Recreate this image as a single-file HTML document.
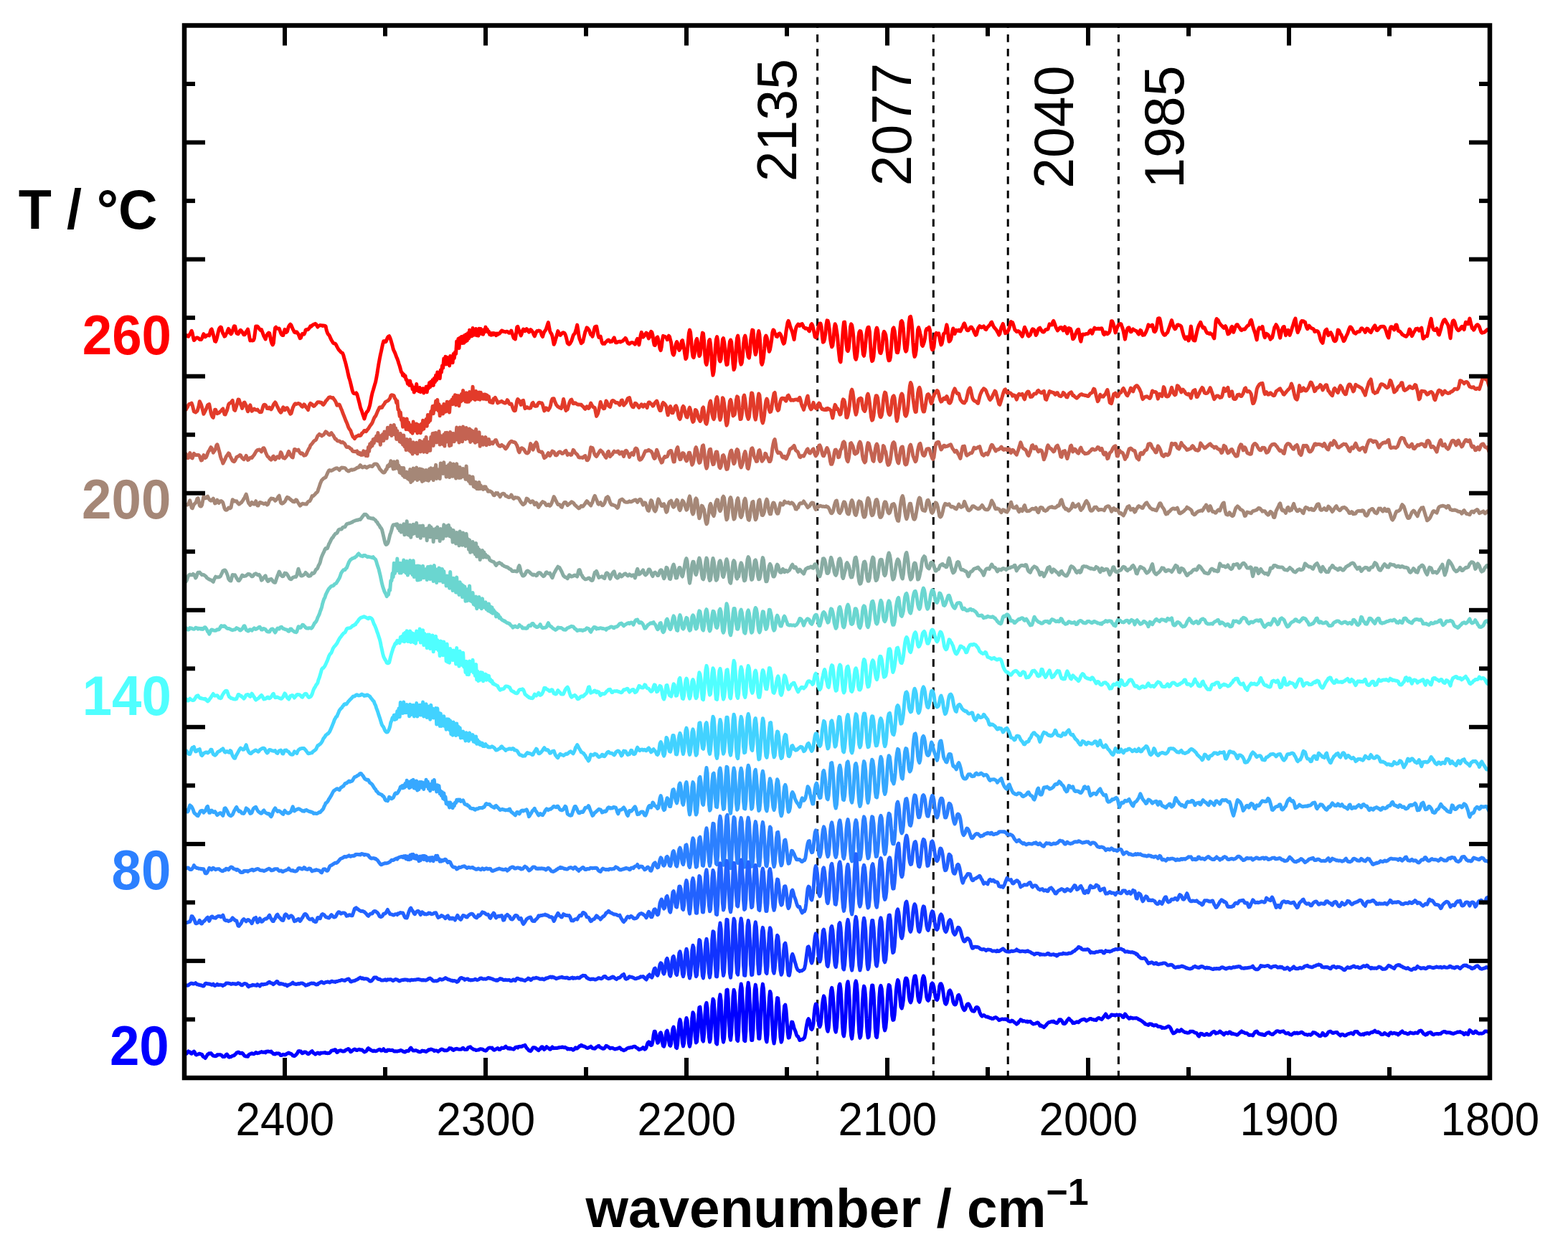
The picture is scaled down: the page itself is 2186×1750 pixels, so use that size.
<!DOCTYPE html>
<html><head><meta charset="utf-8"><title>IR spectra</title>
<style>
html,body{margin:0;padding:0;background:#fff;}
body{width:2186px;height:1750px;overflow:hidden;}
svg{display:block;}
.t{font-family:"Liberation Sans",Arial,sans-serif;}
</style></head><body>
<svg width="2186" height="1750" viewBox="0 0 2186 1750">
<rect x="0" y="0" width="2186" height="1750" fill="#fff"/>
<g stroke="#000" stroke-width="3" stroke-dasharray="10.7 9.094" stroke-dashoffset="7.2">
<line x1="1139.6" y1="35.5" x2="1139.6" y2="1503"/>
<line x1="1301.3" y1="35.5" x2="1301.3" y2="1503"/>
<line x1="1405.2" y1="35.5" x2="1405.2" y2="1503"/>
<line x1="1559.4" y1="35.5" x2="1559.4" y2="1503"/>
</g>
<g fill="none" stroke-width="5" stroke-linejoin="round" stroke-linecap="butt">
<path stroke="#FF0000" d="M257 470.3l1.1-1.6 1.1-1.3 1.2 .3 1.1 1.2 1.1 .3 1.1-2 1.1-1.1 1.2-2.4 1.1-2.4 1.1 3.1 1.1 5.7 1.1 4.4 1.2-1 1.1-1.5 1.1-.8 1.1-.4 1.1 .3 1.2 1.1 1.1 1.2 1.1 .1 1.1 0 1.1-1.8 1.2-3.5 1.1-2.5 1.1 1.7 1.1 2.4 1.1-.8 1.2-1.1 1.1-.7 1.1 .3 1.1 .5 1.1-4.2 1.2-3.7 1.1-1.1 1.1 3.5 1.1 4 1.1 4.3 1.2 5 1.1 .5 1.1-2.9 1.1-4.1 1.1-5 1.2-5 1.1-2 1.1-1.2 1.1 .5 1.1 4.7 1.2 3.7 1.1 1.7 1.1 2.4 1.1-.7 1.1-2.8 1.2-1.6 1.1-3.4 1.1-2.2 1.1 1.8 1.1 4 1.2 1.6 1.1-1.3 1.1-2.9 1.1-3.7 1.1-3.2 1.2 .2 1.1 4.7 1.1 4.9 1.1 .9 1.1 .3 1.2-1.6 1.1-2.6 1.1-1.2 1.1 1.2 1.1 1.4 1.2 2 1.1 1.9 1.1-.1 1.1-1.4 1.1-2.8 1.2-1.3 1.1-2.2 1.1 4.3 1.1 6.5 1.1 5.1 1.2-.2 1.1 .1 1.1 .1 1.1-.3 1.1-2.6 1.2-8.6 1.1-8.5 1.1 .3 1.1-.1 1.1 1.1 1.2 1.9 1.1 1.5 1.1 .9 1.1-.9 1.1 3 1.2 3.2 1.1 3 1.1 1.8 1.1 2.3 1.1-3.6 1.2-2.5 1.1-1.7 1.1-1 1.1 .4 1.1 5.6 1.2 5.8 1.1 3.2 1.1 1.8 1.1-2.4 1.1-11.2 1.2-10 1.1-1.1 1.1 1.3 1.1 .8 1.1-.1 1.2-.1 1.1 2.9 1.1 3.3 1.1 2.2 1.1 1.1 1.2 0 1.1-4.3 1.1-3.9 1.1 1.7 1.1 2.3 1.2-1 1.1-4.1 1.1-3.3 1.1-1.7 1.1-1.1 1.2 1.3 1.1 2.6 1.1 2.7 1.1 2.1 1.1 2.3 1.2 .5 1.1-.9 1.1 .1 1.1 1.8 1.1 1.2 1.2 3.1 1.1 2.7 1.1-.6 1.1-3.1 1.1-2.7 1.2 .6 1.1 .3 1.1-2.3 1.1-3.8 1.1-.5 1.2 .1 1.1-.2 1.1-1.4 1.1-1.4 1.1-2 1.2 .5 1.1-1.3 1.1-.7 1.1-.9 1.1-.3 1.2-.6 1.1 .9 1.1 1.9 1.1 1.8 1.1-1.3 1.2-.6 1.1-.6 1.1 .3 1.1 0 1.1 .6 1.2-.5 1.1 .4 1.1-.1 1.1 .8 1.1 5.4 1.2 3.6 1.1 2.1 1.1 1 1.1 1.9 1.1 2.7 1.2 2.5 1.1 1.7 1.1 2 1.1 .9 1.1 .1 1.2 .4 1.1 1.8 1.1 2.3 1.1 2 1.1 2 1.2 1.3 1.1 1.1 1.1 1.4 1.1 .7 1.1 .6 1.2 2.9 1.1 4.4 1.1 3.6 1.1 4 1.1 4.6 1.2 4.9 1.1 5.3 1.1 4.6 1.1 3.2 1.1 4.3 1.2 5 1.1 4.8 1.1 3.2 1.1 1.3 1.1 .2 1.2 .1 1.1-1 1.1 1.9 1.1 4.1 1.1 4.1 1.2 4.6 1.1 4.8 1.1 3.5 1.1 2.6 1.1 3.7 1.2 3.4 1.1 3.4 1.1-3.5 1.1-3.5 1.1-2.3 1.2-1.1 1.1-1.8 1.1-3.2 1.1-3.7 1.1-5.9 1.2-6.4 1.1-4.8 1.1-3.5 1.1-3.8 1.1-3.9 1.2-3.8 1.1-5.7 1.1-6.1 1.1-7.2 1.1-6.6 1.2-6.6 1.1-5.6 1.1-4.8 1.1-5.2 1.1-5.1 1.2-4.1 1.1-.2 1.1 1.1 1.1-.2 1.1-3.1 1.2-2.9 1.1-1.3 1.1-.6 1.1 2.4 1.1 2.8 1.2 4.3 1.1 3.9 1.1 4.7 1.1 2.7 1.1 2.1 1.2 3.1 1.1 3.1 1.1 2.4 1.1 3.2 1.1 3.7 1.2 3.5 1.1 4 1.1 4.1 1.1 1 1.1 3.9 1.2-1.7 1.1 3.5 1.1-1.2 1.1 5.4 1.1 .1 1.2 5.7 1.1-2.2 1.1 4.1 1.1-6.1 1.1 6.6 1.2-1.1 1.1 6.1 1.1-2.9 1.1 7.3 1.1-4.4 1.2 1.3 1.1-8.4 1.1 8.8 1.1-3.5 1.1 4.7 1.2-5.1 1.1 6.1 1.1-2.9 1.1 2 1.1-4 1.2 6.3 1.1-5.6 1.1 3.1 1.1-6.2 1.1 7.6 1.2-8.2 1.1 2.7 1.1-7.6 1.1 5.7 1.1-7.2 1.2 4.8 1.1-7.4 1.1 7.7 1.1-9.8 1.1 5.2 1.2-9.5 1.1 6.8 1.1-11 1.1 4.5 1.1-3.4 1.2 7.6 1.1-11.8 1.1 3.1 1.1-9 1.1 3.1 1.2-13.2 1.1 8 1.1-10.7 1.1 10.6 1.1-9.6 1.2 9.1 1.1-4.8 1.1 7.4 1.1-13.5 1.1 8 1.2-6.6 1.1 7.9 1.1-12.4 1.1 6.1 1.1-8.5 1.2 2.3 1.1-17.3 1.1 6.9 1.1-10.4 1.1 13 1.2-14.4 1.1 6.8 1.1-8.4 1.1 8.9 1.1-9.5 1.2 9.4 1.1-10.7 1.1 8.7 1.1-10.1 1.1 8.7 1.2-10.4 1.1 7.6 1.1-11.8 1.1 9 1.1-4.6 1.2 4 1.1-11.1 1.1 9.7 1.1-7.4 1.1 7.1 1.2-8.6 1.1 9.4 1.1-5.3 1.1 5.6 1.1-9.9 1.2 6.4 1.1-6.1 1.1 7.1 1.1-4.5 1.1 5.1 1.2-6.4 1.1 3 1.1-6.7 1.1 4.6 1.1-1.7 1.2 4.1 1.1-1 1.1 4.4 1.1-1.9 1.1 2.6 1.2-2.5 1.1 2 1.1-2.2 1.1 1.6 1.1-.9 1.2 2.5 1.1-2.6 1.1 1.5 1.1-1.6 1.1 .3 1.2-1.1 1.1-1.9 1.1-1.3 1.1 .3 1.1 .9 1.2 0 1.1 .5 1.1 .4 1.1-.8 1.1-.1 1.2 .9 1.1 1.2 1.1-.1 1.1-1.2 1.1-1.9 1.2 3.2 1.1 4.1 1.1 3 1.1 .7 1.1 .8 1.2-8.2 1.1-8.5 1.1-.9 1.1 3.5 1.1 3.8 1.2 2.9 1.1 2.4 1.1-2.8 1.1-4.1 1.1-2 1.2 1 1.1 1.6 1.1-2 1.1-1 1.1 .8 1.2 2.4 1.1 1.3 1.1-2.4 1.1-1.1 1.1 .8 1.2 1.7 1.1 1.8 1.1 3 1.1 2 1.1-2.9 1.2-3 1.1-1.4 1.1 .2 1.1-.8 1.1 .3 1.2 .3 1.1 2.6 1.1 3.6 1.1 1.7 1.1-3.7 1.2-3.1 1.1-1.5 1.1-1.5 1.1-3 1.1-3.8 1.2-3.3 1.1 6.1 1.1 5.6 1.1 2.8 1.1 1.3 1.2 3.4 1.1 5.6 1.1 5.9 1.1-2.3 1.1-4.2 1.2-3.8 1.1-4 1.1-4.4 1.1 2.3 1.1 3.1 1.2 .4 1.1-1.2 1.1-1.3 1.1-1 1.1-.2 1.2 .5 1.1 1.8 1.1 3.1 1.1 4.2 1.1 5.1 1.2 1.2 1.1 .5 1.1-1 1.1-1.8 1.1-2 1.2-3.8 1.1-3.6 1.1-1.7 1.1-1 1.1-3.3 1.2-4.3 1.1-4.5 1.1 6.3 1.1 8.2 1.1 5 1.2 2.8 1.1 3.4 1.1-1.1 1.1-.9 1.1-4.3 1.2-5.2 1.1-4.7 1.1-2.4 1.1-3.4 1.1 .7 1.2 1.5 1.1 1.8 1.1 3.2 1.1 2.8 1.1 .3 1.2 2.2 1.1-3.5 1.1-5.8 1.1-3.9 1.1-.8 1.2-.2 1.1 5.3 1.1 6.6 1.1 3.4 1.1-.9 1.2-.4 1.1 4.6 1.1 4.3 1.1 1.3 1.1-.4 1.2 .4 1.1-1.7 1.1-1 1.1-.9 1.1-1.1 1.2-.6 1.1 .9 1.1 1.7 1.1-.5 1.1 .2 1.2-1.4 1.1-2.5 1.1-1.6 1.1 3.5 1.1 3.4 1.2 .1 1.1-1 1.1 0 1.1-.4 1.1-.4 1.2 .9 1.1-.7 1.1-.4 1.1-.6 1.1-1.4 1.2-.9 1.1-1.5 1.1 1.4 1.1 3.1 1.1 2.4 1.2 .9 1.1 .3 1.1-1.2 1.1-.3 1.1-.4 1.2 .2 1.1 .5 1.1 .4 1.1 1.4 1.1-2.4 1.2-3.5 1.1-1.9 1.1 4.2 1.1 4.4 1.1-6.1 1.2-7.6 1.1-3.8 1.1 3.2 1.1 3.5 1.1-1 1.2-1.6 1.1-2 1.1-1.4 1.1 1 1.1 4 1.2 2.8 1.1-1.7 1.1-5.7 1.1-2.2 1.1 1 1.2 4.2 1.1 8.4 1.1 5.4 1.1 .2 1.1-4.5 1.2-6.3 1.1-.7 1.1 3.6 1.1 6.4 1.1 6.1 1.2 2.5 1.1-5.2 1.1-9.2 1.1-5.8 1.1 .6 1.2 .2 1.1 .9 1.1 .3 1.1 3.3 1.1-2.5 1.2-3 1.1 1.4 1.1 4.4 1.1 4 1.1 9.9 1.2 5.6 1.1 1.5 1.1-2.9 1.1-8.1 1.1-4.6 1.2-2.8 1.1 2.2 1.1 7 1.1 2.6 1.1-1.8 1.2-1.8 1.1-9.1 1.1-1.1 1.1 4.9 1.1 6.1 1.2 8.5 1.1 6.4 1.1-1.5 1.1-7.7 1.1-13.6 1.2-13.2 1.1-4.4 1.1 3.4 1.1 10.9 1.1 15 1.2 7.8 1.1 1.4 1.1-4.8 1.1-10.2 1.1-8.4 1.2-2.8 1.1 5.2 1.1 13 1.1 5.9 1.1-1.6 1.2-8.9 1.1-14.8 1.1-7.1 1.1 .9 1.1 10.7 1.2 19.9 1.1 10.4 1.1 2.6 1.1-5.3 1.1-15 1.2-12.8 1.1-2 1.1 6.4 1.1 14.4 1.1 20.3 1.2 8.7 1.1-4.8 1.1-12.1 1.1-21.7 1.1-11.4 1.2-3.7 1.1 5.5 1.1 15.6 1.1 11.2 1.1 2.1 1.2-3.1 1.1-13.5 1.1-14 1.1-1.8 1.1 5.3 1.2 9.4 1.1 16.7 1.1 5.8 1.1-.5 1.1-9.3 1.2-14.7 1.1-8.1 1.1-2.2 1.1 2.8 1.1 12 1.2 18.3 1.1 8.5 1.1-3 1.1-9.6 1.1-19.9 1.2-11.8 1.1-3.2 1.1 6.3 1.1 16.5 1.1 13.1 1.2 4.2 1.1-2.4 1.1-9 1.1-16.5 1.1-8.9 1.2-3.2 1.1 4.3 1.1 11.7 1.1 6.8 1.1 6.7 1.2 1.4 1.1-7.8 1.1-16.9 1.1-7.8 1.1-6.5 1.2 .4 1.1 14.9 1.1 13.1 1.1 6 1.1-3.6 1.2-10.7 1.1-13.4 1.1-5.3 1.1 5 1.1 14.8 1.2 24.1 1.1 2.9 1.1-3.4 1.1-6.4 1.1-11.5 1.2-16.4 1.1-2.6 1.1 2.3 1.1 4.5 1.1 9.1 1.2 6.4 1.1-2.7 1.1-6.2 1.1-7 1.1-10.4 1.2-4 1.1 .6 1.1 4.2 1.1 1.2 1.1 3.1 1.2 .4 1.1-2.4 1.1-1.6 1.1-.6 1.1 1.3 1.2 2.4 1.1 4.3 1.1 3.8 1.1 2.6 1.1-1.2 1.2-6.7 1.1-8.9 1.1-6.6 1.1-6.3 1.1-2.2 1.2 3 1.1 4.1 1.1 3.6 1.1 2.5 1.1 3 1.2 5.1 1.1 4.8 1.1-8.1 1.1-6.1 1.1-3.8 1.2-1.7 1.1-1.7 1.1 .5 1.1 1.8 1.1-1.1 1.2-1.4 1.1-.3 1.1 2 1.1 2.9 1.1 .5 1.2 1.1 1.1-.5 1.1 .6 1.1 .3 1.1 2 1.2 1.4 1.1-3.8 1.1-5.1 1.1-1.3 1.1 2.2 1.2 5 1.1 5.4 1.1 5.5 1.1 .8 1.1-.7 1.2-5.5 1.1-6.9 1.1-3.6 1.1-2.8 1.1 0 1.2 4.9 1.1 12.8 1.1 8.5 1.1-.8 1.1-3.5 1.2-7.8 1.1-11.7 1.1-6.6 1.1 .2 1.1 4.2 1.2 8.8 1.1 12.6 1.1 6.8 1.1 4.3 1.1-2 1.2-8.5 1.1-15.8 1.1-5.7 1.1 2.4 1.1 7.1 1.2 7.9 1.1 14.6 1.1 10.7 1.1 8.7 1.1 1.6 1.2-12.7 1.1-18.4 1.1-14.7 1.1-9.7 1.1-.2 1.2 12.1 1.1 18 1.1 9 1.1 1.4 1.1-3.3 1.2-11.8 1.1-18.4 1.1-4.2 1.1 1.6 1.1 6.2 1.2 11 1.1 18.6 1.1 9.6 1.1 2.3 1.1-3.8 1.2-9.8 1.1-16.4 1.1-7.7 1.1-2 1.1 .4 1.2 5.9 1.1 16.4 1.1 9.7 1.1 2.4 1.1-5.9 1.2-11.8 1.1-12.7 1.1-6.5 1.1-3 1.1-.2 1.2 6.4 1.1 19.1 1.1 15.7 1.1 6.2 1.1-.8 1.2-5.9 1.1-12.8 1.1-14.8 1.1-9 1.1-3.3 1.2 3.2 1.1 10.1 1.1 16.5 1.1 5.2 1.1 .6 1.2-4.2 1.1-8.7 1.1-14 1.1-3.3 1.1 1.6 1.2 2.9 1.1 7.8 1.1 14.8 1.1 9.5 1.1 3.8 1.2-.4 1.1-4.5 1.1-14.8 1.1-16.2 1.1-8.3 1.2-1.6 1.1 4.4 1.1 8.9 1.1 14.7 1.1 6.6 1.2 .1 1.1-4.5 1.1-11.1 1.1-17.9 1.1-9.4 1.2-1.3 1.1 2.5 1.1 8.4 1.1 16 1.1 11.8 1.2 3.9 1.1-1.4 1.1-8.3 1.1-13.2 1.1-16.9 1.2-8.3 1.1-.7 1.1 5.1 1.1 10.6 1.1 20.4 1.2 14.6 1.1 5.4 1.1-2.2 1.1-6.8 1.1-14.4 1.2-14.4 1.1-2.9 1.1 3.5 1.1 5.1 1.1 4.1 1.2 11.4 1.1 1.7 1.1-2.6 1.1-3.5 1.1-4.9 1.2-10.7 1.1-2.2 1.1 1 1.1-2.2 1.1-1.1 1.2 3.7 1.1 14.7 1.1 9.7 1.1 3.4 1.1-.6 1.2-3.6 1.1-10.9 1.1-6.6 1.1-1.7 1.1 2.1 1.2-1.3 1.1-.3 1.1 5.5 1.1 6.1 1.1 4.4 1.2-1.8 1.1-5.8 1.1-7.4 1.1-1.3 1.1-.5 1.2-6.5 1.1-4.7 1.1 5.2 1.1 11.7 1.1 6.5 1.2-.9 1.1-2 1.1-4.8 1.1-6.9 1.1-3.7 1.2 3 1.1 4.5 1.1-3.7 1.1-1.5 1.1 .9 1.2 .1 1.1-1.2 1.1 1.6 1.1 .2 1.1-1.9 1.2-2.7 1.1-1.6 1.1-3.4 1.1-1.4 1.1 2.8 1.2 3.9 1.1 2.5 1.1 .7 1.1-.1 1.1-1.7 1.2-1.9 1.1-1.1 1.1 .2 1.1 1.8 1.1 1.7 1.2 3.2 1.1 2.3 1.1 2.1 1.1-.7 1.1-4.1 1.2-4.6 1.1-1.7 1.1-1.6 1.1 .6 1.1 1.5 1.2-.1 1.1-.8 1.1-1 1.1 1.6 1.1 2.6 1.2 .6 1.1-2 1.1-1.5 1.1-1.1 1.1-1.2 1.2-1.4 1.1-2.5 1.1-.8 1.1 2.7 1.1 2.7 1.2 2 1.1 1.2 1.1 1.3 1.1 1.4 1.1 2.1 1.2 2.1 1.1 2.5 1.1-1.5 1.1-5 1.1-4.3 1.2-2.6 1.1-2.3 1.1 4.2 1.1 5.4 1.1 3.7 1.2-.6 1.1-.2 1.1-1.8 1.1-2.1 1.1-3.3 1.2-4.6 1.1-3.5 1.1 .9 1.1 .2 1.1 3.2 1.2 4.1 1.1 3.4 1.1 .6 1.1 1.5 1.1-.2 1.2-.7 1.1 .6 1.1 1.3 1.1 2.3 1.1 1.5 1.2 1.9 1.1-3 1.1-6.3 1.1-3.7 1.1 2.6 1.2 2.7 1.1 2.7 1.1 3.5 1.1 1.2 1.1-1 1.2-1.1 1.1-3.3 1.1-3.1 1.1-1.7 1.1 .5 1.2 1.1 1.1 3.8 1.1 3.4 1.1-1.6 1.1-3.5 1.2-3.5 1.1-1.2 1.1-.5 1.1 1.8 1.1 1.9 1.2 1.5 1.1 .5 1.1 0 1.1-1.6 1.1-1.5 1.2-.4 1.1 0 1.1-.3 1.1-3.6 1.1-3.7 1.2 1.1 1.1 .2 1.1 0 1.1-4.1 1.1-1.5 1.2 3 1.1 2.9 1.1 3.4 1.1 1.9 1.1 2.3 1.2-1.5 1.1-1.2 1.1-1.5 1.1-.4 1.1 .3 1.2 2.5 1.1 1.6 1.1-2.7 1.1-2.4 1.1 1.7 1.2 5.1 1.1 2.5 1.1-3.5 1.1-4 1.1 .4 1.2 .6 1.1 2.9 1.1 5.4 1.1 6 1.1-.7 1.2-2.1 1.1-3.2 1.1-2.6 1.1-2.6 1.1-1.8 1.2-.5 1.1 5.7 1.1 8 1.1 3.1 1.1-5.1 1.2-4.8 1.1-.1 1.1 .4 1.1-.2 1.1-.6 1.2-.2 1.1 .1 1.1-.4 1.1-1.5 1.1-2.3 1.2-.9 1.1 2.4 1.1 2.3 1.1-2.6 1.1-3.3 1.2-2.2 1.1 1.6 1.1 0 1.1-.4 1.1 .2 1.2-.4 1.1 .7 1.1-.6 1.1-.3 1.1-.1 1.2 3.3 1.1 4.3 1.1 1.3 1.1-1.2 1.1-2.1 1.2 1.5 1.1 .8 1.1-.8 1.1-1 1.1-2.2 1.2-7.2 1.1-6.8 1.1 .1 1.1 2.4 1.1 3.3 1.2 5.5 1.1 4.9 1.1-3.2 1.1-3.5 1.1-2.5 1.2-2.2 1.1-.7 1.1-.2 1.1 .1 1.1 3.1 1.2 3.4 1.1 4.1 1.1 5.7 1.1 5.1 1.1-5.8 1.2-6.1 1.1-3.1 1.1-1.2 1.1-.1 1.1 3.6 1.2 2.4 1.1-.4 1.1-2.1 1.1-1.4 1.1 1.1 1.2 .5 1.1 .7 1.1 .2 1.1 1.3 1.1 2 1.2 1.4 1.1-2.8 1.1-2.9 1.1 .8 1.1 3.6 1.2 2.6 1.1-.3 1.1 0 1.1-2.1 1.1-2 1.2-2.7 1.1-3.3 1.1-4.1 1.1 1.2 1.1 .7 1.2-.1 1.1-1.1 1.1-.5 1.1 4.4 1.1 4.6 1.2 .5 1.1-1.4 1.1-3.2 1.1-7 1.1-6.7 1.2-.6 1.1 .3 1.1 4.1 1.1 6.6 1.1 6.8 1.2 2.8 1.1 2.1 1.1 .9 1.1-.2 1.1-1.5 1.2-1.2 1.1-1.1 1.1-3.6 1.1-3 1.1-3.4 1.2-3.5 1.1-3.1 1.1 3.8 1.1 3.9 1.1 2.3 1.2 2.1 1.1-.7 1.1-2.5 1.1-2.5 1.1-.3 1.2 .5 1.1 .4 1.1 .6 1.1 1.2 1.1 4.4 1.2 4.4 1.1 3.8 1.1 2.9 1.1 1.7 1.1-1.5 1.2-1.3 1.1 2.2 1.1 2.9 1.1-2.1 1.1-9.3 1.2-8.7 1.1 7.3 1.1 8.1 1.1 3.8 1.1 .7 1.2 .2 1.1-5.1 1.1-4.9 1.1-4.8 1.1-3.9 1.2-3.3 1.1-1.8 1.1-1.9 1.1 3 1.1 2.9 1.2 1.9 1.1-.9 1.1 .8 1.1 2.9 1.1 2.3 1.2 2.2 1.1-.3 1.1 .9 1.1 .5 1.1-.9 1.2 1.3 1.1 .1 1.1 1.5 1.1 2.6 1.1 1.8 1.2-12.2 1.1-12 1.1-3.1 1.1 1.5 1.1 .5 1.2 2.9 1.1 1.7 1.1 1.4 1.1 1.3 1.1 .9 1.2 1.6 1.1 .9 1.1-1.1 1.1-1.5 1.1 2.5 1.2 4.5 1.1 4.2 1.1-.5 1.1-1 1.1-3.1 1.2-4.4 1.1-1.6 1.1 3.8 1.1 4.2 1.1-2.9 1.2-3.8 1.1-2.3 1.1-1.5 1.1-.1 1.1 2 1.2 1.5 1.1 1.7 1.1 2 1.1 .7 1.1-1.3 1.2-.2 1.1 .1 1.1 .1 1.1-1.5 1.1-1.6 1.2-1.5 1.1-.7 1.1-.6 1.1-2.3 1.1-3.6 1.2-1.4 1.1 3.7 1.1 4.9 1.1 3.9 1.1 3.1 1.2 3.6 1.1 4.7 1.1 3.9 1.1-8 1.1-6.9 1.2-2 1.1 .8 1.1 .5 1.1-1.2 1.1-1.8 1.2 6 1.1 6.3 1.1 3.1 1.1-2.8 1.1-2.7 1.2 1 1.1 .7 1.1 1.6 1.1 2.1 1.1 2.6 1.2-1.8 1.1-.2 1.1-4.2 1.1-5.3 1.1-5 1.2-1.8 1.1-2.2 1.1 1.8 1.1 2.3 1.1 3.7 1.2 5.9 1.1 4.7 1.1-5.1 1.1-4.9 1.1-3.1 1.2-2.3 1.1-.1 1.1 5.6 1.1 6.5 1.1-2.9 1.2-4.1 1.1-.4 1.1 3.9 1.1 3.2 1.1-3 1.2-3.5 1.1-3.8 1.1-3.4 1.1-3.6 1.1-3.6 1.2-2.4 1.1 7.2 1.1 8.5 1.1 3.8 1.1-2.8 1.2-2.1 1.1-4.6 1.1-4.9 1.1-1.7 1.1 .2 1.2 .1 1.1 1.3 1.1-.2 1.1 4 1.1 3.6 1.2 2.2 1.1-2.8 1.1-1.7 1.1 1.1 1.1 1.8 1.2 .3 1.1 .8 1.1 .3 1.1 .9 1.1 3.1 1.2-.3 1.1-.8 1.1 .1 1.1 .7 1.1 1.8 1.2 3.7 1.1 4.7 1.1 3.1 1.1 1.5 1.1 1.4 1.2-6.1 1.1-6.2 1.1-4.4 1.1-1.7 1.1-.8 1.2 4.3 1.1 4.1 1.1-1.6 1.1-1.7 1.1-.6 1.2 2 1.1 2.7 1.1 3.3 1.1 3.2 1.1 .9 1.2-.4 1.1-2.1 1.1-6.7 1.1-6.6 1.1 .5 1.2 2.2 1.1 3 1.1 1 1.1 2.8 1.1 2.9 1.2 3.3 1.1-.9 1.1-2.4 1.1-2.9 1.1-2.2 1.2-2.4 1.1-3.5 1.1-3.1 1.1-2.2 1.1 0 1.2 1.3 1.1 2.3 1.1 1.9 1.1 2.5 1.1 .3 1.2 .8 1.1-1.4 1.1-1 1.1-.1 1.1-.2 1.2-.2 1.1-2.5 1.1-1.9 1.1-.1 1.1 1 1.2 1 1.1 1.7 1.1 1.9 1.1-2.7 1.1-2.7 1.2 .4 1.1 1.3 1.1 2 1.1 1.1 1.1 .8 1.2-2.3 1.1-2.3 1.1-2 1.1-1.8 1.1-1.4 1.2 2.7 1.1 3.8 1.1 .4 1.1-1 1.1-1.7 1.2-1.3 1.1-1.2 1.1 .1 1.1-.4 1.1 .2 1.2-.1 1.1 1 1.1 2.8 1.1 2.6 1.1 3.9 1.2 3.5 1.1 1.9 1.1-6.3 1.1-6.6 1.1-2.3 1.2 0 1.1 .6 1.1 2 1.1 1.5 1.1-3.1 1.2-3.9 1.1 .1 1.1 3.9 1.1 4.2 1.1 .5 1.2 .5 1.1 1.3 1.1 1.2 1.1 1.8 1.1 .4 1.2 1 1.1 .4 1.1 .9 1.1 .2 1.1-1.6 1.2-1.5 1.1-3.4 1.1-3.8 1.1 1.2 1.1 5.4 1.2 3 1.1-1.7 1.1-2.6 1.1-1.8 1.1-1.8 1.2-2.2 1.1 0 1.1-.4 1.1 1.5 1.1 1.6 1.2-1 1.1-2.2 1.1-.8 1.1 7.4 1.1 7.6 1.2-.4 1.1-2.4 1.1-.4 1.1-.7 1.1 .6 1.2-5.3 1.1-5.7 1.1-4.6 1.1-5.2 1.1-3.7 1.2 7.1 1.1 5.3 1.1 2.8 1.1 .8 1.1 .2 1.2-.9 1.1-1.7 1.1 3.8 1.1 4.3 1.1 .7 1.2-4 1.1-3.6 1.1-4.9 1.1-3.2 1.1-3.1 1.2-2 1.1-.4 1.1 1.6 1.1 2.3 1.1 1.8 1.2 2 1.1 4.6 1.1 7.2 1.1 6.6 1.1-9.6 1.2-10.6 1.1-3.9 1.1-.7 1.1 1.4 1.1 3.3 1.2 4.8 1.1 2.1 1.1 1.3 1.1 1 1.1-.7 1.2-1 1.1-2.3 1.1-1.3 1.1-.2 1.1 2.5 1.2 1.7 1.1-5.6 1.1-4.6 1.1 .3 1.1 1.9 1.2 .2 1.1-4.1 1.1-3.5 1.1 4.7 1.1 4.7 1.2 4.3 1.1 .5 1.1 1.9 1.1-1.8 1.1-2.4 1.2-2 1.1-1 1.1-.3 1.1 1.2 1.1 1.7 1.2 3.6 1.1 3.4 1.1 1.6 1.1-.1 1.1-.6 1.2-.1 1.1-.6 1.1-1.3 1.1-.9 1.1-1.1 1.2 .5 1.1 .7 1.1 3.1"/>
<path stroke="#E23B2A" d="M257 570.3l1.1 0 1.1 .9 1.2-2.2 1.1-1.5 1.1-2.6 1.1-1.3 1.1-.4 1.2 0 1.1-1.1 1.1 2.8 1.1 4.5 1.1 4.6 1.2 .4 1.1 .6 1.1-.9 1.1-.8 1.1-3.2 1.2-4.5 1.1-5.9 1.1 2.3 1.1 2.1 1.1 4.1 1.2 4.8 1.1 4.3 1.1-2 1.1-2.3 1.1-2.1 1.2-3.1 1.1-3 1.1-.7 1.1-.4 1.1 5.4 1.2 6.4 1.1 3.7 1.1 2.2 1.1 .9 1.1-5.2 1.2-5.8 1.1-.1 1.1 3.2 1.1 2.3 1.1-.6 1.2-.2 1.1-1.4 1.1-1 1.1-.7 1.1-1.7 1.2-1.1 1.1 4 1.1 3.8 1.1 .2 1.1-2.6 1.2-2.8 1.1-4.1 1.1-4.5 1.1-1.4 1.1-.4 1.2-1 1.1-1.3 1.1-1.6 1.1 6.4 1.1 6.7 1.2 1 1.1-3.1 1.1-3.4 1.1-4.6 1.1-4.3 1.2 .2 1.1 3.4 1.1 3 1.1 2.2 1.1 3.6 1.2-3.1 1.1-4.8 1.1-.5 1.1 2.6 1.1 1.7 1.2 5.1 1.1 3.4 1.1-2.3 1.1-3.8 1.1-2.8 1.2 4.3 1.1 4.1 1.1-.8 1.1-1.7 1.1-.8 1.2 .9 1.1 .7 1.1 .1 1.1-.6 1.1 1.5 1.2 1 1.1 1.2 1.1-.3 1.1 .1 1.1-3.6 1.2-4.4 1.1-2.2 1.1-.2 1.1 .5 1.1 1.9 1.2 3 1.1 0 1.1 .1 1.1-1.5 1.1 1.3 1.2 1.4 1.1-1.8 1.1-2.4 1.1-2.6 1.1-1.6 1.2-1.5 1.1 1.5 1.1 2.6 1.1 2.4 1.1 2 1.2 2.7 1.1 1.5 1.1 1.5 1.1-1.2 1.1-3.5 1.2-2.7 1.1 2 1.1 2 1.1-1.3 1.1-1.5 1.2-.2 1.1 1.8 1.1 2.5 1.1 2.1 1.1 2 1.2-.8 1.1-3.6 1.1-4.2 1.1-2.1 1.1-2.5 1.2-1.1 1.1 .7 1.1-.4 1.1-.4 1.1-.3 1.2 .7 1.1 .3 1.1 1.4 1.1 1.5 1.1 .8 1.2-1.7 1.1-1.7 1.1 1 1.1 2.2 1.1 1.4 1.2 1.2 1.1 2.1 1.1-4.5 1.1-3.3 1.1-1.6 1.2 1.1 1.1 .2 1.1 1.9 1.1 .9 1.1-.4 1.2-1.5 1.1-1 1.1-1.5 1.1-1.3 1.1 0 1.2 .1 1.1 .6 1.1-.2 1.1 .3 1.1 2.2 1.2 .8 1.1-1.4 1.1-1.5 1.1-2.3 1.1-.9 1.2-1.6 1.1-1.2 1.1-1.5 1.1-.3 1.1 0 1.2 .7 1.1 .5 1.1-.5 1.1 1.7 1.1 1.5 1.2 1.8 1.1 2.4 1.1 3.4 1.1-.2 1.1-1.1 1.2 .2 1.1 2.5 1.1 3 1.1 2.2 1.1 3.1 1.2 3.1 1.1 2.7 1.1 2.9 1.1 2.9 1.1 2.3 1.2 3 1.1 3.2 1.1 2.4 1.1 1.4 1.1 1.5 1.2 3.6 1.1 2.8 1.1 2.6 1.1 .6 1.1 1.7 1.2-1.8 1.1-1.5 1.1-.2 1.1-.6 1.1-.7 1.2 .7 1.1-.3 1.1-.7 1.1-2.5 1.1-.6 1.2-1.5 1.1-1.6 1.1 0 1.1 1.3 1.1-.9 1.2-2 1.1-1 1.1-1.9 1.1-1.7 1.1-1.6 1.2-1.5 1.1-1.8 1.1-2.9 1.1-2.8 1.1-2.1 1.2-1.3 1.1-2.3 1.1-2.8 1.1-2.7 1.1-1.9 1.2-2.6 1.1-.1 1.1 .8 1.1-.2 1.1-2.2 1.2-1.7 1.1-1.3 1.1-2.3 1.1-.7 1.1-.8 1.2-.4 1.1-.8 1.1-1.4 1.1-1.6 1.1-3.5 1.2-1 1.1 .2 1.1 .2 1.1 .8 1.1 3.5 1.2 1.3 1.1 5.1 1.1-2.7 1.1 11.9 1.1 .3 1.2 9 1.1-5.4 1.1 10.5 1.1-1.4 1.1 11.2 1.2-11.4 1.1 10.3 1.1-5.9 1.1 10.5 1.1-14.8 1.2 14.9 1.1-9.7 1.1 10.3 1.1-7 1.1 9.9 1.2-8.3 1.1 10.2 1.1-16.1 1.1 12.8 1.1-6.8 1.2 6.6 1.1-9.6 1.1 12.8 1.1-11.6 1.1 10.4 1.2-9.8 1.1 10.9 1.1-12.5 1.1 8.3 1.1-13.3 1.2 11.8 1.1-9 1.1 2.1 1.1-6.7 1.1 9.7 1.2-15.7 1.1 10.5 1.1-10.6 1.1 8.2 1.1-12.8 1.2 3.1 1.1-10.3 1.1 10.1 1.1-11 1.1 5.7 1.2-12.2 1.1 9.3 1.1-10.9 1.1 15 1.1-8.8 1.2 15.9 1.1-13.3 1.1 8.9 1.1-7.9 1.1 9.7 1.2-13.6 1.1 10.9 1.1-7.1 1.1 6.6 1.1-13.6 1.2 7.6 1.1-1.5 1.1 8.7 1.1-15.4 1.1 4.1 1.2-6.4 1.1 6.3 1.1-9.9 1.1 6.1 1.1-9.2 1.2 14 1.1-13.1 1.1 10.8 1.1-10.7 1.1 14.2 1.2-13.8 1.1 7.9 1.1-10.5 1.1 8.9 1.1-14 1.2 12.5 1.1-6.4 1.1 9.5 1.1-12.3 1.1 12.7 1.2-9.2 1.1 9 1.1-13.7 1.1 11.4 1.1-10.1 1.2 5.7 1.1-14.2 1.1 16.9 1.1-5.2 1.1 6.5 1.2-12.1 1.1 10.8 1.1-8.2 1.1 8.5 1.1-9.6 1.2 10.3 1.1-10 1.1 7.6 1.1-3.9 1.1 5.3 1.2-6.2 1.1 6.2 1.1-6.1 1.1 6.8 1.1-5.8 1.2 5.5 1.1-3.6 1.1 7.4 1.1-1.8 1.1 2.5 1.2-2.3 1.1 2.8 1.1-5.6 1.1 1.4 1.1-3.1 1.2 2.4 1.1 1.8 1.1 3.5 1.1-.8 1.1-.1 1.2-.9 1.1-.1 1.1-.7 1.1 .8 1.1 1 1.2 .3 1.1 .7 1.1-.4 1.1-1.5 1.1-2.6 1.2 1.4 1.1 3 1.1 1.4 1.1 .1 1.1-.5 1.2 3.1 1.1 3.4 1.1 2.5 1.1 .7 1.1-.2 1.2-6.9 1.1-6.6 1.1-2.6 1.1 1.2 1.1 1.2 1.2 2.8 1.1 2.8 1.1-2.4 1.1-3.5 1.1-.2 1.2 6 1.1 5.2 1.1-.6 1.1-1.1 1.1-.2 1.2 1.2 1.1 .3 1.1 0 1.1-.3 1.1-3 1.2-3.6 1.1-.8 1.1 2.5 1.1 2 1.1 .4 1.2-.2 1.1-.2 1.1-2.8 1.1-1.4 1.1-.6 1.2 .6 1.1 .2 1.1 .1 1.1 2.3 1.1 4.3 1.2 4.2 1.1-1.2 1.1-2.8 1.1 .3 1.1 1.8 1.2 .8 1.1-1.8 1.1-1.6 1.1-3.7 1.1-5.8 1.2-2.7 1.1-.4 1.1-.1 1.1 3.5 1.1 2.5 1.2 2.9 1.1 1.2 1.1 1.4 1.1 .3 1.1 1.1 1.2 .2 1.1 .8 1.1-2.7 1.1-4.8 1.1-5.6 1.2 4.9 1.1 7.7 1.1 3.5 1.1-1.1 1.1-.5 1.2-4.7 1.1-3.6 1.1-3 1.1-1.9 1.1-.6 1.2 2.8 1.1 2.7 1.1 .1 1.1-1 1.1 .1 1.2 1.1 1.1 .8 1.1 .4 1.1-.2 1.1 .3 1.2-.2 1.1 .2 1.1 1.5 1.1 .8 1.1 .9 1.2 1.8 1.1 1 1.1-1.1 1.1-2.4 1.1 1.6 1.2 1.1 1.1-.9 1.1-3.4 1.1-3.2 1.1 2.4 1.2 1.9 1.1 1.5 1.1 .1 1.1 .9 1.1 5.9 1.2 5.7 1.1-2 1.1-2.5 1.1-4.4 1.1-5.1 1.2-5.9 1.1 3.4 1.1 3.1 1.1 1.5 1.1 1.3 1.2-.4 1.1-4.8 1.1-5.6 1.1 1.4 1.1 3.1 1.2 2.4 1.1 .9 1.1 .7 1.1-4 1.1-3.9 1.2-1.2 1.1 .2 1.1 .8 1.1 .8 1.1 1.4 1.2 .1 1.1-.3 1.1 .6 1.1 1.5 1.1 1.3 1.2-2.8 1.1-3.7 1.1-.3 1.1 3.8 1.1 3.4 1.2-1.5 1.1-1.1 1.1-1.4 1.1-3.4 1.1-2.2 1.2-.5 1.1-.6 1.1 3.9 1.1 4.9 1.1 2.5 1.2 1.6 1.1 .4 1.1-2.2 1.1-3.3 1.1 .1 1.2 1.1 1.1 1.5 1.1 2 1.1 1.3 1.1-1.6 1.2-1.5 1.1-1.4 1.1 2 1.1 1.4 1.1-1.4 1.2-1.6 1.1 .6 1.1 1.7 1.1 2.1 1.1-4.4 1.2-3.3 1.1 .1 1.1 1.2 1.1 1.2 1.1 .5 1.2 2.3 1.1-.6 1.1-2.5 1.1-1.7 1.1-1.1 1.2-1.2 1.1 2.5 1.1 4.9 1.1 3.4 1.1 2.5 1.2 .1 1.1-3.4 1.1-5.8 1.1-1.8 1.1 .8 1.2 1.1 1.1 1.6 1.1 2.1 1.1 7.5 1.1 4.2 1.2-4.7 1.1-5.3 1.1-2.3 1.1 3 1.1 6.2 1.2 .1 1.1-2.7 1.1-2.7 1.1-3.6 1.1-1 1.2 2.5 1.1 4.8 1.1 6.7 1.1 3.5 1.1 1.2 1.2-3.6 1.1-7 1.1-5.6 1.1-1.8 1.1 1.4 1.2 5.3 1.1 5.1 1.1 3.2 1.1 .5 1.1-5.3 1.2-6 1.1-2.5 1.1 3.2 1.1 5.9 1.1 7.6 1.2 3.6 1.1-1 1.1-6.6 1.1-9.4 1.1 .3 1.2 2.4 1.1 4.6 1.1 4.6 1.1 1.8 1.1 2.2 1.2-1.6 1.1-9.3 1.1-7.1 1.1-1.4 1.1 5.9 1.2 11.2 1.1 5 1.1 1.1 1.1-4 1.1-10.3 1.2-8.6 1.1-6.8 1.1-2.4 1.1 6 1.1 11.9 1.2 5.5 1.1 2.2 1.1-3.1 1.1-16 1.1-9.1 1.2-3 1.1 4.9 1.1 12 1.1 10.9 1.1 4.2 1.2-4 1.1-13.2 1.1-13.6 1.1 1.5 1.1 6.5 1.2 10 1.1 14.7 1.1 5.8 1.1-2.8 1.1-8.5 1.2-13.8 1.1-8.8 1.1-1.8 1.1 4.2 1.1 9.8 1.2 8.4 1.1-.8 1.1-1.3 1.1-6.2 1.1-13.7 1.2-5 1.1 .8 1.1 7.4 1.1 15.4 1.1 8.1 1.2-.5 1.1-6.6 1.1-9.2 1.1-14.7 1.1-2.6 1.2 6.2 1.1 9 1.1 10.2 1.1 5.1 1.1 3 1.2-3 1.1-10.1 1.1-15.5 1.1-8 1.1 .4 1.2 7.3 1.1 15 1.1 10.6 1.1 4 1.1-5.5 1.2-10.5 1.1-13.8 1.1-6.5 1.1 2.1 1.1 10.4 1.2 18.2 1.1 7.3 1.1 2.9 1.1-3.6 1.1-7.1 1.2-12.8 1.1-7.4 1.1-2.8 1.1 2.3 1.1 7.4 1.2 6 1.1 2.6 1.1-.5 1.1-3.5 1.1-9.6 1.2-6.5 1.1-5.8 1.1-1.1 1.1 7.6 1.1 10.7 1.2 4.8 1.1 1.9 1.1-1.4 1.1-6.6 1.1-5.3 1.2-2.9 1.1-1 1.1 .1 1.1 .9 1.1-.6 1.2 2.7 1.1 .9 1.1-3 1.1-4.2 1.1-.8 1.2 2.2 1.1 3.1 1.1 1.8 1.1-.3 1.1-.4 1.2 .7 1.1-.4 1.1-.7 1.1 0 1.1-.2 1.2 .6 1.1 .5 1.1-2.3 1.1-1.5 1.1 3.1 1.2 5.5 1.1 3.4 1.1 2.1 1.1 3 1.1-4.1 1.2-2.7 1.1-4.9 1.1-5 1.1-2.7 1.1 6.9 1.2 7 1.1 2.9 1.1 2 1.1-.8 1.1-4.4 1.2-4.2 1.1 3.1 1.1 3.4 1.1 1.4 1.1 .5 1.2-1.3 1.1-3.9 1.1-2.5 1.1 .9 1.1 3.9 1.2 2.4 1.1 1.4 1.1-.4 1.1 1 1.1 .1 1.2 .2 1.1-1.8 1.1 1.5 1.1-1.9 1.1 .6 1.2 .6 1.1 1.3 1.1 .6 1.1 6.1 1.1 4.3 1.2-5.7 1.1-8.7 1.1-4.1 1.1 1.9 1.1 4.2 1.2-.9 1.1 2.2 1.1 2.8 1.1 3.5 1.1-.5 1.2-6.4 1.1-10.8 1.1-3.5 1.1 .5 1.1 3 1.2 8.9 1.1 12.7 1.1 .3 1.1-3.5 1.1-5.5 1.2-8.2 1.1-12.2 1.1-7.1 1.1-2.6 1.1 3.4 1.2 8.2 1.1 12.1 1.1 6.9 1.1 4.4 1.1-3.4 1.2-7.8 1.1-9.3 1.1-1.5 1.1 1.3 1.1-2.3 1.2 .8 1.1 8.8 1.1 5.5 1.1 2 1.1 1.1 1.2-2.9 1.1-10.7 1.1-8.3 1.1-2.3 1.1 4.2 1.2 8.4 1.1 10.3 1.1 9.5 1.1 4.5 1.1-1 1.2-5.6 1.1-10.3 1.1-12.4 1.1-5 1.1 0 1.2 2.8 1.1 8.4 1.1 12.5 1.1 5.3 1.1 .9 1.2-2.5 1.1-7.1 1.1-13 1.1-7.8 1.1-4.2 1.2 1.1 1.1 5.7 1.1 10.4 1.1 8.7 1.1 4.1 1.2 1.5 1.1-2.4 1.1-8.6 1.1-10 1.1-4.4 1.2-1.3 1.1 3 1.1 9.9 1.1 15.8 1.1 6.6 1.2-4.8 1.1-9 1.1-5.4 1.1-10.5 1.1-6.1 1.2-2.4 1.1 1.6 1.1 6.7 1.1 12.9 1.1 8.1 1.2 1.9 1.1-2 1.1-4.3 1.1-9 1.1-15.2 1.2-11.3 1.1-4.9 1.1 2.2 1.1 5.5 1.1 13.8 1.2 8.4 1.1 7.4 1.1 3.7 1.1-.2 1.1-12.3 1.2-13.8 1.1-5.6 1.1-2.3 1.1 2.9 1.1 7.7 1.2 13 1.1 7.2 1.1 2.9 1.1 0 1.1-5.1 1.2-7.6 1.1-7 1.1-4.1 1.1-.6 1.1 1.1 1.2 2.9 1.1 6.7 1.1 2.3 1.1-3.1 1.1-4.9 1.2-2.7 1.1-3 1.1-1.1 1.1-2.3 1.1-.9 1.2 1.1 1.1 3.7 1.1 4.7 1.1 3.7 1.1 2.3 1.2-.6 1.1-2.2 1.1-1.9 1.1-.4 1.1 1.6 1.2-2.2 1.1-1.7 1.1 2.2 1.1 5.2 1.1 1.8 1.2 .3 1.1-1.7 1.1-3.5 1.1-5.3 1.1-4.8 1.2-2.8 1.1-2.2 1.1 2.5 1.1 2.5 1.1 1.9 1.2-.3 1.1 .3 1.1 4.3 1.1 3.9 1.1 1.6 1.2 1.4 1.1 1.3 1.1 .6 1.1 .2 1.1-2.1 1.2-1.2 1.1-4.4 1.1-5.2 1.1-4.8 1.1-2 1.2-1.5 1.1 3.4 1.1 5.6 1.1 4.8 1.1 2.4 1.2 1.5 1.1 .6 1.1 .5 1.1 .4 1.1 1.7 1.2 .6 1.1-4.4 1.1-4.9 1.1-3.6 1.1-2.4 1.2-2.5 1.1-1 1.1-1.8 1.1 .6 1.1 .8 1.2 1.7 1.1 3.2 1.1 2.6 1.1 2.6 1.1 2.8 1.2 1.4 1.1-1.4 1.1-1.3 1.1-2.6 1.1-2.5 1.2-2.3 1.1-2.2 1.1 1.1 1.1 4.1 1.1 4.2 1.2 4.6 1.1 4.3 1.1 .8 1.1-3.1 1.1-3.7 1.2-4.1 1.1-3.9 1.1-3.5 1.1-2.4 1.1-.7 1.2 2.3 1.1 2.6 1.1 .2 1.1-1 1.1 .6 1.2 .3 1.1 .9 1.1 1 1.1 2.3 1.1-1 1.2 0 1.1 .6 1.1 2.7 1.1 2.7 1.1-2.8 1.2-3.7 1.1-1.3 1.1 .9 1.1 .4 1.1-.7 1.2-.6 1.1 2.2 1.1 3.7 1.1 1.6 1.1-4.1 1.2-3.8 1.1-1.7 1.1-1.2 1.1 .2 1.1 3.2 1.2 4 1.1-.4 1.1 .2 1.1-1.1 1.1-1.9 1.2-1.3 1.1 .2 1.1 0 1.1-1.4 1.1-2.4 1.2-.9 1.1 1.4 1.1 .9 1.1 .7 1.1 .6 1.2-.4 1.1-1.7 1.1-.5 1.1 6 1.1 5.3 1.2 .7 1.1-3.3 1.1-2.5 1.1-2.5 1.1-3.6 1.2 .8 1.1 .1 1.1 .7 1.1 .2 1.1 .1 1.2 1.5 1.1 1.4 1.1-.7 1.1-1.8 1.1-.1 1.2 2.6 1.1 1.5 1.1 .6 1.1 .3 1.1-1.2 1.2-.8 1.1-3.3 1.1 .8 1.1 1.7 1.1 1.6 1.2 2.2 1.1 .2 1.1-2.6 1.1-2.2 1.1-.7 1.2-1.1 1.1-.4 1.1 2.1 1.1 2.5 1.1-.3 1.2 1.7 1.1 .9 1.1 .8 1.1 .5 1.1-1 1.2-1.2 1.1-1.3 1.1-1 1.1-.7 1.1-.3 1.2 1.1 1.1 0 1.1 .3 1.1 .4 1.1-.1 1.2 .4 1.1 .7 1.1 .2 1.1-1 1.1-1.9 1.2-1.2 1.1-.5 1.1-.6 1.1-2.8 1.1-2.4 1.2 .6 1.1 4.2 1.1 4.8 1.1 4 1.1 4 1.2-1.5 1.1-4.8 1.1-3.3 1.1 1.9 1.1 .9 1.2 .1 1.1 .1 1.1-2.3 1.1-.5 1.1-2 1.2-2.9 1.1-2 1.1 4.3 1.1 7.2 1.1 6.4 1.2 .8 1.1 .4 1.1-4.1 1.1-5 1.1-4.1 1.2-.3 1.1-1 1.1 2.2 1.1 2.6 1.1-.2 1.2-1.7 1.1-2.7 1.1-.6 1.1-.5 1.1-2.4 1.2-2.1 1.1-1.2 1.1 2.2 1.1 2.7 1.1 2.3 1.2 2.2 1.1 .8 1.1-2.4 1.1-1.5 1.1-3.4 1.2-3.3 1.1 .8 1.1 3 1.1 .9 1.1-3.1 1.2-2.7 1.1-1.2 1.1-1 1.1-.1 1.1 1.4 1.2 1.8 1.1 1.7 1.1 2.7 1.1 2.5 1.1 5.8 1.2 3 1.1-1.1 1.1-1.5 1.1-.8 1.1 .1 1.2-.6 1.1 .7 1.1 .5 1.1 1.4 1.1 .2 1.2-2.4 1.1-4.5 1.1-3.6 1.1 .7 1.1 .8 1.2 0 1.1 .1 1.1 .7 1.1 4.4 1.1 4.4 1.2-3.7 1.1-3.1 1.1 .3 1.1 2.1 1.1 .8 1.2-6.4 1.1-6.5 1.1 1.7 1.1 6 1.1 5.1 1.2 .5 1.1 .1 1.1-.7 1.1-1.6 1.1-2.7 1.2-4 1.1-3.7 1.1 3.6 1.1 3.5 1.1 2.1 1.2 1.3 1.1-.8 1.1-5.9 1.1-6.4 1.1 .5 1.2 1.7 1.1 1.7 1.1 3 1.1 2.4 1.1-1.9 1.2-2 1.1 1.4 1.1 1 1.1 2.3 1.1 1.3 1.2 .7 1.1 .5 1.1-1.2 1.1 .6 1.1 2.6 1.2 2.8 1.1-4.4 1.1-3.6 1.1-2.2 1.1-.6 1.2-.7 1.1 4.8 1.1 5 1.1 .1 1.1-2.4 1.2-2.1 1.1-2.7 1.1-2.3 1.1-1.8 1.1-1.7 1.2 .9 1.1 3.5 1.1 2.9 1.1 .6 1.1 .1 1.2-.2 1.1-.9 1.1-1.9 1.1-2.5 1.1-2.3 1.2 2.7 1.1 3.5 1.1 3.2 1.1 3.5 1.1 3.1 1.2-1.8 1.1-1.4 1.1-1.4 1.1 0 1.1 0 1.2 1 1.1 1.4 1.1-.9 1.1 .4 1.1-2.4 1.2-5.4 1.1-4.8 1.1 2.2 1.1 1.8 1.1-.7 1.2-2.8 1.1-1.6 1.1 5.8 1.1 6.4 1.1-2.2 1.2-3.4 1.1-1 1.1 5 1.1 4.8 1.1 .9 1.2 0 1.1-1 1.1-2.2 1.1-3 1.1 0 1.2-.4 1.1 1.4 1.1 1.1 1.1-.1 1.1-1.9 1.2-1.9 1.1-3.5 1.1-3.4 1.1-.8 1.1 3.1 1.2 2.1 1.1-.5 1.1-.3 1.1 .7 1.1 1.6 1.2 2.2 1.1 7.4 1.1 5.4 1.1-.3 1.1-2.3 1.2-3.9 1.1-6.5 1.1-6.7 1.1-3 1.1-1.7 1.2-1.9 1.1-.9 1.1-.6 1.1-.1 1.1-.3 1.2 5.4 1.1 6.2 1.1 3.6 1.1-1.6 1.1-1.4 1.2 2.1 1.1 1.5 1.1-.1 1.1-1.6 1.1-.8 1.2 1 1.1 1.4 1.1 1.1 1.1 .5 1.1-.4 1.2-2.4 1.1-3.2 1.1-.7 1.1-1 1.1-.5 1.2-1.2 1.1-.4 1.1 2.2 1.1 1.3 1.1 1.5 1.2 2.8 1.1 .5 1.1-1.4 1.1-1.4 1.1-1.5 1.2-1.3 1.1-1.3 1.1-.8 1.1-1.3 1.1-2.3 1.2-3.9 1.1 2.6 1.1 3.7 1.1 4.9 1.1 5.1 1.2 4 1.1 1.3 1.1 .6 1.1-3.2 1.1-8 1.2-8.4 1.1 4 1.1 3.8 1.1-.4 1.1-2.9 1.2-1.2 1.1 1.3 1.1 2.4 1.1 .4 1.1-.5 1.2-1.9 1.1-1.5 1.1-2.6 1.1-2.9 1.1-2.5 1.2 .5 1.1 2.5 1.1 2.5 1.1 3.4 1.1 3.7 1.2-1.1 1.1-2.6 1.1-1.4 1.1 .2 1.1-1 1.2-1.3 1.1-1.9 1.1 1.2 1.1 3 1.1 3 1.2-1.9 1.1-2.1 1.1-1.9 1.1-1.2 1.1 .3 1.2 4.1 1.1 3.9 1.1 .6 1.1 2.5 1.1 1.1 1.2 1.7 1.1 .7 1.1-4.3 1.1-4.6 1.1-1.3 1.2 1.9 1.1 .5 1.1 2.6 1.1 1.3 1.1-3.2 1.2-4.6 1.1-2.1 1.1 1.5 1.1 1.3 1.1 3.6 1.2 2.5 1.1 1.5 1.1 1.6 1.1-.1 1.1-4.7 1.2-4.6 1.1-2.9 1.1-1.6 1.1 0 1.1 1.8 1.2 2.6 1.1 2.6 1.1 3 1.1-1.3 1.1-4.2 1.2-4.1 1.1 .9 1.1 .8 1.1 .4 1.1 .7 1.2 .6 1.1 .8 1.1 .3 1.1 1.3 1.1 2.2 1.2 2.5 1.1 1.9 1.1 2.4 1.1-4.8 1.1-4.3 1.2-3.3 1.1-4 1.1-2.8 1.1-1.1 1.1-1.9 1.2 6 1.1 7.5 1.1 4.1 1.1 .2 1.1 1.6 1.2-.7 1.1-.4 1.1-.4 1.1-2.9 1.1-1.8 1.2-2.4 1.1-3.1 1.1-1 1.1 .2 1.1 .4 1.2 .8 1.1 .5 1.1 1.6 1.1 .8 1.1 .8 1.2-.6 1.1-1 1.1-4.7 1.1-4.1 1.1 1.1 1.2 3.8 1.1 3.2 1.1 4 1.1 4.5 1.1-.6 1.2-1.5 1.1-.8 1.1-2.9 1.1-1.6 1.1-1.1 1.2-.9 1.1-1.3 1.1-2.5 1.1 0 1.1 5.3 1.2 4.4 1.1 1 1.1-1.1 1.1 .2 1.1-1 1.2-1 1.1-1.6 1.1-1.1 1.1 .2 1.1 1.7 1.2 .2 1.1 .6 1.1-.7 1.1-2.4 1.1-1.8 1.2 .4 1.1 4.7 1.1 3.5 1.1 6.1 1.1 5.6 1.2-1.7 1.1-5.5 1.1-4.5 1.1 .1 1.1 .3 1.2 .1 1.1 0 1.1 1.1 1.1 2 1.1 1.4 1.2-.5 1.1-.9 1.1-1.5 1.1-.2 1.1-.8 1.2 .9 1.1 1.3 1.1 3.5 1.1 4.5 1.1 1.2 1.2-3.6 1.1-3.7 1.1-2.3 1.1-3.2 1.1-.8 1.2 .8 1.1 0 1.1 2.6 1.1 2.7 1.1-1.6 1.2-2 1.1-1.5 1.1 1.4 1.1 .8 1.1 .7 1.2 .5 1.1-.6 1.1 .2 1.1-1.3 1.1-.7 1.2-.1 1.1-1.2 1.1-.8 1.1-1.5 1.1-.3 1.2 0 1.1 .7 1.1-.4 1.1-1.7 1.1-4.5 1.2-5.6 1.1 .2 1.1 .6 1.1 1.1 1.1 .6 1.2 1.7 1.1-1.6 1.1-.7 1.1-.2 1.1 .6 1.2 1.5 1.1 2.7 1.1 2 1.1 .3 1.1 .7 1.2 .1 1.1-.5 1.1 0 1.1 1.6 1.1 .9 1.2 .2 1.1-.9 1.1-.1 1.1 .5 1.1 .7 1.2-3.8 1.1-3.3 1.1-4.1 1.1-3.9 1.1-2.8 1.2 1.5 1.1 1.6 1.1 1.2 1.1 .3 1.1 .5 1.2 4.6 1.1 3.8 1.1 3.5"/>
<path stroke="#C46352" d="M257 629.4l1.1 2.6 1.1 1.1 1.2 2.7 1.1 2.9 1.1-.1 1.1-3.9 1.1-3.2 1.2 3.2 1.1 3.7 1.1 .4 1.1-2.9 1.1-3.5 1.2 1.3 1.1 .8 1.1 .1 1.1-.2 1.1 .1 1.2 .3 1.1 1.1 1.1 3.5 1.1 2.6 1.1-.3 1.2-3.3 1.1-3.8 1.1 2.5 1.1 1.5 1.1-.8 1.2-2.5 1.1-3.1 1.1-2.8 1.1-1.1 1.1-2.6 1.2-2 1.1 1.1 1.1 3 1.1 3.3 1.1-1.8 1.2-1.4 1.1-2.7 1.1-4.2 1.1-1.2 1.1 3.4 1.2 4.4 1.1 4 1.1 5.1 1.1 3.3 1.1 2 1.2 4.1 1.1-1.8 1.1-2.4 1.1-2.1 1.1-2.9 1.2-1.7 1.1-1.6 1.1-1.6 1.1 .8 1.1 3.3 1.2 2.2 1.1 2.2 1.1 2 1.1 .8 1.1 .4 1.2-1.3 1.1-2.2 1.1-2.7 1.1-.6 1.1-.6 1.2-.7 1.1-1 1.1 .1 1.1 2.3 1.1 1.7 1.2 1 1.1 1 1.1-1.6 1.1-1.7 1.1-2 1.2 2.8 1.1 3.2 1.1-.4 1.1-1.6 1.1-1 1.2-.4 1.1 .5 1.1-1.6 1.1-1.4 1.1-1.3 1.2-2.1 1.1-2 1.1-1.6 1.1-1 1.1 .1 1.2-.7 1.1 .5 1.1 1 1.1 1.5 1.1-2.6 1.2-2.3 1.1-.3 1.1 2 1.1 3.4 1.1 2.6 1.2 2.6 1.1 1.7 1.1 .3 1.1 2.1 1.1 .9 1.2 .9 1.1-1.1 1.1-2.9 1.1-1 1.1 2.5 1.2 2.1 1.1-1.3 1.1-2.1 1.1-.6 1.1 .5 1.2 1.2 1.1-3.8 1.1-4.1 1.1 1.4 1.1 3.8 1.2 2.7 1.1 .1 1.1 .5 1.1-1.3 1.1-1.2 1.2-1.6 1.1-3.2 1.1-2.4 1.1 2.2 1.1 2.8 1.2 1.8 1.1 1.3 1.1 .5 1.1-5.8 1.1-5.6 1.2 0 1.1 .6 1.1 .9 1.1-.3 1.1-.6 1.2 2.5 1.1 1.8 1.1 1.1 1.1-.9 1.1 .5 1.2 1.8 1.1 1.2 1.1-.4 1.1-.1 1.1-1.7 1.2-3 1.1-2.2 1.1-2.2 1.1-1.3 1.1-3.3 1.2-1.2 1.1-1.3 1.1-1.3 1.1-1.8 1.1-.8 1.2-.6 1.1-1.1 1.1-2.7 1.1-2.4 1.1-1.1 1.2-1.3 1.1 .9 1.1 .4 1.1 1.2 1.1-.8 1.2-.7 1.1-1.1 1.1-1.9 1.1-1.6 1.1 .7 1.2 1.3 1.1 1.3 1.1 1.1 1.1 .3 1.1-1.7 1.2-1.1 1.1 1.7 1.1 1.1 1.1 1.8 1.1 2.2 1.2 1.8 1.1 .2 1.1 1.7 1.1 .8 1.1 .1 1.2-.1 1.1 .9 1.1 1.1 1.1 0 1.1-.6 1.2 1 1.1 .6 1.1 1.3 1.1 2.3 1.1 1.7 1.2 .3 1.1-.6 1.1 .8 1.1 .8 1.1 1.3 1.2 .3 1.1 2.3 1.1 .9 1.1 0 1.1 .3 1.2-.2 1.1 .4 1.1-.9 1.1 3.5 1.1-1.7 1.2 2.6 1.1-1.7 1.1 2.7 1.1-2.2 1.1 2 1.2-5.3 1.1 4 1.1-1.6 1.1 4.2 1.1-6.3 1.2 6.5 1.1-12.1 1.1 5.8 1.1-10.3 1.1 4.5 1.2-6.8 1.1 4.7 1.1-8.7 1.1 5.3 1.1-6.5 1.2 2.4 1.1-6 1.1 6.4 1.1-11 1.1 11.9 1.2-4.9 1.1 9.8 1.1-12.6 1.1 6.6 1.1-8.8 1.2 9.2 1.1-12.7 1.1 9.1 1.1-9.1 1.1 9.4 1.2-15.1 1.1 7.1 1.1-6.5 1.1 8.7 1.1-12.2 1.2 14.3 1.1-12.4 1.1 9.7 1.1-12.4 1.1 13.6 1.2-9 1.1 15.3 1.1-11.7 1.1 11.8 1.1-5.5 1.2 8.7 1.1-11.3 1.1 12.6 1.1-7.2 1.1 10.2 1.2-13.1 1.1 15.8 1.1-9.6 1.1 14.5 1.1-15.2 1.2 14.3 1.1-10.2 1.1 11.7 1.1-15.4 1.1 17.4 1.2-7.5 1.1 10.3 1.1-16.3 1.1 13.4 1.1-9.6 1.2 10.4 1.1-13.6 1.1 15.4 1.1-13.8 1.1 10 1.2-14.5 1.1 15.5 1.1-14.1 1.1 12.6 1.1-12 1.2 13.8 1.1-16.9 1.1 11.8 1.1-15.6 1.1 21.2 1.2-12 1.1 9.7 1.1-12.1 1.1 12 1.1-18.8 1.2 7.3 1.1-12.4 1.1 17 1.1-17.3 1.1 12.8 1.2-13.4 1.1 13.5 1.1-11.8 1.1 5 1.1-8.7 1.2 18.5 1.1-12.5 1.1 10.8 1.1-9.1 1.1 10.2 1.2-13.4 1.1 16.1 1.1-18.7 1.1 12.8 1.1-13 1.2 12.9 1.1-11.1 1.1 16.7 1.1-19.2 1.1 18.4 1.2-16.4 1.1 10.7 1.1-10.7 1.1 11.2 1.1-8.5 1.2 3.5 1.1-14.6 1.1 17.2 1.1-8.7 1.1 12.4 1.2-21 1.1 16 1.1-10.6 1.1 14.4 1.1-20.7 1.2 13.3 1.1-11 1.1 15 1.1-15.9 1.1 11.7 1.2-8.6 1.1 12.5 1.1-14 1.1 18.3 1.1-16.7 1.2 12.4 1.1-10.8 1.1 13.6 1.1-11.9 1.1 14.3 1.2-18.7 1.1 17.5 1.1-10.9 1.1 10.2 1.1-12.7 1.2 19.6 1.1-12.4 1.1 8.7 1.1-9.2 1.1 10.8 1.2-9.2 1.1 6.2 1.1-7.6 1.1 11.2 1.1-7.9 1.2 6 1.1-6.4 1.1 7 1.1-2.9 1.1 1.4 1.2-1 1.1 1.7 1.1-2.3 1.1-.5 1.1-2.1 1.2-.2 1.1 2.8 1.1 3.2 1.1 1.2 1.1 1.2 1.2 .4 1.1-1.1 1.1-.9 1.1 1.3 1.1 .2 1.2 1.1 1.1 1.8 1.1 1 1.1-1.2 1.1-1.6 1.2-2.2 1.1-2 1.1-1.6 1.1-1 1.1-.9 1.2 .2 1.1 .8 1.1 .3 1.1 0 1.1 .6 1.2 2.1 1.1 1.8 1.1 3.3 1.1 4.4 1.1 2.1 1.2-3 1.1-2.5 1.1-.7 1.1 .7 1.1 .6 1.2 1.3 1.1 1.9 1.1 1.8 1.1 .9 1.1 .2 1.2-.9 1.1-1.8 1.1-5.6 1.1-5.2 1.1 2.4 1.2 4 1.1 2.2 1.1-2.8 1.1-4.3 1.1-1.4 1.2-1.8 1.1 2.1 1.1 5.8 1.1 4.1 1.1 .7 1.2 .1 1.1 .8 1.1-.5 1.1 1.7 1.1 3.7 1.2 3.2 1.1-1 1.1-.4 1.1-1.4 1.1-2.3 1.2-1.9 1.1 2 1.1 1.9 1.1-1.6 1.1-2.7 1.2-2.2 1.1 1 1.1 .1 1.1 2.2 1.1 2.3 1.2 .4 1.1-.8 1.1-2.3 1.1-1.2 1.1-.8 1.2 .3 1.1 1.2 1.1 1 1.1 0 1.1-.8 1.2-1 1.1-1.5 1.1-.7 1.1 2.5 1.1 3.5 1.2-1.4 1.1-.2 1.1 .7 1.1 1 1.1-.4 1.2-3.1 1.1-3.6 1.1 1 1.1 2.3 1.1 1.1 1.2 1.1 1.1 1 1.1 1.8 1.1 2 1.1 .3 1.2-.1 1.1 .1 1.1 .1 1.1 .4 1.1-1.3 1.2-1.1 1.1-.6 1.1 3 1.1 3.2 1.1 0 1.2-1.6 1.1-3 1.1-6.8 1.1-6.4 1.1 .5 1.2 .1 1.1 2.6 1.1 4.4 1.1 2.5 1.1 1.5 1.2 1 1.1-1.7 1.1-2 1.1-1.7 1.1-1.9 1.2-1.4 1.1 1.3 1.1 .7 1.1 1.4 1.1 2.4 1.2 1.3 1.1 2.2 1.1 1.2 1.1-2.9 1.1-4.7 1.2-1.4 1.1 4.2 1.1 3.1 1.1-1.6 1.1-.6 1.2-1.4 1.1-2.4 1.1-1.4 1.1 .9 1.1 .1 1.2 .1 1.1-.9 1.1-.4 1.1 2.8 1.1 1.1 1.2-1.3 1.1-1.1 1.1 .1 1.1 3.3 1.1 2.5 1.2-3.8 1.1-3.8 1.1-.5 1.1 1.2 1.1 2.6 1.2 1.6 1.1 3.7 1.1-2.6 1.1-2.2 1.1-.9 1.2 1.5 1.1 1.2 1.1-4.4 1.1-3.6 1.1-1.4 1.2 .5 1.1 2 1.1 6.6 1.1 6 1.1 1.2 1.2-.4 1.1-1 1.1-1.8 1.1-1.9 1.1-2.4 1.2-3.1 1.1-1.9 1.1 .3 1.1-.5 1.1 0 1.2-1.3 1.1 1 1.1 .4 1.1 .5 1.1 1.7 1.2 2.5 1.1 3.9 1.1 2.2 1.1-.8 1.1-6.3 1.2-5.1 1.1 2.4 1.1 4 1.1 3.1 1.1 3.4 1.2 2.5 1.1 2.4 1.1-.7 1.1-4.3 1.1-1.7 1.2-1.8 1.1 1 1.1-1.2 1.1 .3 1.1-1.9 1.2-4.6 1.1-.8 1.1-.8 1.1-.1 1.1 4 1.2 6.9 1.1 4.6 1.1-.2 1.1-7.9 1.1-5.1 1.2-4.9 1.1-2.3 1.1 5.5 1.1 8.2 1.1 3.4 1.2-.4 1.1-5 1.1-3.5 1.1-.1 1.1 1.2 1.2 4.9 1.1 3 1.1 2 1.1-.9 1.1-6.1 1.2-4.6 1.1 .1 1.1 3.7 1.1 8.1 1.1 5.1 1.2-1.8 1.1-4.4 1.1-7 1.1-9 1.1-2.3 1.2 3.6 1.1 5.4 1.1 9.4 1.1 3.3 1.1-.6 1.2-5.1 1.1-11.7 1.1-6.2 1.1-.9 1.1 7.1 1.2 13 1.1 8.3 1.1 3.8 1.1-2.6 1.1-11.5 1.2-8.8 1.1-3.6 1.1-.3 1.1 7.1 1.1 10.1 1.2 4.1 1.1-.3 1.1-4.7 1.1-8.8 1.1-3.9 1.2 0 1.1 5.1 1.1 10 1.1 6.2 1.1 1.5 1.2-2.4 1.1-6.8 1.1-8 1.1-.9 1.1 2.3 1.2 5.5 1.1 8.4 1.1 3.6 1.1-.3 1.1-4 1.2-10.8 1.1-6 1.1-4.1 1.1-1.1 1.1 4.7 1.2 10.4 1.1 3.6 1.1-1.6 1.1-5.7 1.1-10.2 1.2-2.7 1.1 1 1.1 4.6 1.1 10.9 1.1 6.3 1.2 2.4 1.1-2.7 1.1-3.4 1.1-8.2 1.1-4.7 1.2-3.1 1.1 3.7 1.1 10.8 1.1 8.4 1.1 1 1.2-4.9 1.1-8.1 1.1-10.4 1.1-4.5 1.1-.9 1.2 3.1 1.1 7.6 1.1 3 1.1 1.7 1.1 3.2 1.2-.2 1.1-9.3 1.1-5.2 1.1-1 1.1 3.7 1.2 8.8 1.1 3 1.1-1.5 1.1-1.3 1.1-2.5 1.2-5.6 1.1 .8 1.1 3.9 1.1 .9 1.1 2.7 1.2 2.9 1.1 0 1.1-2.1 1.1-6.1 1.1-9.6 1.2-6.7 1.1-4.7 1.1-1.7 1.1 6 1.1 7.9 1.2 3.3 1.1 1.9 1.1-.2 1.1-.7 1.1 .7 1.2 1.9 1.1 3.2 1.1 1.4 1.1-.1 1.1-1.6 1.2 2.6 1.1 1 1.1-1.8 1.1-2.9 1.1-1.9 1.2-4.3 1.1-2.9 1.1-.6 1.1-.2 1.1-1.7 1.2-1 1.1-1.3 1.1 3.1 1.1 3.3 1.1 1.1 1.2 .6 1.1 1.6 1.1 3.3 1.1 2.9 1.1 .4 1.2-1.8 1.1-.2 1.1 .2 1.1 .3 1.1-2.2 1.2-2.3 1.1-2.1 1.1-2.4 1.1-1.1 1.1 3.1 1.2 2.6 1.1 .3 1.1-2 1.1-1.1 1.1-1.9 1.2-1 1.1 3.9 1.1 3.8 1.1 2.1 1.1-1.6 1.2-2.1 1.1-6.4 1.1-4.5 1.1-.3 1.1 2.2 1.2 4.2 1.1 5.1 1.1 3.1 1.1 .3 1.1-2.5 1.2-2.7 1.1-4 1.1-2.1 1.1 2.2 1.1 3.5 1.2 5.3 1.1 7.6 1.1 4.2 1.1 0 1.1-3 1.2-4.9 1.1-7.6 1.1-4.4 1.1-.4 1.1 1.8 1.2 2.4 1.1 6.6 1.1-.5 1.1-4.1 1.1-6.3 1.2-.9 1.1-5.3 1.1-3.6 1.1-1.1 1.1 1.3 1.2 8 1.1 12.3 1.1 4.4 1.1 1.6 1.1-4.4 1.2-8.4 1.1-12.3 1.1-.9 1.1 2.1 1.1 2 1.2 4.1 1.1 6.2 1.1 1.1 1.1-3.1 1.1 2 1.2-1.5 1.1-8.1 1.1-4.2 1.1-2.1 1.1 2.3 1.2 6.3 1.1 10.1 1.1 5.8 1.1 2.5 1.1 1.7 1.2-1.6 1.1-11.3 1.1-9.5 1.1-4.8 1.1 .7 1.2 4.1 1.1 5.4 1.1 3.8 1.1 4.8 1.1 5.6 1.2 1.2 1.1-7.8 1.1-8.8 1.1-5.2 1.1-2.3 1.2 2.4 1.1 7.8 1.1 11.5 1.1 2.6 1.1-.6 1.2-4.1 1.1-7.2 1.1-9.9 1.1 1.2 1.1 4.3 1.2 2.9 1.1 6.6 1.1 8.6 1.1 3.2 1.1-.5 1.2-2.7 1.1-5 1.1-9 1.1-9.3 1.1-3.9 1.2-1.3 1.1 1.4 1.1 6.5 1.1 8.9 1.1 6.1 1.2 4.8 1.1 1.5 1.1-5.2 1.1-9.5 1.1-5.8 1.2-2.2 1.1-.2 1.1 5.9 1.1 11 1.1 6.8 1.2 1.3 1.1-.7 1.1-4 1.1-6.9 1.1-9.6 1.2-5 1.1-1.7 1.1 3.4 1.1 5.3 1.1 6.5 1.2 3.1 1.1 3 1.1 2.3 1.1-1.4 1.1-6.2 1.2-8.5 1.1-5.1 1.1-3.3 1.1-.8 1.1 4.4 1.2 6.2 1.1 4.5 1.1 1.8 1.1 .1 1.1-1.5 1.2-4.7 1.1-2.8 1.1-.5 1.1-.3 1.1 .2 1.2 2.4 1.1 4.7 1.1 3.1 1.1 3.1 1.1 1.3 1.2-2.6 1.1-8.8 1.1-7.9 1.1-3.3 1.1-.8 1.2-.7 1.1 .1 1.1 3.6 1.1 3.7 1.1 3.3 1.2-1.4 1.1-1.9 1.1-2.1 1.1-.4 1.1 1.7 1.2-.6 1.1 .2 1.1-.4 1.1-.7 1.1-.5 1.2-.6 1.1-.5 1.1 2.5 1.1 2.5 1.1 1.7 1.2 1.5 1.1 2.2 1.1-.8 1.1-1.1 1.1 1.6 1.2 3 1.1 1.4 1.1 2.8 1.1 2.2 1.1-5.4 1.2-7.2 1.1-4.2 1.1-.1 1.1-.3 1.1 5.1 1.2 5.9 1.1 2.1 1.1-.9 1.1-.5 1.1-.7 1.2-1.2 1.1-.2 1.1 .1 1.1-1.7 1.1-2.9 1.2-3.2 1.1 .7 1.1 .8 1.1-.5 1.1-.7 1.2-.8 1.1-.2 1.1-.7 1.1 3.9 1.1 3.8 1.2 3.4 1.1 .8 1.1 .8 1.1-1.1 1.1-1.4 1.2-.8 1.1 1.1 1.1 .7 1.1-2.8 1.1-1.9 1.2-3.7 1.1-3.3 1.1-1.8 1.1 .5 1.1 2.1 1.2 2.1 1.1 2.1 1.1 1.9 1.1-1.6 1.1-.5 1.2 0 1.1-.5 1.1-.7 1.1-1.4 1.1-1.2 1.2 1.6 1.1 2.1 1.1 .6 1.1-1.4 1.1 .1 1.2 .6 1.1 1 1.1-1.6 1.1-.1 1.1 .2 1.2 2.9 1.1 2.4 1.1-2.3 1.1-1.8 1.1 .4 1.2 2.2 1.1 1.8 1.1 .9 1.1 1.5 1.1-3.3 1.2-3 1.1-3.9 1.1-3.6 1.1-3.6 1.1 2.8 1.2 3.9 1.1 1.4 1.1 .9 1.1 .7 1.1 .6 1.2 1.6 1.1 3.4 1.1 2.5 1.1 .8 1.1-3.3 1.2-2.5 1.1-4.3 1.1-4.1 1.1-.5 1.1 3 1.2 1.8 1.1-1.5 1.1-1 1.1 2.7 1.1 2.1 1.2 2 1.1-1 1.1-1.2 1.1 .2 1.1 .5 1.2 2.6 1.1 5.5 1.1 4.4 1.1-2.8 1.1-2.7 1.2-4.7 1.1-7 1.1-2.8 1.1 1.6 1.1 2.2 1.2 .9 1.1 .2 1.1 1.7 1.1 1.2 1.1 1.3 1.2-1.1 1.1-3 1.1-2.6 1.1-1.3 1.1-.7 1.2 3 1.1 2.7 1.1 5.4 1.1 4.5 1.1 .6 1.2-4.5 1.1-3.6 1.1-.1 1.1-.6 1.1 3.3 1.2 4.8 1.1 2.8 1.1-3.7 1.1-4.3 1.1-4.2 1.2-5.2 1.1-1 1.1 3.9 1.1 5 1.1-1.3 1.2-2.6 1.1 .5 1.1 1.5 1.1 2.2 1.1 1.1 1.2 .8 1.1-3.1 1.1-3.4 1.1-1.6 1.1 2.8 1.2 2.6 1.1 1.3 1.1 .4 1.1 1.6 1.1-.3 1.2 .1 1.1-.6 1.1-.1 1.1-1 1.1-1.5 1.2-.6 1.1-1.7 1.1-1.1 1.1 .1 1.1 1 1.2 .3 1.1-.3 1.1-.4 1.1-1.6 1.1-1.6 1.2 .4 1.1 1.6 1.1 2.1 1.1-.9 1.1-1.3 1.2 3.7 1.1 3.5 1.1 1.3 1.1-1.1 1.1-1.6 1.2 4 1.1 4.4 1.1-.9 1.1-3.6 1.1-3.5 1.2-1.1 1.1-1 1.1-2.5 1.1-2.3 1.1-1.5 1.2-.8 1.1-.5 1.1 7.1 1.1 6.9 1.1 .2 1.2-4.3 1.1-3.8 1.1 1.4 1.1 .9 1.1 .6 1.2 .8 1.1 2.2 1.1 3.3 1.1 3.3 1.1-2.3 1.2-1 1.1-3.5 1.1-3.9 1.1-3.7 1.1-.5 1.2-.5 1.1 .7 1.1 1.1 1.1 1.1 1.1 .2 1.2 .4 1.1 3.6 1.1 4.3 1.1 2.5 1.1 .5 1.2 1.6 1.1-4.7 1.1-4.4 1.1-.7 1.1 1.9 1.2 .1 1.1-1.9 1.1-2 1.1-1.4 1.1-.3 1.2-.8 1.1-3.7 1.1-4 1.1-.2 1.1-.4 1.2 .8 1.1 2.6 1.1 2.6 1.1 .9 1.1 1.6 1.2 1.7 1.1 2.2 1.1-.3 1.1-4.8 1.1-4.1 1.2 1.5 1.1 2 1.1 2.3 1.1 3.7 1.1 3.4 1.2 .8 1.1 .9 1.1-1.2 1.1-1.8 1.1-.2 1.2 .9 1.1 .7 1.1-.8 1.1-1.4 1.1-3.9 1.2-5 1.1-5.5 1.1 1.1 1.1 .5 1.1-.9 1.2-.4 1.1 .2 1.1 3.1 1.1 2.5 1.1 .9 1.2 .8 1.1-1.7 1.1-3.5 1.1-3.4 1.1 2 1.2 1.6 1.1 .9 1.1 1.3 1.1 .9 1.1 1.6 1.2 1.8 1.1-.4 1.1-.5 1.1-.5 1.1-.3 1.2-.6 1.1-2.4 1.1-1.1 1.1 .9 1.1 2.1 1.2 1.9 1.1 .9 1.1-.3 1.1 1.1 1.1-.1 1.2-1.1 1.1-4.2 1.1-5 1.1 1.7 1.1 1.5 1.2 1.3 1.1 1.1 1.1 1.4 1.1-.4 1.1-1.2 1.2-.9 1.1-1 1.1-.9 1.1-1 1.1-.6 1.2 1.3 1.1 1.6 1.1 .7 1.1 .3 1.1 1.6 1.2-.8 1.1-.6 1.1 .6 1.1 2 1.1 .4 1.2 .8 1.1 0 1.1 2.3 1.1 2.4 1.1-.8 1.2-4.4 1.1-5 1.1 1 1.1 .5 1.1 3 1.2 4 1.1 2 1.1-.5 1.1-1.1 1.1-1.9 1.2-1.6 1.1-.1 1.1 1.8 1.1 3.3 1.1 1.1 1.2 2.3 1.1 1.1 1.1-.1 1.1-.6 1.1-5.4 1.2-5.8 1.1-2.6 1.1-1.9 1.1 .5 1.1 3.4 1.2 4.2 1.1-1.7 1.1-2.5 1.1 1.3 1.1 3 1.2 3.4 1.1 .8 1.1 .3 1.1 .7 1.1 .1 1.2-.4 1.1-5.8 1.1-5.4 1.1-1.6 1.1-1.4 1.2-.1 1.1 1.1 1.1 1 1.1 2.5 1.1 1.8 1.2 1.7 1.1 1.1 1.1 0 1.1-1.3 1.1-2.3 1.2 .2 1.1-.1 1.1 .9 1.1 3.5 1.1 2.5 1.2-.3 1.1-.8 1.1-1.9 1.1-3.3 1.1-2.6 1.2-1.1 1.1-1.4 1.1 0 1.1-.6 1.1 .1 1.2 .6 1.1 1.8 1.1 .9 1.1 1.9 1.1 1.5 1.2 2 1.1 .9 1.1-1 1.1 .8 1.1 1 1.2 2.3 1.1 .4 1.1-5 1.1-5.4 1.1-1.7 1.2-1.4 1.1-.4 1.1 .5 1.1 .3 1.1 1.9 1.2 2 1.1 1 1.1 1.8 1.1 .3 1.1-2.5 1.2-1.9 1.1-.4 1.1-1.1 1.1 2.6 1.1 4.5 1.2 4.8 1.1 .9 1.1 1.4 1.1-2.8 1.1-5.7 1.2-4.7 1.1 .8 1.1-.9 1.1 1.1 1.1-1 1.2 1.6 1.1 3.7 1.1 2.7 1.1 .6 1.1-.3 1.2-1.3 1.1-1.5 1.1-2.9 1.1-2.3 1.1-2.5 1.2-.4 1.1 1.4 1.1-.4 1.1-.3 1.1-.1 1.2 0 1.1 .8 1.1-.1 1.1 .8 1.1 1.2 1.2-2.2 1.1-1.4 1.1 1.9 1.1 2.9 1.1 1.6 1.2 1.5 1.1 .5 1.1-3.5 1.1-3.7 1.1-1.7 1.2 1 1.1 1.5 1.1-2.8 1.1-3.1 1.1 1 1.2 1.7 1.1 2.7 1.1 2.3 1.1 1.6 1.1 .3 1.2-1.1 1.1-.7 1.1-.4 1.1-1.5 1.1-.4 1.2-1 1.1 .4 1.1 .1 1.1 0 1.1 2 1.2 1.8 1.1 2.6 1.1 2.4 1.1 .9 1.1-3.2 1.2-2.2 1.1 .5 1.1 .7 1.1-1.9 1.1-3 1.2-2 1.1 2.3 1.1 3.3 1.1 1.2 1.1 1.9 1.2 .6 1.1-1.2 1.1-1.1 1.1-.7 1.1-.4 1.2 .6 1.1 2.8 1.1 2.4 1.1-4 1.1-4.4 1.2-3.2 1.1-2.8 1.1-1.6 1.1-.2 1.1 0 1.2 .7 1.1 1.2 1.1 .8 1.1-1.4 1.1 .4 1.2-.1 1.1 1 1.1 2.5 1.1 3.1 1.1 2.2 1.2-1.5 1.1-2.3 1.1-1 1.1-.6 1.1-1.2 1.2-.2 1.1-.6 1.1 .5 1.1-.2 1.1-1.3 1.2-1.6 1.1-.8 1.1 4.9 1.1 5.2 1.1 1.3 1.2-.5 1.1-.2 1.1 0 1.1-.2 1.1 .4 1.2 .4 1.1-1 1.1-.7 1.1-2.5 1.1-3.1 1.2-3.2 1.1-2.2 1.1-1.4 1.1 0 1.1 .6 1.2 .3 1.1 2.9 1.1 3.1 1.1 1.7 1.1 1.5 1.2 1.9 1.1-.2 1.1 .9 1.1-1.4 1.1-1.4 1.2-1.3 1.1 3.3 1.1 3 1.1 .3 1.1-.9 1.2-2.1 1.1-.5 1.1-1.7 1.1-.1 1.1 .5 1.2-1.1 1.1-.4 1.1-.5 1.1 .2 1.1 .6 1.2 1.6 1.1 1.4 1.1 0 1.1-4.2 1.1-3.5 1.2-.7 1.1 .5 1.1 1.7 1.1 3.9 1.1 3.4 1.2-.7 1.1-.8 1.1 .7 1.1 1.4 1.1 1.6 1.2 2.3 1.1 1.9 1.1-4.6 1.1-3.9 1.1-3.3 1.2-3.4 1.1-1.4 1.1 4.1 1.1 3.6 1.1 .2 1.2-1.3 1.1-.7 1.1 2.9 1.1 2 1.1 .1 1.2 1.7 1.1-1.3 1.1-2.4 1.1-2.9 1.1-2.4 1.2-2.4 1.1-.5 1.1 .1 1.1 1.1 1.1 3.1 1.2 2.2 1.1-1.5 1.1-4.4 1.1-.8 1.1 2.5 1.2 2.8 1.1 1.1 1.1 2.4 1.1-.9 1.1-2.7 1.2-2.4 1.1-1.7 1.1-1.8 1.1 .1 1.1 1.7 1.2 .3 1.1-1.1 1.1-.6 1.1 3.5 1.1 4.2 1.2 1.7 1.1-1.1 1.1 .3 1.1 2.6 1.1 2.7 1.2-.2 1.1-3 1.1-.8 1.1 1.6 1.1 1.6 1.2-2.8 1.1-3.2 1.1-1.4 1.1-.4 1.1 0 1.2 2.2 1.1 2.1 1.1 .2 1.1 .6 1.1-.5 1.2 2.8 1.1 3.1 1.1 1.2"/>
<path stroke="#A58777" d="M257 702.1l1.1 .4 1.1 .7 1.2 .7 1.1 0 1.1-.7 1.1-2.7 1.1-2.7 1.2 4.7 1.1 5.4 1.1 .8 1.1-2.7 1.1-2.7 1.2-1.1 1.1-1 1.1-2.5 1.1-3.3 1.1-.8 1.2 5 1.1 5.3 1.1 1.2 1.1-.1 1.1-1.9 1.2-6.3 1.1-5.6 1.1 1.8 1.1 .7 1.1-.1 1.2-1.8 1.1-.6 1.1 2.2 1.1 2 1.1 1 1.2 .8 1.1-.5 1.1-1.4 1.1-1.2 1.1 3.3 1.2 3.6 1.1-.5 1.1-2.1 1.1-2.2 1.1 2.3 1.2 1.8 1.1-1.4 1.1-1.1 1.1-.2 1.1 .9 1.2 1.4 1.1 4 1.1 3.9 1.1 1.9 1.1 .5 1.2-.3 1.1-1.1 1.1-1.7 1.1 0 1.1 .6 1.2-.9 1.1-5.8 1.1-5.3 1.1 1 1.1 1.3 1.2-.4 1.1 .5 1.1-.3 1.1 2 1.1 1 1.2 1.4 1.1-.7 1.1-1.2 1.1-.6 1.1-1.5 1.2-1.6 1.1-2.1 1.1-1.2 1.1-3.1 1.1-2 1.2 4.1 1.1 5 1.1 3.2 1.1 1.2 1.1 1.7 1.2-1.7 1.1-2.3 1.1 1.1 1.1 1.4 1.1 .2 1.2-2 1.1-2.4 1.1 3.8 1.1 2.5 1.1 .1 1.2-3 1.1-1.5 1.1 0 1.1 .8 1.1 0 1.2 .7 1.1 .6 1.1-.4 1.1-.7 1.1 1.1 1.2 1.3 1.1-.8 1.1-2.7 1.1-2.8 1.1-1 1.2-1.6 1.1 .1 1.1 .3 1.1 .1 1.1 1.2 1.2 1.5 1.1-.8 1.1-1.3 1.1-1.6 1.1-2.2 1.2-1.2 1.1 4.7 1.1 5 1.1 1.2 1.1 .1 1.2-.7 1.1-1.2 1.1-.7 1.1-2 1.1-2.4 1.2-1.9 1.1 .5 1.1 .4 1.1 1.4 1.1 .5 1.2 1.5 1.1 .3 1.1 1.5 1.1 .3 1.1 .1 1.2-1.9 1.1-1 1.1 .6 1.1 2.3 1.1 1.7 1.2 2 1.1 1.7 1.1-.8 1.1-1.4 1.1-.8 1.2 .3 1.1 .2 1.1 .1 1.1 .3 1.1 0 1.2-2 1.1-1.4 1.1-.7 1.1-.2 1.1-1.7 1.2-2.4 1.1-3.1 1.1 .2 1.1-.7 1.1-1.1 1.2-1.2 1.1-1.5 1.1-.7 1.1-1.4 1.1-3.6 1.2-3.2 1.1-3.7 1.1-2.6 1.1-2.5 1.1-.9 1.2-1.4 1.1-.5 1.1-.9 1.1-.2 1.1-2.8 1.2-2.7 1.1-2.3 1.1-2 1.1-.3 1.1 .6 1.2 .2 1.1-.7 1.1-.3 1.1-.9 1.1-.6 1.2-.5 1.1-.5 1.1-.1 1.1 .6 1.1 .9 1.2 1.2 1.1-1.5 1.1-1.4 1.1-.6 1.1 .6 1.2-.4 1.1 .2 1.1 .2 1.1 1.2 1.1 1.7 1.2 .6 1.1 .9 1.1-.1 1.1-.9 1.1-.8 1.2-.5 1.1 .7 1.1-.4 1.1-.2 1.1-.3 1.2-.8 1.1-.6 1.1-.9 1.1-.3 1.1-.1 1.2-1.8 1.1-1.4 1.1 1.1 1.1 1.8 1.1 .4 1.2-.7 1.1-.6 1.1-.1 1.1 1.2 1.1 .5 1.2-.6 1.1-.9 1.1-.4 1.1-.6 1.1 .2 1.2 .4 1.1 .2 1.1-1.3 1.1-1.6 1.1-.5 1.2-.1 1.1 .1 1.1 .5 1.1 1.8 1.1 1.6 1.2 2.6 1.1 1.4 1.1 1.1 1.1 1.2 1.1 1 1.2 .8 1.1-.3 1.1-1.3 1.1-2.8 1.1-.3 1.2-4.9 1.1 1.3 1.1-3.1 1.1 1.9 1.1-6.9 1.2 4.5 1.1 .6 1.1 6.2 1.1-10.3 1.1 9.8 1.2-7.3 1.1 6.3 1.1-9.6 1.1 10.5 1.1-4.2 1.2 9.7 1.1-7 1.1 8.4 1.1-7.8 1.1 10.5 1.2-10.4 1.1 12.6 1.1-5.1 1.1 5.6 1.1-7.6 1.2 9.3 1.1-8.4 1.1 10.1 1.1-14.7 1.1 18.1 1.2-11.5 1.1 9.5 1.1-17.5 1.1 15 1.1-6.9 1.2 2.1 1.1-11.1 1.1 17.4 1.1-10.7 1.1 6.2 1.2-11.3 1.1 14.6 1.1-14.1 1.1 17.2 1.1-16.4 1.2 15.3 1.1-11.4 1.1 9.9 1.1-13.3 1.1 14.1 1.2-11 1.1 11.6 1.1-16.2 1.1 13.5 1.1-14.7 1.2 13 1.1-11.5 1.1 15.2 1.1-16.6 1.1 10.2 1.2-14.9 1.1 19.2 1.1-12.8 1.1 8.7 1.1-8.4 1.2 12.7 1.1-21.7 1.1 9.6 1.1-7.5 1.1 12.4 1.2-15.6 1.1 14.3 1.1-6.4 1.1 12.3 1.1-14.7 1.2 11.7 1.1-13.7 1.1 17.3 1.1-19.8 1.1 18.2 1.2-13.7 1.1 14 1.1-17.3 1.1 11.9 1.1-3.3 1.2 11.4 1.1-20.3 1.1 13.4 1.1-8.9 1.1 15.2 1.2-14.9 1.1 14.8 1.1-12.2 1.1 10.6 1.1-11.1 1.2 11 1.1-3.2 1.1 6.9 1.1-18.3 1.1 18.6 1.2-4.6 1.1 7.1 1.1-7.2 1.1 10.4 1.1-8.5 1.2 8.7 1.1-9.6 1.1 13.5 1.1-6.7 1.1 7.7 1.2-6.9 1.1 9 1.1-6.4 1.1 6.6 1.1-9.2 1.2 9.1 1.1-4.6 1.1 4.3 1.1-2.1 1.1 3.3 1.2-3.8 1.1 2.7 1.1-2.6 1.1 3.5 1.1 0 1.2 3 1.1 0 1.1-.6 1.1 .4 1.1 .7 1.2 .9 1.1 1.9 1.1 2 1.1 .2 1.1-1.6 1.2-1.7 1.1 .8 1.1-.6 1.1 2 1.1 .9 1.2 2.2 1.1-2.1 1.1-1.4 1.1-.8 1.1-.2 1.2 .3 1.1 1.4 1.1 1.7 1.1-.2 1.1 .9 1.2 .8 1.1 .4 1.1-.2 1.1-1.2 1.1-2.2 1.2 1.9 1.1 2.5 1.1 1 1.1-1 1.1-.9 1.2 .5 1.1 0 1.1 .1 1.1 .6 1.1 1.4 1.2 2.4 1.1 1.8 1.1 1.2 1.1 1.6 1.1 .5 1.2-1 1.1-.9 1.1-2.7 1.1-3.9 1.1 .5 1.2 .9 1.1 1.8 1.1 1 1.1 1.3 1.1-.6 1.2-1.3 1.1 .4 1.1 1.6 1.1 3 1.1-1.3 1.2-1.3 1.1 1.2 1.1 3.2 1.1 1.9 1.1-2.2 1.2-1.2 1.1-1.9 1.1-1.1 1.1-1.3 1.1 .7 1.2 .3 1.1 1 1.1 2.1 1.1 .9 1.1-.4 1.2-.9 1.1 1.4 1.1 .7 1.1-1 1.1-2.3 1.2-3 1.1-3.4 1.1-3.3 1.1 1.9 1.1 2.4 1.2 2.3 1.1 2.5 1.1 1.9 1.1 .2 1.1-.1 1.2 1.6 1.1 1.6 1.1 .5 1.1-3.4 1.1-1.6 1.2-1.6 1.1-.4 1.1 .4 1.1 1.9 1.1 2 1.2-1.1 1.1-.9 1.1-.7 1.1-1 1.1-1.2 1.2 .7 1.1 .7 1.1 1 1.1 2 1.1 .6 1.2 1.3 1.1 1 1.1 .9 1.1 1 1.1-.6 1.2-1.7 1.1-1.2 1.1 .9 1.1 0 1.1-1.2 1.2-1.6 1.1-1.5 1.1-1.9 1.1-1.4 1.1 1 1.2 1.9 1.1 .7 1.1 1.4 1.1 1.3 1.1-2.6 1.2-2 1.1-4 1.1-3.2 1.1-1.9 1.1 2.7 1.2 2.7 1.1 2.8 1.1 3.2 1.1 .5 1.1-1.6 1.2-1 1.1 2.2 1.1 1.9 1.1 0 1.1-1.3 1.2-1.8 1.1-3.2 1.1-4.1 1.1-.8 1.1-.8 1.2 1.3 1.1 3.2 1.1 3.6 1.1 2 1.1 1.2 1.2-.3 1.1 .7 1.1 .3 1.1 .2 1.1 1.1 1.2 1.2 1.1 1.2 1.1-1.3 1.1-4.5 1.1-4.8 1.2-.6 1.1-.8 1.1-.3 1.1 1 1.1 1.1 1.2 1.4 1.1 .4 1.1 .3 1.1-.1 1.1 .1 1.2-.8 1.1-.6 1.1 .9 1.1 0 1.1-.4 1.2-.8 1.1-.5 1.1-.6 1.1-.5 1.1 .1 1.2 1.9 1.1 1.3 1.1-1.6 1.1-1.5 1.1-.9 1.2 .1 1.1 1.9 1.1 3.3 1.1 2.5 1.1-1.9 1.2-1.3 1.1 .6 1.1 3 1.1 4.4 1.1 2.8 1.2 .6 1.1-3.4 1.1-7.8 1.1-3.5 1.1 1.1 1.2 5.1 1.1 5 1.1 2.9 1.1 1.3 1.1-1.7 1.2-4.4 1.1-7 1.1-4.1 1.1 2 1.1 2.9 1.2 1.5 1.1 3.4 1.1 0 1.1-2.4 1.1-.5 1.2 2.8 1.1 5.4 1.1 3.4 1.1-1.4 1.1-5.6 1.2-5.5 1.1-2.3 1.1-.1 1.1-1.3 1.1 3.7 1.2 4.2 1.1 1.2 1.1-1.1 1.1-4 1.1-2.6 1.2-2.4 1.1 1.2 1.1 7.2 1.1 4.7 1.1 1.4 1.2-2.8 1.1-7.3 1.1-3.6 1.1 1.1 1.1 1.9 1.2 4.1 1.1 2.9 1.1 3.3 1.1-1 1.1-7.4 1.2-7.3 1.1-3.6 1.1 4.3 1.1 9 1.1 9.1 1.2 2.6 1.1-1.9 1.1-7.5 1.1-10.7 1.1-1.9 1.2 2.1 1.1 8.7 1.1 11.3 1.1 5.8 1.1-3 1.2-7.2 1.1-7.5 1.1 .7 1.1 2.6 1.1 2.2 1.2 9.7 1.1 6.9 1.1 3.6 1.1-1.6 1.1-8.1 1.2-7.9 1.1-8.2 1.1-2.6 1.1 3.2 1.1 9 1.2 3.1 1.1 1.8 1.1-3.7 1.1-11.8 1.1-4.7 1.2-2.4 1.1 .3 1.1 7.8 1.1 5.9 1.1 1.8 1.2-2.5 1.1-8 1.1-8.2 1.1-1.8 1.1 2 1.2 9.5 1.1 15.3 1.1 5.8 1.1-1.8 1.1-8.2 1.2-11.9 1.1-7.5 1.1-1.8 1.1 3.5 1.1 9.4 1.2 11.8 1.1 5.8 1.1-1.3 1.1-6 1.1-11.6 1.2-7.8 1.1-2.8 1.1 5.3 1.1 11.7 1.1 7.9 1.2 1.8 1.1-2 1.1-5.2 1.1-10.1 1.1-6.2 1.2-2.6 1.1 3.9 1.1 11.8 1.1 8.3 1.1 5.2 1.2 .9 1.1-4.7 1.1-10.8 1.1-4.6 1.1-5.1 1.2-.7 1.1 11 1.1 9.3 1.1 5.1 1.1-2 1.2-6.4 1.1-12 1.1-6.3 1.1-1.2 1.1 5.3 1.2 10.6 1.1 5.6 1.1 .2 1.1-1.9 1.1-3.3 1.2-9.2 1.1-5.3 1.1-2.7 1.1 3 1.1 8.6 1.2 6.1 1.1 2.9 1.1-.1 1.1-5.7 1.1-7.2 1.2-2.8 1.1 .3 1.1 3.1 1.1 4.4 1.1 5.1 1.2 2.3 1.1-.1 1.1-3.1 1.1-6.4 1.1-5 1.2 1.2 1.1 1 1.1 .1 1.1-1.5 1.1-3.4 1.2 1.2 1.1 .7 1.1 .2 1.1-.1 1.1-.6 1.2 1.2 1.1 .7 1.1-.2 1.1-1.2 1.1 .7 1.2 1.2 1.1 1.8 1.1 1.8 1.1 3.5 1.1 .2 1.2-2 1.1-.3 1.1-3.6 1.1-1.9 1.1-.8 1.2 .5 1.1-.1 1.1-1.2 1.1-1.7 1.1 1.9 1.2 1.8 1.1 1.1 1.1 2.2 1.1 1.6 1.1-1.3 1.2-.3 1.1-1.8 1.1-1.9 1.1-1.2 1.1 0 1.2 .3 1.1 4 1.1 3.1 1.1 2 1.1-1.8 1.2-1.4 1.1-1.3 1.1 .4 1.1-1.2 1.1 .2 1.2 .4 1.1 .5 1.1-.2 1.1 .2 1.1 .1 1.2 0 1.1-.6 1.1 1.1 1.1-.2 1.1 1.4 1.2 2.2 1.1 2.9 1.1 2.3 1.1 .2 1.1-1.4 1.2-3.4 1.1-5.8 1.1-3.7 1.1-2.8 1.1-.6 1.2 5.4 1.1 8.7 1.1 2.6 1.1 .8 1.1-1.8 1.2-2.2 1.1-4.6 1.1-4.2 1.1-2.8 1.1 .3 1.2 2.7 1.1 6.6 1.1 5.4 1.1 1.7 1.1 .4 1.2-4.2 1.1-8.4 1.1-4.4 1.1-2.4 1.1 2.2 1.2 6 1.1 8.4 1.1 3.4 1.1 .8 1.1-3.4 1.2-5.6 1.1-8.4 1.1-2.1 1.1 .8 1.1 .2 1.2 3.3 1.1 9.1 1.1 6.1 1.1 2.6 1.1-.1 1.2-3.1 1.1-11.2 1.1-8.4 1.1-3.7 1.1 1.4 1.2 4.7 1.1 8.3 1.1 7.3 1.1 2.4 1.1-.4 1.2-3.2 1.1-6.9 1.1-7.3 1.1-3.8 1.1-.5 1.2 3.3 1.1 7.1 1.1 10.8 1.1 3.5 1.1 .2 1.2-1.7 1.1-3 1.1-8.6 1.1-5.6 1.1-2.7 1.2 .4 1.1 2.7 1.1 7.5 1.1 4 1.1 1.4 1.2-.8 1.1-3 1.1-4.9 1.1-3.5 1.1-.4 1.2-.6 1.1 1.9 1.1 4.4 1.1 9.6 1.1 4.2 1.2 3.4 1.1 .3 1.1-7.1 1.1-11.5 1.1-7.9 1.2-6.1 1.1-2.2 1.1 3.3 1.1 8.7 1.1 9.5 1.2 7.3 1.1 3.3 1.1-2.8 1.1-5.9 1.1-8.5 1.2-4.3 1.1 .1 1.1 4.9 1.1 7.2 1.1 6 1.2 3.6 1.1 .2 1.1-2.2 1.1-6.1 1.1-6.4 1.2-7.7 1.1-5.3 1.1-2.4 1.1 1 1.1 5.1 1.2 7.7 1.1 3.4 1.1 .6 1.1 .1 1.1 .4 1.2-3.3 1.1-7.8 1.1-3.5 1.1-.5 1.1 2.8 1.2 4.4 1.1 6.4 1.1 3.5 1.1 1 1.1-1.6 1.2-3.2 1.1-5.4 1.1-4.3 1.1 .4 1.1 2 1.2 4.4 1.1 6.3 1.1 5.7 1.1 1.3 1.1-.8 1.2-2.5 1.1-4.3 1.1-5.2 1.1-3.3 1.1-2.5 1.2 .3 1.1 1.2 1.1 .1 1.1-.6 1.1-.5 1.2 1.9 1.1 1.6 1.1 .6 1.1-.8 1.1 .5 1.2 .5 1.1 1.6 1.1 .4 1.1 .6 1.1-2.2 1.2-1.8 1.1-2.7 1.1 2.2 1.1 1.2 1.1 .9 1.2-.7 1.1-.3 1.1-3.5 1.1-3.6 1.1 2.6 1.2 3.2 1.1 2.4 1.1 2.9 1.1 1.3 1.1 .2 1.2-1 1.1-1 1.1-2.3 1.1-1.6 1.1-.3 1.2 .4 1.1 1.1 1.1 .5 1.1 1 1.1 .4 1.2 .6 1.1-.9 1.1 .4 1.1-1.6 1.1-1.6 1.2-1.5 1.1 1.5 1.1 2 1.1 1.3 1.1 1 1.2 .4 1.1 .1 1.1 0 1.1-1.2 1.1-1.6 1.2-3 1.1-3.6 1.1-3.4 1.1 2.2 1.1 1.7 1.2 2.6 1.1 3.6 1.1 1.7 1.1-.2 1.1-.7 1.2 .7 1.1 .3 1.1 1.3 1.1 2.1 1.1 1.3 1.2-2.2 1.1-1.6 1.1 .6 1.1 .1 1.1 1.7 1.2 .3 1.1 .6 1.1-1.7 1.1-1.7 1.1-3.4 1.2-3.8 1.1-3.3 1.1 3.4 1.1 3.4 1.1 1 1.2-.1 1.1 .3 1.1-1.3 1.1-.9 1.1 2.4 1.2 3.6 1.1 1.7 1.1-2.5 1.1-1.2 1.1 1.2 1.2 1.4 1.1-2.2 1.1-4 1.1-1.7 1.1 3.4 1.2 3.8 1.1 .9 1.1-.3 1.1 .1 1.1-.5 1.2-.8 1.1-.8 1.1-1.1 1.1-.2 1.1 .6 1.2 .1 1.1-.5 1.1-1.3 1.1 2.4 1.1 2.8 1.2 1.4 1.1-2.7 1.1-3.6 1.1-1 1.1 .3 1.2 .2 1.1 1.9 1.1 1.8 1.1 0 1.1 .9 1.2-.8 1.1-.6 1.1-1.7 1.1-1.2 1.1-.6 1.2-.4 1.1-.2 1.1-.4 1.1 1.2 1.1 0 1.2 .1 1.1 .2 1.1-.7 1.1-.7 1.1-1.6 1.2 .4 1.1-.8 1.1-3.3 1.1-3.5 1.1-1 1.2 4 1.1 3.4 1.1 2.9 1.1 .9 1.1 1.9 1.2-.7 1.1 1.1 1.1 1.3 1.1 .6 1.1-1.1 1.2-1.6 1.1-.9 1.1-3.8 1.1-2.8 1.1 2.6 1.2 1.9 1.1 .3 1.1-1.1 1.1-1.1 1.1-.6 1.2-1.1 1.1 2.7 1.1 3.6 1.1 2.2 1.1-1.6 1.2-.8 1.1-2.2 1.1-2.5 1.1-2.2 1.1-2.4 1.2-1.3 1.1 1.9 1.1 1.5 1.1 2.8 1.1 4.7 1.2 2.6 1.1 .3 1.1-.2 1.1-1.2 1.1-1.9 1.2-1.7 1.1 .1 1.1-.3 1.1 1.1 1.1 1.8 1.2 1.3 1.1-.7 1.1 .1 1.1-.1 1.1 0 1.2 .2 1.1 .1 1.1 .8 1.1-2.2 1.1-2.3 1.2-.6 1.1-.6 1.1-.2 1.1 .1 1.1 2 1.2 2.1 1.1 3.3 1.1-1.3 1.1-2.7 1.1-.7 1.2 1 1.1 1.9 1.1-.4 1.1-.7 1.1 1 1.2 2.3 1.1 2.1 1.1-.5 1.1 .1 1.1 1.8 1.2 .2 1.1 1.5 1.1-2.2 1.1-2 1.1-3.4 1.2-2 1.1-2.6 1.1-.5 1.1-.6 1.1 2.5 1.2 2.9 1.1-.3 1.1-.8 1.1-.6 1.1 2.9 1.2 1.8 1.1-1.1 1.1-3.2 1.1-.9 1.1-2.1 1.2-1.1 1.1 .8 1.1 .3 1.1 .7 1.1 .9 1.2 .1 1.1-2.4 1.1-1.7 1.1-1.4 1.1-1.4 1.2-.6 1.1 1.9 1.1 1.7 1.1 1.3 1.1 2.2 1.2 .7 1.1 .7 1.1 1.1 1.1-.3 1.1 .2 1.2 .9 1.1 .3 1.1 .3 1.1-2.5 1.1-1.9 1.2-3.1 1.1-2.4 1.1-.3 1.1 1.9 1.1 2.8 1.2 1.4 1.1 1.6 1.1 2.1 1.1 3.6 1.1 1.9 1.2-.8 1.1 .1 1.1-2.5 1.1-.2 1.1-1.1 1.2-1.6 1.1-.8 1.1-.7 1.1-.5 1.1 0 1.2 1.1 1.1-.4 1.1-.6 1.1-.9 1.1 2.7 1.2 4 1.1 1 1.1 .1 1.1-1 1.1-.5 1.2-.9 1.1-.6 1.1-1.3 1.1-1.2 1.1-.6 1.2-2.6 1.1 .9 1.1 .4 1.1 .8 1.1 .7 1.2 .9 1.1 1.6 1.1 3.5 1.1 .7 1.1 1 1.2-.3 1.1-1.3 1.1-1.4 1.1-.7 1.1-.9 1.2-.4 1.1-.1 1.1-.6 1.1-.2 1.1 .6 1.2-1.4 1.1-2.2 1.1-1.9 1.1-.8 1.1-2.1 1.2 2 1.1 3.9 1.1 2.3 1.1-3.4 1.1-3.2 1.2 2.7 1.1 3.1 1.1 2.1 1.1-.1 1.1 .4 1.2 1.2 1.1 .2 1.1-1.6 1.1-1.6 1.1-1 1.2-.2 1.1 1.3 1.1-3 1.1-3.2 1.1-2.5 1.2-1.8 1.1-.6 1.1 7.4 1.1 5.6 1.1 3.3 1.2 .5 1.1 .2 1.1-1.3 1.1-2 1.1 1.3 1.2 2.2 1.1 1.2 1.1 0 1.1-.8 1.1-3.7 1.2-4 1.1-2.8 1.1-.9 1.1-1.3 1.1 1 1.2 1 1.1 1.7 1.1 1 1.1 .4 1.1 .6 1.2 1.3 1.1 3.1 1.1 3.4 1.1-.2 1.1-2.8 1.2-2.4 1.1 .4 1.1 .3 1.1 .3 1.1 .4 1.2 .3 1.1-1.7 1.1-1.3 1.1-.5 1.1 0 1.2-.5 1.1-.3 1.1-.5 1.1-1.1 1.1-1.3 1.2 .1 1.1 .3 1.1 1.7 1.1 .7 1.1 1.9 1.2-.7 1.1 .4 1.1-.2 1.1 1.6 1.1 1.8 1.2 1 1.1 1 1.1-.7 1.1-2.8 1.1-1.3 1.2 .9 1.1 1.2 1.1 2.7 1.1 3.3 1.1 .2 1.2-4.1 1.1-5 1.1-2 1.1-2.3 1.1-2.1 1.2-3 1.1-1.3 1.1 4.2 1.1 4.7 1.1 1.3 1.2-.8 1.1 1.2 1.1 1.2 1.1 1.7 1.1-3.1 1.2-4 1.1-.9 1.1 2.3 1.1 2.6 1.1-.9 1.2 0 1.1-3.1 1.1-3.1 1.1-2.8 1.1 4 1.2 2.7 1.1 1.8 1.1 1.7 1.1 .3 1.1-1.4 1.2-1.1 1.1 1 1.1 .4 1.1 1 1.1 2.1 1.2 .8 1.1-3.5 1.1-3.4 1.1-1.3 1.1 .6 1.2 .2 1.1 1.2 1.1 1.3 1.1-.4 1.1-.8 1.2-.3 1.1 2.1 1.1-.3 1.1 .4 1.1-1.5 1.2-1.7 1.1-2.3 1.1-2.3 1.1-.7 1.1-.2 1.2 3.3 1.1 4.3 1.1 .9 1.1 0 1.1-1 1.2-.5 1.1-1 1.1 1.5 1.1 1 1.1 .2 1.2-2.2 1.1-3.1 1.1 1 1.1 1 1.1 1.8 1.2 2 1.1 1.6 1.1-1.3 1.1-2.3 1.1-1.3 1.2-1.9 1.1-1.1 1.1 2.2 1.1 2 1.1 .8 1.2 1.2 1.1-.6 1.1-1.4 1.1-1.6 1.1-.5 1.2 .3 1.1-.6 1.1 .9 1.1 .3 1.1 1.9 1.2 1.1 1.1 1.6 1.1 2.3 1.1 .1 1.1-.4 1.2-1.5 1.1 .6 1.1 2.4 1.1-.6 1.1 .4 1.2-.4 1.1-2 1.1-1.1 1.1-.5 1.1 0 1.2-.1 1.1 .1 1.1 .3 1.1-1 1.1-.1 1.2 .9 1.1 2.7 1.1 2.9 1.1 .8 1.1 .2 1.2-1.8 1.1-2.6 1.1-3.1 1.1-.1 1.1-.8 1.2-1.1 1.1-.3 1.1 1.3 1.1 2.2 1.1 1.8 1.2 .6 1.1 .6 1.1-1.1 1.1-3.5 1.1-2.3 1.2 .4 1.1-.4 1.1 1.9 1.1 1.2 1.1 .9 1.2-1.6 1.1-2.3 1.1 2.2 1.1 1.3 1.1 .1 1.2-2.4 1.1 .1 1.1 3.3 1.1 2.7 1.1 4.1 1.2 3.4 1.1 1.1 1.1-1.6 1.1-1.7 1.1-3.5 1.2-3.2 1.1-2.1 1.1 .1 1.1-.3 1.1-.8 1.2-.8 1.1-1.8 1.1-3.6 1.1-2 1.1 1.2 1.2 1.5 1.1 3.1 1.1 3.7 1.1 3.6 1.1 3.1 1.2 2.6 1.1-.1 1.1-.5 1.1-2.4 1.1-2.5 1.2-2.7 1.1-1.3 1.1-1 1.1 .6 1.1 1.9 1.2 2.1 1.1 1.3 1.1 2 1.1-3.7 1.1-2.6 1.2-2.4 1.1-1.4 1.1-1.7 1.1 .3 1.1-.7 1.2 3.7 1.1 3.7 1.1 3.7 1.1 3.1 1.1 3.9 1.2-.8 1.1-.9 1.1-1.1 1.1-1.8 1.1-2.4 1.2-2.6 1.1-2.6 1.1-1 1.1 .2 1.1 1.1 1.2 .3 1.1 1 1.1-2.9 1.1-3.8 1.1-1.7 1.2-.5 1.1-.5 1.1 0 1.1-.5 1.1-.1 1.2 .8 1.1 0 1.1 .5 1.1 1.5 1.1-1.4 1.2-1.3 1.1 .3 1.1 2.8 1.1 2.2 1.1 .1 1.2 .8 1.1-.3 1.1 .2 1.1-.5 1.1 .3 1.2 .6 1.1 .2 1.1 1.1 1.1 .2 1.1 .2 1.2 0 1.1 1 1.1 1.6 1.1-.9 1.1-2.5 1.2-1.1 1.1 1.9 1.1 1.5 1.1 1.4 1.1-.2 1.2 .9 1.1 .2 1.1 .4 1.1-2 1.1-2.2 1.2-.5 1.1 .5 1.1 1 1.1-1.6 1.1-.7 1.2-.7 1.1-1 1.1 .5 1.1 2.3 1.1 2.3 1.2-.4 1.1-.6 1.1-.4 1.1-.7 1.1-.6 1.2 1.7 1.1 1.4 1.1-.6 1.1-1.4 1.1-1.1 1.2 .8 1.1-.4 1.1 1.9"/>
<path stroke="#88ACA3" d="M257 799.4l1.1 6.3 1.1 5.3 1.2-1.9 1.1-3.5 1.1-2.8 1.1-1.1 1.1-.6 1.2 .6 1.1 0 1.1 .1 1.1-1.4 1.1 .8 1.2 2.2 1.1 2.6 1.1-1.7 1.1-3.5 1.1-2.6 1.2 .1 1.1-.2 1.1 1.4 1.1 .8 1.1 1.3 1.2-.1 1.1-.1 1.1 .9 1.1 .8 1.1 .9 1.2 1.7 1.1 .8 1.1 .8 1.1 .6 1.1 .5 1.2 .3 1.1 .8 1.1 .9 1.1 .9 1.1-3.1 1.2-2.2 1.1-1.9 1.1 .6 1.1 .2 1.1-.1 1.2 0 1.1-.5 1.1-1 1.1-2.3 1.1-2.2 1.2-2.7 1.1-.5 1.1-.7 1.1 .5 1.1 1.7 1.2 2.9 1.1 3 1.1 4.1 1.1 1.6 1.1 1.1 1.2 .1 1.1-4.4 1.1-4 1.1 .2 1.1 .4 1.2-.3 1.1 2.1 1.1 2.1 1.1 1.6 1.1 1.9 1.2 .2 1.1-1.4 1.1-1.8 1.1-2.1 1.1-2.4 1.2 .6 1.1 1 1.1-.2 1.1-.3 1.1-.5 1.2-1 1.1-1 1.1-.1 1.1 .2 1.1 .6 1.2 1.5 1.1 .9 1.1 0 1.1-1.1 1.1-2 1.2-.2 1.1-.7 1.1 .8 1.1 1.1 1.1 .3 1.2-.6 1.1 1.4 1.1 2.4 1.1 4 1.1-.7 1.2-2.1 1.1-1.1 1.1-1.2 1.1-1.2 1.1 3.6 1.2 2.7 1.1 1.5 1.1-.6 1.1-1.9 1.1 0 1.2-.8 1.1 1.1 1.1 1.8 1.1 1.3 1.1 .7 1.2 .1 1.1-3 1.1-3.3 1.1-3.3 1.1-2.6 1.2-3.1 1.1 2 1.1 2.7 1.1 .9 1.1 1.1 1.2-.1 1.1-1.7 1.1-2.8 1.1 .6 1.1-.1 1.2 1.4 1.1 1.9 1.1 1.8 1.1 2 1.1 .8 1.2 .2 1.1-1.1 1.1-1.3 1.1-.2 1.1-.6 1.2-.5 1.1 .4 1.1-2.2 1.1-4.9 1.1-4.1 1.2 3.7 1.1 2.9 1.1 2.9 1.1 .4 1.1-.4 1.2-.6 1.1-.8 1.1-.8 1.1-2.1 1.1 1.2 1.2 1 1.1 2.2 1.1 .6 1.1-.3 1.1-.3 1.2-1.8 1.1-1.8 1.1 .7 1.1-.4 1.1-1.1 1.2-2.4 1.1-2 1.1-.6 1.1-1.5 1.1-3.1 1.2-2 1.1-2.5 1.1-4.7 1.1-3.4 1.1-2.5 1.2-2.5 1.1-2.3 1.1-2.9 1.1-1.4 1.1 .6 1.2-.7 1.1-2.7 1.1-3.2 1.1-1.9 1.1-2.3 1.2-2.6 1.1-1.7 1.1-.7 1.1-2.3 1.1-1.3 1.2-1.7 1.1-.3 1.1-.6 1.1-2 1.1-2.4 1.2-.7 1.1 0 1.1 0 1.1-.4 1.1-2.2 1.2-.4 1.1-.1 1.1-.2 1.1-2.1 1.1-1.8 1.2-.5 1.1-.4 1.1-.2 1.1-.3 1.1-.4 1.2-.6 1.1-.3 1.1-1.1 1.1-.3 1.1-.5 1.2-.5 1.1-.3 1.1-.4 1.1 .1 1.1-.5 1.2-.4 1.1 .2 1.1-1.5 1.1-1.4 1.1-1.5 1.2-1.4 1.1-1.5 1.1 .2 1.1-.1 1.1 1 1.2 1.3 1.1 2.4 1.1-.2 1.1 .3 1.1 .6 1.2 0 1.1 .5 1.1-.5 1.1 1.1 1.1 .7 1.2 1.1 1.1 1.9 1.1 .7 1.1 2.2 1.1 1.4 1.2 1.5 1.1 2.3 1.1 .9 1.1 2.2 1.1 4.5 1.2 5.1 1.1 4.7 1.1 4.3 1.1 2.2 1.1-.4 1.2-1.3 1.1-2.8 1.1-4.5 1.1-4.8 1.1-2.9 1.2-3.8 1.1-4.6 1.1-2.4 1.1-.3 1.1 .1 1.2-.6 1.1 1.8 1.1-2.2 1.1 5.8 1.1-2.4 1.2 5.8 1.1-7.4 1.1 9.5 1.1-6.9 1.1 2.2 1.2-6.6 1.1 14.9 1.1-13.1 1.1 11 1.1-16.8 1.2 18.7 1.1-9.1 1.1 10.1 1.1-14.6 1.1 17.4 1.2-13.8 1.1 9.4 1.1-13.7 1.1 12.8 1.1-10 1.2 8 1.1-12.7 1.1 18.4 1.1-14.1 1.1 9.8 1.2-9.8 1.1 16.7 1.1-16.9 1.1 9.1 1.1-9.5 1.2 14.2 1.1-7.8 1.1 7.4 1.1-9.5 1.1 16.4 1.2-17.3 1.1 7.2 1.1-10.7 1.1 16 1.1-14 1.2 9.4 1.1-6.7 1.1 18 1.1-15 1.1 8.7 1.2-12.4 1.1 12.8 1.1-14.7 1.1 12.4 1.1-8 1.2 15.2 1.1-17.1 1.1 11.9 1.1-11.6 1.1 13.4 1.2-19.4 1.1 15.5 1.1-12.8 1.1 12.8 1.1-13.7 1.2 8.6 1.1-9.9 1.1 15.2 1.1-11 1.1 12 1.2-9.6 1.1 17.2 1.1-16.7 1.1 12.5 1.1-8.4 1.2 14.5 1.1-15.5 1.1 9.8 1.1-9.4 1.1 17.9 1.2-19.7 1.1 11.9 1.1-1.8 1.1 9 1.1-17.2 1.2 16.7 1.1-8.1 1.1 9.8 1.1-17.2 1.1 13.8 1.2-6.2 1.1 14.4 1.1-13.2 1.1 17.3 1.1-11.5 1.2 8.2 1.1-11.4 1.1 14.2 1.1-9.3 1.1 12.3 1.2-15.4 1.1 18.6 1.1-13 1.1 10.5 1.1-7.3 1.2 14.4 1.1-8.7 1.1 2.8 1.1-7.2 1.1 9.8 1.2-7.4 1.1 6.7 1.1-3.2 1.1 3.7 1.1-1.8 1.2 .9 1.1 1.1 1.1 3.4 1.1 1 1.1 .4 1.2 .7 1.1 .5 1.1 .1 1.1 1.2 1.1 2.1 1.2 1.7 1.1-1.3 1.1-1.5 1.1-.3 1.1-.7 1.2 .6 1.1 1 1.1 .3 1.1 1.6 1.1 .3 1.2 1 1.1 .4 1.1 .3 1.1 .8 1.1-.2 1.2 .9 1.1 1.1 1.1 .6 1.1 .4 1.1 1 1.2 1.6 1.1 .2 1.1 0 1.1-.3 1.1 .2 1.2 .4 1.1 .1 1.1-1.3 1.1-4.9 1.1-2.1 1.2 4.2 1.1 5.6 1.1 2 1.1 2.2 1.1 .5 1.2-.7 1.1-1.2 1.1-2.3 1.1-2.2 1.1-.8 1.2 .5 1.1 .9 1.1 .6 1.1 1.5 1.1 .8 1.2 1.1 1.1 .6 1.1-.8 1.1 .4 1.1 .3 1.2 .9 1.1-.5 1.1-2.7 1.1-.8 1.1-.1 1.2 .3 1.1 1.2 1.1 1.4 1.1 1.1 1.1 1 1.2-.6 1.1-1.7 1.1-2.7 1.1-.8 1.1 1.4 1.2 .2 1.1 .4 1.1-.7 1.1 2.6 1.1 2.1 1.2 1.9 1.1-2.6 1.1-3.3 1.1-1.8 1.1-2.2 1.2-2 1.1-1.8 1.1-1.8 1.1 .8 1.1 .4 1.2 2.2 1.1 2 1.1 2.2 1.1 2.8 1.1 2.2 1.2 1.1 1.1 1 1.1 .2 1.1 .5 1.1 1.1 1.2-2.5 1.1-2.5 1.1 .4 1.1 1.8 1.1 .2 1.2-.8 1.1 0 1.1-.9 1.1-.4 1.1 .6 1.2 .7 1.1 .7 1.1-4.8 1.1-4.3 1.1-.4 1.2 3.2 1.1 3.6 1.1 1.1 1.1 2.4 1.1 .9 1.2 1.2 1.1 .9 1.1-.1 1.1-.3 1.1-.6 1.2-.9 1.1 .1 1.1 1.2 1.1 1.6 1.1 .8 1.2-.2 1.1-2.9 1.1-4.8 1.1-3.5 1.1-.3 1.2-1.5 1.1 2.5 1.1 4.1 1.1 2.4 1.1-1 1.2 .1 1.1-.4 1.1-.4 1.1 .9 1.1 1.4 1.2 .6 1.1-3.8 1.1-3.2 1.1-.8 1.1 .7 1.2 1.5 1.1 3.3 1.1 2.8 1.1-2.8 1.1-2.9 1.2-2.2 1.1-1.5 1.1-.9 1.1 3.6 1.1 3.6 1.2 1.2 1.1 .9 1.1-.6 1.1-2.6 1.1-2.3 1.2 1.4 1.1 2 1.1-.7 1.1-1.2 1.1-1 1.2-1 1.1-.3 1.1 1.1 1.1 1.1 1.1 .9 1.2-.9 1.1-1.1 1.1 .7 1.1 1 1.1 .5 1.2-1.2 1.1-.1 1.1 1.4 1.1 2.7 1.1-3.3 1.2-6.3 1.1-3 1.1 3.3 1.1 4.3 1.1-.4 1.2-1.1 1.1-1.6 1.1-1.4 1.1-1.6 1.1 3.2 1.2 2.7 1.1 1.1 1.1-1 1.1-1 1.1-3 1.2-2.7 1.1 0 1.1 1.8 1.1 2.7 1.1 2.9 1.2 2.1 1.1-3.5 1.1-1.4 1.1-.6 1.1 1 1.2 1.4 1.1 1.9 1.1 0 1.1-2.9 1.1-3.6 1.2-1.2 1.1 .4 1.1 3.1 1.1 5.3 1.1 3.3 1.2-2.3 1.1-7.5 1.1-5.7 1.1 .8 1.1 3.4 1.2 7 1.1 4.6 1.1 .4 1.1-4.8 1.1-9.3 1.2-3.9 1.1-2.5 1.1 3.4 1.1 9.7 1.1 5.9 1.2-.2 1.1-4.6 1.1-7 1.1-2.6 1.1 0 1.2 3.6 1.1 7.1 1.1 1.7 1.1-4.4 1.1-5.6 1.2-7.2 1.1-5.8 1.1-2.3 1.1 3.8 1.1 10.8 1.2 12.6 1.1 7.3 1.1-5.7 1.1-9.4 1.1-10.9 1.2-4 1.1 .3 1.1 5.5 1.1 10.5 1.1 2 1.2-3.8 1.1-6 1.1-9.8 1.1-3.8 1.1 3.1 1.2 7.8 1.1 12.2 1.1 5.7 1.1 .9 1.1-3.4 1.2-11.8 1.1-9.7 1.1-4.8 1.1 2.9 1.1 12.7 1.2 12.1 1.1 3.7 1.1-1 1.1-9.2 1.1-15 1.2-5.8 1.1 3.7 1.1 8.7 1.1 13 1.1 5.4 1.2-1.3 1.1-4.9 1.1-14 1.1-5.8 1.1-1.5 1.2 3.3 1.1 7.8 1.1 10 1.1 1.8 1.1-4.2 1.2-6.1 1.1-11.2 1.1-3.5 1.1 3.4 1.1 7.8 1.2 13.6 1.1 7.3 1.1 1.4 1.1-6.2 1.1-11.6 1.2-11.1 1.1-2.6 1.1 2 1.1 7.8 1.1 13.2 1.2 2.4 1.1-3 1.1-.2 1.1-8 1.1-7.4 1.2-3.7 1.1 2.5 1.1 5.4 1.1 12.1 1.1 5 1.2-.7 1.1-6 1.1-13.8 1.1-9.3 1.1-3.4 1.2 2.3 1.1 8.1 1.1 15.2 1.1 6.2 1.1-.5 1.2-6.3 1.1-11.6 1.1-7.9 1.1-1.3 1.1 3.5 1.2 8.9 1.1 10.4 1.1 4.2 1.1-.4 1.1-4.1 1.2-10 1.1-10.6 1.1-5.1 1.1 3.2 1.1 10.1 1.2 14 1.1 5.8 1.1 .1 1.1-3.8 1.1-10.5 1.2-7.6 1.1-2.5 1.1 1.9 1.1 3.7 1.1 7.4 1.2 4.5 1.1 .1 1.1-2 1.1-4.8 1.1-7.5 1.2-2.5 1.1 1.3 1.1 4.2 1.1 4.4 1.1 1.1 1.2 0 1.1-3.6 1.1-1.2 1.1 1.1 1.1 3.3 1.2-1 1.1-1.4 1.1 1.3 1.1 .4 1.1-1.1 1.2-.8 1.1-2 1.1-2.3 1.1-2.3 1.1-1.4 1.2 3 1.1 1.8 1.1 0 1.1-1.4 1.1 2 1.2 3 1.1 1.8 1.1-1.8 1.1-1.5 1.1 .9 1.2 1.5 1.1 1.4 1.1 1 1.1 1.3 1.1-2.7 1.2-3.2 1.1-1.4 1.1-.2 1.1-1.1 1.1 .4 1.2-1 1.1 .3 1.1-1.2 1.1 .3 1.1 1.5 1.2 .4 1.1-3.9 1.1-1.7 1.1 0 1.1 2.4 1.2 5 1.1 5.8 1.1 4 1.1-.1 1.1-3.6 1.2-5.8 1.1-8.9 1.1-6.6 1.1-.1 1.1 1.4 1.2 4.9 1.1 9.2 1.1 5.1 1.1 .2 1.1-1.5 1.2-6.1 1.1-10.2 1.1-4.4 1.1 2.8 1.1 5.7 1.2 4.5 1.1 7.1 1.1 3.4 1.1 1.4 1.1-2.4 1.2-5.9 1.1-9.8 1.1-4.4 1.1-.9 1.1 2.7 1.2 9.8 1.1 12.7 1.1 2.4 1.1-3.8 1.1-4.6 1.2-3.8 1.1-7.9 1.1-1.7 1.1 1.8 1.1 2.3 1.2 4.5 1.1 8.8 1.1 3 1.1-.2 1.1-3.6 1.2-7.2 1.1-11.6 1.1-4.8 1.1-.5 1.1 4.9 1.2 8.5 1.1 13 1.1 7.3 1.1 3.2 1.1-.4 1.2-4.6 1.1-13.3 1.1-7.7 1.1-4.5 1.1-.4 1.2 3.2 1.1 11.6 1.1 8.2 1.1 4 1.1 0 1.2-4.1 1.1-10.8 1.1-8.1 1.1-6.2 1.1-3.9 1.2 1.6 1.1 12.7 1.1 14 1.1 4.1 1.1-.9 1.2-3.8 1.1-6.9 1.1-10.7 1.1-6 1.1-1 1.2 .2 1.1 4.7 1.1 8.8 1.1 7 1.1 1.6 1.2-2.3 1.1-7.7 1.1-11.4 1.1-6.5 1.1-3.6 1.2 3.1 1.1 6 1.1 11.1 1.1 11.3 1.1 5.6 1.2-1.1 1.1-4 1.1-6.7 1.1-8.7 1.1-4.8 1.2-3 1.1 1.5 1.1 2.7 1.1 8.4 1.1 6.9 1.2 5.7 1.1 2 1.1-6.2 1.1-11.4 1.1-10.3 1.2-6.6 1.1-2 1.1 5.3 1.1 7.6 1.1 12.9 1.2 7.8 1.1 4 1.1-1.3 1.1-2.3 1.1-10.5 1.2-7.1 1.1-1.8 1.1 .5 1.1 4.9 1.1 8.2 1.2 9.4 1.1-.6 1.1-3.6 1.1-5.4 1.1-4.3 1.2-9.8 1.1-5.1 1.1-2 1.1-1.6 1.1 1.1 1.2 5.4 1.1 6.4 1.1 2.5 1.1 1.1 1.1 .7 1.2-2.8 1.1-5.2 1.1-.6 1.1 0 1.1 1.7 1.2 2.9 1.1 4.2 1.1 2.9 1.1-.1 1.1-1.8 1.2-.3 1.1-.3 1.1-3 1.1-2.4 1.1-.3 1.2-1.1 1.1-.2 1.1 2.1 1.1 .4 1.1-.4 1.2 2.2 1.1-.3 1.1-3.1 1.1-6.5 1.1-2.7 1.2 4.4 1.1 5.3 1.1 4.4 1.1 3.9 1.1 2.6 1.2-.9 1.1-1.6 1.1-3.9 1.1-4.1 1.1-4 1.2-.9 1.1 .5 1.1 4.2 1.1 4.1 1.1 2.1 1.2 .4 1.1-.4 1.1 .8 1.1 .4 1.1 1.1 1.2 .2 1.1 1.2 1.1 3.6 1.1 2.2 1.1-2.2 1.2-3.2 1.1-1.5 1.1 0 1.1-.8 1.1-1.6 1.2-1.4 1.1-.3 1.1-.4 1.1 .1 1.1-1.1 1.2-.4 1.1 1.6 1.1 1.4 1.1 .9 1.1 1 1.2 1.9 1.1 2 1.1 2.4 1.1-2.8 1.1-3.9 1.2-1.9 1.1-.6 1.1-.3 1.1 .4 1.1 .4 1.2-2.2 1.1-2.4 1.1-1.9 1.1 1.6 1.1 2 1.2 .6 1.1 .3 1.1 1.1 1.1 2.2 1.1 2.2 1.2-1.4 1.1-1.8 1.1 .4 1.1 .3 1.1 .4 1.2-1.7 1.1-.7 1.1 .2 1.1 .6 1.1 .2 1.2 1 1.1-1.4 1.1 0 1.1-.8 1.1-.4 1.2-.1 1.1-1 1.1-.2 1.1-.1 1.1-.4 1.2-1.7 1.1-.1 1.1 4.1 1.1 3.5 1.1-2 1.2-1.5 1.1-1.5 1.1-1.1 1.1-1 1.1-.4 1.2-.1 1.1 .3 1.1 .2 1.1 .4 1.1-1.6 1.2 .2 1.1 3.1 1.1 3.9 1.1 1.8 1.1 .8 1.2 .9 1.1-2.9 1.1-1.9 1.1-1.4 1.1-1.1 1.2-1.1 1.1 .6 1.1 .5 1.1 .8 1.1 2 1.2 1.6 1.1 2.8 1.1 3.4 1.1-1.4 1.1-2 1.2 .5 1.1 2.4 1.1 2.7 1.1-2.4 1.1-2 1.2-2.1 1.1-3.5 1.1-2.4 1.1-.1 1.1-.8 1.2 3.2 1.1 3.1 1.1 1.2 1.1-2.2 1.1-1.9 1.2 .9 1.1 1.1 1.1 1 1.1 1.2 1.1 .4 1.2 2 1.1 1.2 1.1-1.7 1.1-3 1.1-.6 1.2 2.2 1.1 1.8 1.1 .9 1.1 .7 1.1 1.1 1.2-.1 1.1-.9 1.1-2.5 1.1-1.6 1.1-3.5 1.2-3.5 1.1-1.4 1.1 .4 1.1 .8 1.1 .9 1.2 1.6 1.1 1.6 1.1 2.6 1.1 1.1 1.1-1.7 1.2-.6 1.1-.4 1.1 2.4 1.1-.8 1.1-3.3 1.2-3.7 1.1-.8 1.1-.1 1.1 .4 1.1 0 1.2 .1 1.1 .4 1.1 .7 1.1 .8 1.1 .1 1.2 .9 1.1-.4 1.1 .5 1.1 .1 1.1 .5 1.2 0 1.1-1.5 1.1-1.8 1.1 .8 1.1 .5 1.2 1.7 1.1 2.7 1.1 1.6 1.1-1.9 1.1-3.4 1.2 .8 1.1 2.2 1.1-.3 1.1-.8 1.1-.7 1.2 0 1.1 .2 1.1 1.9 1.1 3.4 1.1 2.3 1.2-2.3 1.1-2.2 1.1-2.4 1.1-3.5 1.1-.3 1.2 3.1 1.1 3.1 1.1 .6 1.1 .4 1.1-.3 1.2-1.6 1.1-.8 1.1 .1 1.1-.7 1.1-1.7 1.2-1.8 1.1-.9 1.1 .5 1.1 .6 1.1 2.5 1.2 1.1 1.1 .8 1.1-1.6 1.1-.1 1.1-.4 1.2-.9 1.1-2.2 1.1-1.3 1.1-.8 1.1 1.6 1.2 2.2 1.1 3.3 1.1 4 1.1 .5 1.1-3.7 1.2-2.3 1.1-1.7 1.1-2 1.1 .6 1.1 .5 1.2 1 1.1 .1 1.1 1 1.1 2.5 1.1 1.6 1.2 1.5 1.1-.7 1.1-.8 1.1-1.4 1.1-1.3 1.2-2.8 1.1-3.4 1.1-2.2 1.1 4.9 1.1 5.9 1.2 1.7 1.1 1.4 1.1 .6 1.1-1.5 1.1-.5 1.2-.9 1.1-1.2 1.1-1.5 1.1-1.6 1.1-2 1.2 .3 1.1 .2 1.1 1.8 1.1 2.1 1.1 .5 1.2-.8 1.1-1 1.1-.2 1.1 .6 1.1 .5 1.2 .2 1.1 1.5 1.1-1.6 1.1-1.7 1.1-2 1.2-2.1 1.1-1.8 1.1 1.1 1.1 .2 1.1 3.7 1.2 4.2 1.1 .6 1.1-2.2 1.1-3.6 1.1 .4 1.2 .5 1.1 1.2 1.1 2.3 1.1 1.5 1.1 2.4 1.2 1.9 1.1-.6 1.1-1.6 1.1-1 1.1-.5 1.2-.3 1.1-1.4 1.1-1.1 1.1-1.3 1.1-.3 1.2-.5 1.1 .5 1.1 .5 1.1-1.3 1.1-3 1.2-1.4 1.1 .7 1.1 1 1.1 1.4 1.1 2 1.2 1.2 1.1 1.6 1.1 1.7 1.1-.2 1.1 .7 1.2 .2 1.1 .4 1.1-.2 1.1-1.7 1.1-2.5 1.2-1.7 1.1-.8 1.1 .5 1.1 .7 1.1 1.7 1.2-.7 1.1 1 1.1-.1 1.1 .8 1.1-.4 1.2-5.7 1.1-4.9 1.1 1.4 1.1 1.5 1.1 .8 1.2-.3 1.1-.1 1.1 .7 1.1 1.1 1.1-.5 1.2-1.1 1.1-1.5 1.1 2.5 1.1 1.2 1.1 1.1 1.2 1 1.1-.7 1.1-2 1.1-3.7 1.1 .2 1.2 0 1.1-.4 1.1-.7 1.1 .1 1.1 2.6 1.2 3 1.1-.7 1.1-2.3 1.1-1.6 1.1-1.3 1.2-1 1.1 .1 1.1 1.4 1.1 1 1.1 2.4 1.2 1.9 1.1-.2 1.1 .4 1.1-.4 1.1-1.1 1.2 .7 1.1 6.6 1.1 5.6 1.1-3.8 1.1-4.9 1.2-2.6 1.1 .1 1.1 .3 1.1 3.7 1.1 3.2 1.2-1.3 1.1-3.4 1.1-1.5 1.1 2.2 1.1 1.3 1.2 1.4 1.1 .8 1.1 .9 1.1-.4 1.1-.1 1.2 1.1 1.1 .7 1.1-2.3 1.1-2.4 1.1-4.6 1.2 .6 1.1-.2 1.1-1.2 1.1-2.6 1.1 0 1.2 0 1.1 .4 1.1 .8 1.1 .9 1.1-.3 1.2 .7 1.1 0 1.1-.1 1.1-.1 1.1 .2 1.2 1.3 1.1 1.6 1.1 .6 1.1 .2 1.1-.1 1.2 .6 1.1-1.4 1.1-1.1 1.1-1.3 1.1 .9 1.2 1.1 1.1 .7 1.1 1.6 1.1 1.3 1.1 .3 1.2 .6 1.1-1.1 1.1-1.2 1.1-1 1.1-.7 1.2-.4 1.1 .8 1.1 .4 1.1-.4 1.1-.3 1.2-1.4 1.1-3.7 1.1-3.2 1.1 .7 1.1 1.3 1.2 1.2 1.1 .5 1.1 .9 1.1-.2 1.1 .2 1.2 1 1.1 1.4 1.1 .6 1.1-2.6 1.1-2.3 1.2-1.2 1.1-1.1 1.1-.7 1.1 2.1 1.1 2 1.2 3.4 1.1 3.3 1.1 .9 1.1-3.9 1.1-3.1 1.2 2.1 1.1 1.3 1.1 1.9 1.1 1.6 1.1 .7 1.2-.6 1.1 .4 1.1-2.2 1.1-2.9 1.1-.6 1.2-1.5 1.1-1.9 1.1 .9 1.1 1.9 1.1 .6 1.2 .9 1.1 .2 1.1 .9 1.1 1 1.1-.6 1.2-2 1.1-.1 1.1 1.3 1.1 .9 1.1 .8 1.2-.3 1.1-1.6 1.1-1.1 1.1-1.7 1.1-.6 1.2-.8 1.1-.7 1.1-.3 1.1-1.2 1.1-.8 1.2-.7 1.1-.5 1.1 .4 1.1 .9 1.1 1.8 1.2 2.5 1.1 .8 1.1 2.1 1.1-1.4 1.1-.7 1.2-.2 1.1 3.1 1.1 2.3 1.1-1.2 1.1-1.3 1.2-1.4 1.1-.2 1.1-1.2 1.1 .5 1.1-.1 1.2 .8 1.1 2.3 1.1 .2 1.1-2.3 1.1-1.2 1.2-.5 1.1 .2 1.1-1.9 1.1-2.5 1.1-2 1.2 .8 1.1 .9 1.1 2.8 1.1 2.5 1.1 2.4 1.2 1 1.1 .1 1.1-2 1.1-1.2 1.1-2.4 1.2-1.5 1.1-1.5 1.1 1.3 1.1 .5 1.1 2.3 1.2-.3 1.1 .6 1.1-2.2 1.1-2.2 1.1 .3 1.2 .4 1.1 .3 1.1 .1 1.1 .1 1.1 1.4 1.2 .8 1.1 .3 1.1-.9 1.1-.3 1.1 .3 1.2 1.3 1.1 .1 1.1-1.1 1.1-.1 1.1 .4 1.2 1 1.1 .3 1.1 0 1.1-.1 1.1 .6 1.2 .3 1.1 2.8 1.1 2.3 1.1 1.1 1.1-.7 1.2-1.6 1.1-1.6 1.1-1.7 1.1 .9 1.1 1.8 1.2 2.1 1.1 .1 1.1 .6 1.1-2.8 1.1-4 1.2-1 1.1-.2 1.1-1.8 1.1-.3 1.1 .9 1.2 1.9 1.1 4 1.1 2.6 1.1 2 1.1 1.8 1.2-3.6 1.1-4.1 1.1-2.4 1.1 .5 1.1 .4 1.2 2.8 1.1 3.5 1.1-.2 1.1-.6 1.1-.3 1.2 .5 1.1 1.3 1.1-1.3 1.1-1.3 1.1-2.4 1.2-1.7 1.1-2.1 1.1-1 1.1-2.2 1.1 4.1 1.2 6.7 1.1 4 1.1-3 1.1-2.8 1.1-5.5 1.2-6.1 1.1-2.7 1.1 1.3 1.1 1.3 1.1 1.7 1.2 2.1 1.1 2.2 1.1 2.6 1.1 1.8 1.1 .6 1.2 1.5 1.1-.3 1.1-1 1.1-1.1 1.1-1.1 1.2-2 1.1 1.7 1.1 2.4 1.1 .1 1.1-.9 1.2-1.5 1.1-.6 1.1-1.2 1.1 .4 1.1-.9 1.2 0 1.1-2 1.1-2.6 1.1-.9 1.1-1.6 1.2 0 1.1 .4 1.1 .9 1.1 3.8 1.1 4.5 1.2-1.3 1.1-4.5 1.1-1.7 1.1 1.4 1.1 1.4 1.2 3.7 1.1 3.3 1.1 1.4 1.1-.8 1.1-.4 1.2-2.5 1.1-2 1.1-.9 1.1-1.8 1.1-.2 1.2 1.8 1.1 1.9 1.1 1.3"/>
<path stroke="#6AD6D0" d="M257 876.7l1.1-.2 1.1-.9 1.2 .7 1.1 1.7 1.1 .1 1.1-.6 1.1-1.9 1.2 .3 1.1 .1 1.1 .9 1.1 .2 1.1 .2 1.2-.7 1.1-1.3 1.1 .2 1.1 .4 1.1 1.3 1.2-1.1 1.1 .7 1.1-.5 1.1 .9 1.1-.9 1.2 1 1.1-1 1.1-1.3 1.1-.3 1.1 1.3 1.2 2 1.1 2.6 1.1 1 1.1 2.5 1.1-2.1 1.2-3.1 1.1-.9 1.1 .3 1.1 .5 1.1 .4 1.2 .1 1.1-.1 1.1-.5 1.1-1 1.1 .3 1.2-.2 1.1-1.3 1.1-2.4 1.1-1.4 1.1 .9 1.2-.7 1.1 .5 1.1-.7 1.1 1.1 1.1 1.1 1.2 1.2 1.1 .4 1.1-.1 1.1 .3 1.1 .5 1.2 .8 1.1 .4 1.1 .3 1.1-.5 1.1-.1 1.2-.2 1.1-1.1 1.1-1.2 1.1 .6 1.1 .6 1.2 .5 1.1 1.5 1.1 .2 1.1-1 1.1-1.1 1.2-1.6 1.1-2.3 1.1-.2 1.1 2.6 1.1 3.1 1.2 .3 1.1 1.1 1.1 0 1.1-1.6 1.1-.5 1.2 .4 1.1 1 1.1-1.5 1.1-.8 1.1-1.1 1.2 1.3 1.1 .4 1.1-.8 1.1-.4 1.1-.8 1.2-1.1 1.1-.1 1.1 1.6 1.1 2.2 1.1 0 1.2-1.4 1.1-.2 1.1 .7 1.1 .4 1.1 1.6 1.2 1.3 1.1 .4 1.1 0 1.1 .1 1.1-2 1.2-1.5 1.1-.5 1.1 .1 1.1 1.2 1.1 1.8 1.2 1.9 1.1-1.8 1.1-2.6 1.1-1.4 1.1 .7 1.2 .2 1.1-1.8 1.1-.9 1.1-.1 1.1 1.2 1.2 1.2 1.1 0 1.1 .7 1.1 .4 1.1 .1 1.2 .4 1.1 1.6 1.1 .4 1.1-1 1.1-2.4 1.2 .1 1.1 1.4 1.1 1.1 1.1 .5 1.1 1.1 1.2 .3 1.1 .3 1.1-.9 1.1-3.7 1.1-3.4 1.2 1.4 1.1 .4 1.1-.4 1.1-2.2 1.1-1.6 1.2 .1 1.1 1.6 1.1 .7 1.1 1.4 1.1 .8 1.2 0 1.1 .3 1.1-.5 1.1 .1 1.1-.1 1.2 .5 1.1-1 1.1-1.8 1.1-2 1.1-2.5 1.2-.8 1.1-1.6 1.1-2.1 1.1-3.2 1.1-2.2 1.2-2.6 1.1-3.5 1.1-2.9 1.1-3 1.1-5.1 1.2-3.8 1.1-3.3 1.1-1.7 1.1-3.8 1.1-2.3 1.2-2.4 1.1-2.1 1.1-1.7 1.1-.9 1.1-1.6 1.2-1 1.1-.3 1.1-.1 1.1-.7 1.1-1.7 1.2-.5 1.1-.7 1.1-1.6 1.1-1.8 1.1-1.9 1.2-2 1.1-2.7 1.1-3.7 1.1-1.8 1.1-1.5 1.2-1.5 1.1-.1 1.1-.1 1.1-2 1.1-.7 1.2-2.8 1.1-2.9 1.1-2.7 1.1-1.7 1.1-1.4 1.2-.7 1.1-1 1.1-.2 1.1-.7 1.1-.1 1.2-1.2 1.1-.7 1.1-1.3 1.1-1.4 1.1-1.1 1.2 1.5 1.1 1.1 1.1 .5 1.1 .3 1.1 .4 1.2-1.4 1.1 0 1.1 0 1.1 1 1.1 .4 1.2 .9 1.1-.5 1.1 .4 1.1 .2 1.1 .1 1.2 .2 1.1 .5 1.1-.9 1.1 1.5 1.1 1 1.2 1 1.1 2.9 1.1 4 1.1 3.3 1.1 3.1 1.2 5.1 1.1 4.6 1.1 5.3 1.1 5.2 1.1 4.2 1.2 3.4 1.1 3.3 1.1 2.3 1.1 2 1.1 2.8 1.2-2.7 1.1 .2 1.1-6.8 1.1 .6 1.1-13.3 1.2 0 1.1-10.2 1.1 5.2 1.1-19.5 1.1 14.4 1.2-9.6 1.1 6 1.1-16.9 1.1 13.1 1.1-3 1.2 9.7 1.1-13.7 1.1 13.9 1.1-11.7 1.1 4.3 1.2-10.6 1.1 16.1 1.1-8 1.1 9.8 1.1-16.4 1.2 19.5 1.1-18.1 1.1 11.8 1.1-14.2 1.1 17.4 1.2-11.2 1.1 13.8 1.1-19.8 1.1 22.8 1.1-15.2 1.2 13.6 1.1-13.8 1.1 19.9 1.1-20 1.1 19.6 1.2-19.3 1.1 18.6 1.1-13.5 1.1 8.3 1.1-13.6 1.2 16.6 1.1-11.6 1.1 6.9 1.1-7.7 1.1 15.1 1.2-18.1 1.1 12.1 1.1-12.3 1.1 17.4 1.1-17.8 1.2 14.1 1.1-10.9 1.1 17.5 1.1-22 1.1 14.9 1.2-9.6 1.1 18.7 1.1-18.5 1.1 10.1 1.1-12.2 1.2 18.1 1.1-16.7 1.1 13.6 1.1-13.4 1.1 18.4 1.2-15.4 1.1 13.3 1.1-6.7 1.1 13.9 1.1-14 1.2 4.5 1.1-3.6 1.1 16.3 1.1-22.6 1.1 22.1 1.2-13.7 1.1 17.6 1.1-17.4 1.1 14.7 1.1-13.8 1.2 18.9 1.1-20.9 1.1 19 1.1-9.1 1.1 14.4 1.2-17.7 1.1 12.4 1.1-9.3 1.1 17.8 1.1-16.1 1.2 13.8 1.1-12.3 1.1 20.3 1.1-15 1.1 14.4 1.2-16.2 1.1 14.8 1.1-19.4 1.1 20.9 1.1-8.9 1.2 10.1 1.1-12.4 1.1 15.9 1.1-8.6 1.1 10.2 1.2-12.2 1.1 16.8 1.1-14.7 1.1 10.1 1.1-11.5 1.2 14.1 1.1-7.8 1.1 9.9 1.1-14 1.1 11.7 1.2-4.7 1.1 5.3 1.1-7.3 1.1 9.7 1.1-7.1 1.2 9 1.1-9.4 1.1 10.6 1.1-6.9 1.1 8.3 1.2-7 1.1 8.3 1.1-4.7 1.1 4.1 1.1-1.2 1.2 6.4 1.1-4.4 1.1 2.3 1.1-.4 1.1 4.3 1.2-1.1 1.1 2.2 1.1 1.1 1.1 .9 1.1 .3 1.2 1.1 1.1-.1 1.1 1.1 1.1 .8 1.1 .8 1.2-.1 1.1 1 1.1 .1 1.1 1.6 1.1 1.1 1.2 .8 1.1 1.8 1.1-.9 1.1-1 1.1-.1 1.2 1 1.1 .4 1.1 .2 1.1-1.4 1.1-1.8 1.2 1.3 1.1 .7 1.1 .4 1.1 2.1 1.1 .1 1.2-.2 1.1-.1 1.1 .5 1.1-.1 1.1-.5 1.2-2.5 1.1-1.1 1.1 .3 1.1 .3 1.1-1.9 1.2-1.4 1.1 .1 1.1 1.4 1.1 2 1.1 .1 1.2 1.1 1.1 .5 1.1-.4 1.1-.8 1.1-1 1.2-1.8 1.1 2.7 1.1 1.4 1.1 1 1.1-.1 1.2-.4 1.1 .1 1.1-.5 1.1-.8 1.1-3.1 1.2-2.2 1.1 2.3 1.1 1.7 1.1 1 1.1 .3 1.2 1.5 1.1 .7 1.1 .8 1.1 .5 1.1 1 1.2-.8 1.1-.7 1.1-1.9 1.1 0 1.1 .3 1.2 0 1.1 .1 1.1 .6 1.1 .8 1.1 1 1.2 0 1.1 .4 1.1-.3 1.1-1.3 1.1-1 1.2-.3 1.1-.6 1.1-.5 1.1-.5 1.1-.6 1.2 .6 1.1-.1 1.1 1.2 1.1 1.7 1.1 .5 1.2 .9 1.1 1.5 1.1-.3 1.1-.5 1.1-.1 1.2 .1 1.1-.1 1.1 .5 1.1 .4 1.1-1 1.2 0 1.1-.3 1.1-1.3 1.1-1.1 1.1 .5 1.2 .1 1.1 1.1 1.1 2.4 1.1 1.4 1.1-2.1 1.2-1.9 1.1-1.5 1.1-1.4 1.1 .3 1.1 .3 1.2 2 1.1-1 1.1 .4 1.1 .1 1.1-.6 1.2-.2 1.1 .3 1.1 .4 1.1-.1 1.1 .4 1.2 .2 1.1 0 1.1 1.4 1.1-2 1.1 0 1.2-.7 1.1-.1 1.1-1 1.1-.5 1.1-.1 1.2 .6 1.1 1 1.1 .2 1.1-1.3 1.1-.4 1.2-.1 1.1-.5 1.1-1 1.1-1.4 1.1-1.2 1.2 .1 1.1-.9 1.1 1 1.1 1.6 1.1 1.2 1.2-1.2 1.1-.6 1.1-.8 1.1-.6 1.1-.7 1.2-.3 1.1 1.1 1.1-.8 1.1-1 1.1 .2 1.2 1.3 1.1 1.7 1.1-2.7 1.1-2.3 1.1-1.4 1.2-.4 1.1-.3 1.1 2.3 1.1 2.2 1.1 0 1.2-.9 1.1 .4 1.1 1.2 1.1 1.5 1.1 2.5 1.2 3 1.1-.1 1.1-1.7 1.1-1.2 1.1-1.9 1.2-.4 1.1-.9 1.1-1.1 1.1-.2 1.1 .6 1.2-1.1 1.1-.6 1.1 2.1 1.1 .9 1.1 1.9 1.2 3.1 1.1 2.1 1.1-.6 1.1-3.6 1.1-4.5 1.2-.4 1.1 4.1 1.1 6.9 1.1 2.1 1.1-1.1 1.2-3.6 1.1-6.8 1.1-5.7 1.1-1.3 1.1 2.6 1.2 6.8 1.1 3.8 1.1 1.3 1.1-2.3 1.1-6.6 1.2-6.3 1.1-3.6 1.1 2 1.1 7.7 1.1 6 1.2 4.2 1.1 .6 1.1-9.4 1.1-8.8 1.1-3.6 1.2 3.5 1.1 8.9 1.1 5.9 1.1 1.1 1.1-1.6 1.2-6.7 1.1-4.1 1.1-3.2 1.1 .8 1.1 7.8 1.2 6.8 1.1 2.4 1.1-.9 1.1-7.8 1.1-10.1 1.2-2.6 1.1 1.4 1.1 5.2 1.1 9.8 1.1 2.8 1.2-1.6 1.1-7.4 1.1-11.8 1.1-4.3 1.1 1 1.2 7 1.1 11.9 1.1 6 1.1 1.1 1.1-6 1.2-12 1.1-8.6 1.1-2.6 1.1 4.3 1.1 12.1 1.2 10.6 1.1 3.3 1.1-2.4 1.1-8.6 1.1-11.1 1.2-5.6 1.1 .3 1.1 3.8 1.1 12.7 1.1 5.4 1.2 1 1.1-3.5 1.1-11.2 1.1-9.8 1.1-1.8 1.2 3.7 1.1 12.7 1.1 13.9 1.1 2.7 1.1-3 1.2-11.4 1.1-18 1.1-8 1.1 3.3 1.1 9.3 1.2 17.1 1.1 11.1 1.1 3.2 1.1-4.8 1.1-11.4 1.2-14.5 1.1-6.6 1.1 0 1.1 6.4 1.1 15 1.2 7.1 1.1 .3 1.1-3.3 1.1-12.3 1.1-8.7 1.2-2.9 1.1 3.8 1.1 7.9 1.1 13.2 1.1 6.9 1.2 1.2 1.1-5.1 1.1-15.1 1.1-9.4 1.1-2.6 1.2 4.3 1.1 9.3 1.1 12.8 1.1 5 1.1-1.1 1.2-7.9 1.1-14 1.1-8.2 1.1-3.6 1.1 1.7 1.2 6.5 1.1 15.5 1.1 8 1.1 2.7 1.1-2.9 1.2-10.3 1.1-10.5 1.1-5.5 1.1 .6 1.1 8.2 1.2 11.5 1.1 4.4 1.1-1.8 1.1-4.6 1.1-11.8 1.2-9 1.1 .3 1.1 4.5 1.1 5.3 1.1 10.1 1.2 6.3 1.1 2.4 1.1-1.8 1.1-7.3 1.1-8.9 1.2-2.9 1.1 2.3 1.1 4.2 1.1 5.2 1.1 3.1 1.2 .1 1.1-3.3 1.1-3.4 1.1-5.6 1.1-1.6 1.2 2.3 1.1 3.4 1.1 2.5 1.1 3.7 1.1 .3 1.2 .5 1.1-.1 1.1-.3 1.1 .5 1.1-.1 1.2-.1 1.1-.1 1.1 .8 1.1-.8 1.1-.5 1.2-1.5 1.1-1.7 1.1-2.4 1.1-3.1 1.1 .2 1.2 1.1 1.1 1.9 1.1 3.1 1.1 3.3 1.1-2.7 1.2-3.1 1.1-1.4 1.1-1.5 1.1-.7 1.1 .8 1.2 1 1.1 3.6 1.1 1.4 1.1 .8 1.1-2.2 1.2-3.2 1.1-4.1 1.1-2.5 1.1-1 1.1 .2 1.2 3.8 1.1 6.9 1.1 4.2 1.1 .1 1.1-3.8 1.2-4.8 1.1-6.3 1.1-3 1.1-1.1 1.1 1 1.2 2.5 1.1 5.8 1.1 2.1 1.1 3.2 1.1-.9 1.2-5.3 1.1-9.1 1.1-3.9 1.1 .7 1.1 3.4 1.2 5.9 1.1 9.8 1.1 4.1 1.1 3.5 1.1-1.9 1.2-8.3 1.1-11.5 1.1-6.8 1.1-1.5 1.1 3.5 1.2 6.3 1.1 11.2 1.1 6.2 1.1 1.4 1.1-3.1 1.2-7.6 1.1-12.9 1.1-5.6 1.1-2.6 1.1 2.7 1.2 6.7 1.1 12.5 1.1 4.9 1.1 .6 1.1-1 1.2-5.2 1.1-9.9 1.1-5.7 1.1 0 1.1 2.8 1.2 6.9 1.1 11.4 1.1 4.4 1.1 1.3 1.1-2.7 1.2-6.4 1.1-12.7 1.1-7 1.1-1.8 1.1 1 1.2 6.2 1.1 12.2 1.1 8.3 1.1 2.1 1.1-3.3 1.2-6.8 1.1-11.8 1.1-9.3 1.1-4.6 1.1-.6 1.2 4.1 1.1 9.3 1.1 10.7 1.1 6.1 1.1 1.5 1.2-2.3 1.1-7.3 1.1-11.3 1.1-7.8 1.1-4.1 1.2 2.6 1.1 7.3 1.1 12.9 1.1 5 1.1 1.6 1.2-2.2 1.1-5 1.1-11.1 1.1-7.5 1.1-3 1.2 2.4 1.1 6.6 1.1 9.7 1.1 10.6 1.1 4.2 1.2-.1 1.1-3.6 1.1-8.5 1.1-12.6 1.1-6.9 1.2-4.8 1.1-1.4 1.1 6.3 1.1 12.1 1.1 6.3 1.2 1.3 1.1-2.8 1.1-4.4 1.1-10.8 1.1-8.8 1.2-4.2 1.1-.9 1.1 3.4 1.1 7.6 1.1 10.9 1.2 4.5 1.1 1.2 1.1-3.8 1.1-7.5 1.1-10.4 1.2-5.7 1.1-2.8 1.1-.5 1.1 3.4 1.1 6.8 1.2 8.6 1.1 4.1 1.1 2.1 1.1-2.2 1.1-7.3 1.2-10.8 1.1-5.7 1.1-3.3 1.1 2.4 1.1 5.8 1.2 10.7 1.1 6.9 1.1 3.4 1.1-1.5 1.1-4.2 1.2-7.1 1.1-7.4 1.1-3.8 1.1-2.5 1.1 .4 1.2 3 1.1 6.1 1.1 5.4 1.1 2.1 1.1 .5 1.2-2.8 1.1-4.7 1.1-5.8 1.1 .5 1.1 2.5 1.2 3.6 1.1 5.1 1.1 5.1 1.1 .7 1.1-1.2 1.2-2.9 1.1-3.7 1.1-3.3 1.1-3 1.1-.1 1.2 2.9 1.1 4.5 1.1 3 1.1 2.9 1.1 2.2 1.2 1.6 1.1 .8 1.1-1.8 1.1-3 1.1-2.1 1.2-.6 1.1 0 1.1-.2 1.1 .7 1.1 2.9 1.2 4 1.1 1.5 1.1-.4 1.1-1 1.1 1.6 1.2 .8 1.1 .9 1.1-.6 1.1 .3 1.1-1.1 1.2-.8 1.1 0 1.1 1.6 1.1-.4 1.1-.1 1.2 1.2 1.1 .6 1.1 1 1.1 1.1 1.1 1.9 1.2 2 1.1 .3 1.1 0 1.1 .1 1.1-.7 1.2 .3 1.1 2 1.1 1.6 1.1-.5 1.1-.6 1.2 .3 1.1-.8 1.1-.9 1.1 .5 1.1 .3 1.2 .2 1.1 .1 1.1 .1 1.1-.8 1.1 .5 1.2 1.5 1.1 0 1.1 1.7 1.1 1.2 1.1 1.9 1.2 .8 1.1 1.7 1.1 0 1.1 .9 1.1-1 1.2-4.4 1.1-4.1 1.1-1.3 1.1 .7 1.1-.7 1.2-1.6 1.1-.8 1.1 .6 1.1 1.2 1.1 1.7 1.2 2.9 1.1 2.8 1.1-.4 1.1 .2 1.1 .7 1.2 2 1.1 0 1.1-1.3 1.1-1 1.1-1 1.2-1.2 1.1-.7 1.1 .4 1.1-1.1 1.1-.5 1.2-.3 1.1 .5 1.1 2.1 1.1 .9 1.1-1.1 1.2-1 1.1 1.6 1.1 1.7 1.1 2 1.1 1.5 1.2 2 1.1-.7 1.1 .2 1.1-2.8 1.1-4.5 1.2-3.9 1.1 1.7 1.1 2 1.1 1 1.1 1.2 1.2 1 1.1 .5 1.1 .3 1.1 1 1.1 .4 1.2 0 1.1-.8 1.1-1.4 1.1-.4 1.1-.4 1.2 .4 1.1-.4 1.1 .4 1.1 1.8 1.1 .1 1.2-2 1.1-1.8 1.1-1.2 1.1 .3 1.1 .6 1.2 .6 1.1 .8 1.1 .8 1.1-.1 1.1-.8 1.2 .9 1.1 .1 1.1-1.6 1.1-2.6 1.1 .3 1.2 2.2 1.1 2.9 1.1 .5 1.1 1.1 1.1 .7 1.2-.6 1.1-.1 1.1-1.7 1.1-1.2 1.1 .6 1.2 .4 1.1 1 1.1-.3 1.1 .2 1.1-.4 1.2-.6 1.1 1.2 1.1 1.8 1.1 0 1.1-1.1 1.2-2.9 1.1-.2 1.1-.9 1.1 .1 1.1 .6 1.2 1.1 1.1 1.1 1.1-.1 1.1 .8 1.1-.2 1.2-.8 1.1-1.5 1.1 0 1.1-.3 1.1 .8 1.2 .4 1.1 .9 1.1 .1 1.1-.6 1.1-1.2 1.2-.3 1.1 1 1.1 .2 1.1 .5 1.1 1 1.2 0 1.1 .1 1.1 .8 1.1-.9 1.1 1.1 1.2-1.6 1.1-.8 1.1-.3 1.1-1.1 1.1-.8 1.2 .8 1.1 .6 1.1-1 1.1-.1 1.1-.1 1.2 .3 1.1 .3 1.1 2.5 1.1 .8 1.1 2.3 1.2-.4 1.1 1.3 1.1-4.1 1.1-2.3 1.1-1.9 1.2 .2 1.1-.1 1.1 .7 1.1 1.3 1.1 .6 1.2 .2 1.1 .4 1.1-.4 1.1-1.3 1.1-.8 1.2-.1 1.1-.1 1.1 1.4 1.1 1.7 1.1-1.1 1.2-1.8 1.1-1 1.1 .6 1.1 .5 1.1 1.9 1.2 3.4 1.1-2.6 1.1-2.6 1.1-.9 1.1 1.6 1.2 1.1 1.1 1.6 1.1 1.3 1.1-.4 1.1-.6 1.2-1.1 1.1-1.7 1.1 0 1.1 .9 1.1 .8 1.2 1.4 1.1 1.4 1.1 2.7 1.1-3.6 1.1-2.9 1.2 .5 1.1 2.4 1.1 .6 1.1-2 1.1-1.6 1.2-1.4 1.1-1.7 1.1-.7 1.1 1.1 1.1 .8 1.2 .4 1.1 1 1.1-1.5 1.1-1.2 1.1-.2 1.2 .5 1.1 .1 1.1 .4 1.1 .8 1.1 .6 1.2-2 1.1-1.8 1.1 .8 1.1 1 1.1-.1 1.2-1.1 1.1-1.1 1.1 4.8 1.1 4.3 1.1 1.2 1.2-.1 1.1-1 1.1-1.9 1.1-1.5 1.1-.2 1.2 1 1.1 .4 1.1 1.7 1.1 1.7 1.1 .8 1.2 .9 1.1-.7 1.1 .2 1.1-1.1 1.1-1.6 1.2-3.3 1.1-1.7 1.1-1.8 1.1-1.5 1.1 1.8 1.2 1.1 1.1 2.3 1.1 .9 1.1 .7 1.1-.8 1.2-.8 1.1-.8 1.1-.4 1.1 1.6 1.1 1.3 1.2-.4 1.1-1.6 1.1-2.5 1.1-.9 1.1-.8 1.2-.3 1.1 1 1.1 .3 1.1 2.2 1.1 2.5 1.2 .4 1.1 .9 1.1 0 1.1-.2 1.1 0 1.2-.3 1.1 .3 1.1 .3 1.1-1.7 1.1-.9 1.2-.9 1.1-.5 1.1-.5 1.1-1 1.1-.2 1.2 2.3 1.1 2.9 1.1-.4 1.1-1.5 1.1 .1 1.2 1.1 1.1 .8 1.1 1.1 1.1 1.4 1.1-.9 1.2-.9 1.1-.2 1.1 .8 1.1 2 1.1 .7 1.2-.2 1.1-.7 1.1-3.1 1.1-4 1.1 .7 1.2 .1 1.1-.7 1.1 .5 1.1 .3 1.1 1.3 1.2 .4 1.1-.8 1.1-2.1 1.1-2.2 1.1-.5 1.2-1.5 1.1 .1 1.1 .7 1.1 .4 1.1 1.5 1.2 3.2 1.1 .9 1.1 1.5 1.1-.4 1.1-1.6 1.2-.6 1.1 .4 1.1 .6 1.1-.8 1.1-.7 1.2-.8 1.1-.7 1.1 .1 1.1-.2 1.1 1.1 1.2-.7 1.1-.9 1.1 .3 1.1 2.4 1.1 2.6 1.2 2.1 1.1 1.8 1.1 .7 1.1-1.5 1.1-.9 1.2-1.4 1.1-.8 1.1-.2 1.1 1.3 1.1 .5 1.2-1.8 1.1-2.1 1.1-1.9 1.1-2.5 1.1 0 1.2 1.9 1.1 2.1 1.1 1.6 1.1 2.2 1.1-1.1 1.2-3 1.1-3.3 1.1-.9 1.1-.7 1.1 1 1.2 .8 1.1 1.2 1.1 2.7 1.1 2.3 1.1 2.4 1.2 1.8 1.1-.3 1.1-1 1.1-2 1.1-1.5 1.2-1.2 1.1-.7 1.1-.5 1.1-.4 1.1-1.6 1.2-1.1 1.1 .2 1.1 1.7 1.1 .6 1.1 .3 1.2 .6 1.1-1.2 1.1-.9 1.1-1.5 1.1-1.4 1.2-.4 1.1 .9 1.1-.1 1.1 .9 1.1 2.1 1.2 1.4 1.1 1.7 1.1 2.6 1.1-.1 1.1-.2 1.2-.4 1.1-1 1.1 .1 1.1-1.6 1.1-1.6 1.2-1.8 1.1-2.2 1.1-.4 1.1 2.9 1.1 2.7 1.2 .7 1.1-1.5 1.1 .3 1.1 1.4 1.1 .4 1.2 0 1.1-.2 1.1-.6 1.1-.6 1.1 .5 1.2 1.7 1.1 1.9 1.1 .9 1.1 .1 1.1 0 1.2-.5 1.1-.4 1.1-2.3 1.1-1.2 1.1-.8 1.2-.2 1.1-.9 1.1-.4 1.1 0 1.1 .2 1.2 1.4 1.1 .7 1.1 .8 1.1 .2 1.1-.8 1.2-.6 1.1-.2 1.1-.5 1.1 .6 1.1 1 1.2 1 1.1-.5 1.1-.7 1.1-.2 1.1 .4 1.2 1.4 1.1-2.1 1.1-3.5 1.1-.2 1.1 1.1 1.2 1.7 1.1 2.3 1.1 1.6 1.1 .6 1.1-1 1.2-1.2 1.1-5.2 1.1-3.9 1.1 .9 1.1 3.2 1.2 2.2 1.1 1 1.1 2 1.1 .5 1.1 .1 1.2-2.5 1.1-2.5 1.1-2.9 1.1-.1 1.1 .4 1.2 1.4 1.1 1.3 1.1 1.9 1.1 1.1 1.1 1.2 1.2-2.8 1.1-2.4 1.1-1.1 1.1-1 1.1 .2 1.2 3.5 1.1 2.5 1.1-.1 1.1 .9 1.1-.5 1.2-.1 1.1-.4 1.1-.3 1.1-.9 1.1-.6 1.2 0 1.1-.3 1.1-.7 1.1-.3 1.1-.1 1.2 .5 1.1 0 1.1-1 1.1-.4 1.1 .8 1.2 1.2 1.1 2 1.1-.6 1.1 1 1.1-1.3 1.2-1.2 1.1 1.1 1.1 1.1 1.1 .3 1.1-2.5 1.2-3.5 1.1-.2 1.1-.3 1.1 .8 1.1 1.6 1.2 1.8 1.1 .1 1.1 1.2 1.1 .4 1.1 .5 1.2 .5 1.1-1.8 1.1-1.6 1.1-.7 1.1-1 1.2 0 1.1-.4 1.1 .2 1.1 .4 1.1 .6 1.2-.5 1.1-.3 1.1 1.4 1.1 1.5 1.1 3.1 1.2-.3 1.1 .2 1.1 0 1.1-.1 1.1 .8 1.2 .4 1.1 .7 1.1-.8 1.1-1 1.1-1.3 1.2 .9 1.1 .2 1.1-.4 1.1-.5 1.1-1 1.2 .5 1.1-.2 1.1-.8 1.1-.3 1.1-1.6 1.2-.5 1.1 .1 1.1 3.4 1.1 2.3 1.1 1.2 1.2-1.3 1.1-.6 1.1-1.7 1.1-1.9 1.1-.1 1.2 .1 1.1 0 1.1-.4 1.1-.6 1.1 .9 1.2 .1 1.1 1.4 1.1 2.8 1.1 2.2 1.1 .8 1.2 .7 1.1 0 1.1 1.4 1.1-.6 1.1-1.3 1.2-1.4 1.1-.7 1.1-1.4 1.1-1.3 1.1-.1 1.2-.9 1.1 .8 1.1 .7 1.1-.7 1.1-.9 1.2-1.4 1.1-1.9 1.1-1.4 1.1 3.1 1.1 2 1.2 .9 1.1-.7 1.1-.4 1.1-1 1.1-2.2 1.2 2.5 1.1 .9 1.1 2.8 1.1 1.1 1.1 2.2 1.2 0 1.1 .3 1.1-.8 1.1-.6 1.1-.9 1.2-2.6 1.1-2.1 1.1-1.2 1.1-.6 1.1 .4 1.2 1.5 1.1 1.6 1.1 .8"/>
<path stroke="#50FFFF" d="M257 973l1.1 .5 1.1 1.4 1.2 .2 1.1 1.8 1.1 0 1.1-1.3 1.1-1.4 1.2 1.2 1.1 .6 1.1 .4 1.1 .1 1.1-.3 1.2-1.9 1.1-1.7 1.1-1.8 1.1-.7 1.1-.3 1.2 1.9 1.1 1.2 1.1 .8 1.1-.1 1.1 .5 1.2 .2 1.1 .1 1.1 .5 1.1-.5 1.1 .9 1.2 1.7 1.1 .9 1.1-.8 1.1-1.4 1.1-1.7 1.2-1.4 1.1-1.9 1.1-1.6 1.1-1.6 1.1 2.2 1.2 .5 1.1-.3 1.1 .1 1.1-.2 1.1 1.1 1.2 2.1 1.1 .1 1.1 .6 1.1-.5 1.1-2.9 1.2-2.2 1.1-1.6 1.1-1.6 1.1-1.1 1.1-.6 1.2 .2 1.1 2.9 1.1 3.3 1.1 2.2 1.1 .5 1.2 1.4 1.1 .1 1.1 .1 1.1 .8 1.1 .2 1.2 .2 1.1-.5 1.1-.1 1.1-3.1 1.1-2.8 1.2-.1 1.1 1 1.1 1 1.1 .1 1.1 1.6 1.2 .4 1.1 1.6 1.1-1.1 1.1-2.1 1.1-2.1 1.2-.2 1.1-.3 1.1 .7 1.1 1.4 1.1 .8 1.2-1.9 1.1-2.2 1.1 1.4 1.1 2.3 1.1 1 1.2 2.7 1.1 1.5 1.1-1 1.1-.6 1.1-.7 1.2-.9 1.1-1.5 1.1-1 1.1-.9 1.1 1.2 1.2 2.3 1.1 2 1.1-.5 1.1-.1 1.1-.7 1.2-1.3 1.1-.3 1.1 1.6 1.1 0 1.1-.6 1.2-1.5 1.1-1.4 1.1-2 1.1-.9 1.1 3 1.2 2.4 1.1-.1 1.1-.5 1.1 0 1.1 .6 1.2 .5 1.1 .6 1.1 .5 1.1-.1 1.1-1.1 1.2-1.8 1.1-2.3 1.1-2.1 1.1 1.3 1.1 2.6 1.2 2 1.1 1.2 1.1 1 1.1-1.7 1.1-2.9 1.2-.2 1.1-.7 1.1 .4 1.1 1.5 1.1 1.6 1.2-1.6 1.1-1 1.1-1.8 1.1-.2 1.1 .3 1.2 0 1.1 .7 1.1 .9 1.1 1.4 1.1 .5 1.2-2 1.1-1.3 1.1-1.2 1.1-.4 1.1 .4 1.2 2.1 1.1 1.6 1.1 1.1 1.1-.4 1.1-.6 1.2-1.3 1.1-2.3 1.1-3.5 1.1-3 1.1-2.2 1.2-1.7 1.1-2.3 1.1-1.3 1.1-1.7 1.1-4.3 1.2-2.9 1.1-3.8 1.1-3.7 1.1-4 1.1-1.6 1.2-.5 1.1-1.4 1.1-1.5 1.1-2.3 1.1-2.6 1.2-2.5 1.1-2.9 1.1-3.3 1.1-2.1 1.1-1.4 1.2-1.2 1.1-2.9 1.1-3 1.1-1.6 1.1-1.6 1.2-1 1.1-1.5 1.1-1.6 1.1-2 1.1-2.3 1.2-2.1 1.1-1.7 1.1-1.1 1.1-1.8 1.1-1.2 1.2-1.6 1.1-.7 1.1-.7 1.1-2 1.1-2.6 1.2-1.1 1.1-.2 1.1 0 1.1-.3 1.1-.2 1.2-1.3 1.1-.9 1.1-1 1.1 0 1.1-1.2 1.2-.2 1.1-2.1 1.1-1.1 1.1-1.4 1.1-1.9 1.2-1.4 1.1-.8 1.1-1 1.1-.3 1.1-.1 1.2-.8 1.1-.2 1.1 .8 1.1 .3 1.1 .7 1.2 .8 1.1 .5 1.1-1.5 1.1-.1 1.1 .6 1.2 .6 1.1 1.5 1.1 3.1 1.1 3 1.1 1.9 1.2 3 1.1 2.8 1.1 3.5 1.1 2.8 1.1 3.7 1.2 3.4 1.1 4.4 1.1 5.8 1.1 4.8 1.1 5.2 1.2 4.4 1.1 2.3 1.1 2 1.1 1.6 1.1 2.6 1.2 .5 1.1 0 1.1-.7 1.1-4.6 1.1-4.5 1.2-4.3 1.1-3.4 1.1-3.7 1.1-2 1.1-3 1.2-1.8 1.1 .7 1.1-4.2 1.1 2.4 1.1-1.4 1.2 2.4 1.1-8 1.1 4 1.1-5.4 1.1 6.9 1.2-10.4 1.1 11.1 1.1-12.6 1.1 10.5 1.1-13 1.2 14.7 1.1-11.8 1.1 11.8 1.1-14.4 1.1 15.4 1.2-12.9 1.1 12.1 1.1-11.1 1.1 12.3 1.1-7 1.2 8.4 1.1-17.1 1.1 12.1 1.1-10.6 1.1 9.1 1.2-13.8 1.1 19.2 1.1-13.6 1.1 10.9 1.1-14.7 1.2 20.8 1.1-16 1.1 14 1.1-8.2 1.1 14.2 1.2-18.6 1.1 15 1.1-14.8 1.1 19.5 1.1-17.4 1.2 13.8 1.1-15.1 1.1 22.9 1.1-17.2 1.1 13.2 1.2-17.5 1.1 17.3 1.1-12.1 1.1 14 1.1-11.4 1.2 19.5 1.1-20.5 1.1 14.1 1.1-13.1 1.1 18.6 1.2-18.8 1.1 17.3 1.1-11.6 1.1 21.3 1.1-23.8 1.2 25.2 1.1-17.9 1.1 18.8 1.1-19.8 1.1 15.2 1.2-10.8 1.1 11.8 1.1-13.6 1.1 13.6 1.1-11.4 1.2 16.7 1.1-22.4 1.1 22.7 1.1-15 1.1 17.9 1.2-21.1 1.1 11.6 1.1-3.8 1.1 11.6 1.1-17.2 1.2 20 1.1-7.6 1.1 15 1.1-15.4 1.1 18.3 1.2-13.5 1.1 13.7 1.1-18.8 1.1 14.5 1.1-10.9 1.2 9.6 1.1-14.8 1.1 17.9 1.1-10.1 1.1 14.1 1.2-15.8 1.1 21.4 1.1-11.8 1.1 13.5 1.1-10.8 1.2 9.5 1.1-10.6 1.1 9.4 1.1-9.1 1.1 11.9 1.2-8.6 1.1 5.8 1.1-6.9 1.1 8.1 1.1-6.5 1.2 5.2 1.1-4.4 1.1 6.6 1.1-1.8 1.1 3.3 1.2-1.2 1.1 3.8 1.1-.3 1.1 1.5 1.1 .2 1.2 .8 1.1 .6 1.1 .5 1.1 2.4 1.1 1.7 1.2 1.6 1.1-.6 1.1-.9 1.1 .3 1.1-.3 1.2-.6 1.1-2 1.1-1.1 1.1-.1 1.1 .2 1.2 .3 1.1 .9 1.1 .4 1.1 2.3 1.1 1.9 1.2 .6 1.1 .9 1.1 0 1.1 1.2 1.1 .7 1.2 .5 1.1 0 1.1-.9 1.1-2.3 1.1-1.5 1.2-.6 1.1-.1 1.1 0 1.1-.5 1.1 1 1.2 2.6 1.1 3.5 1.1 1 1.1 .6 1.1 1.4 1.2 .3 1.1 1.5 1.1-.1 1.1 .7 1.1-.1 1.2 .4 1.1-.6 1.1-2.8 1.1-2.2 1.1 1.4 1.2 .7 1.1-1.3 1.1-1.1 1.1-1.7 1.1 2.1 1.2 1.2 1.1-.6 1.1-.9 1.1-2 1.1-2.7 1.2-3.9 1.1 .1 1.1 .5 1.1 1.2 1.1 .4 1.2 .7 1.1 1.2 1.1 .4 1.1-1 1.1-1 1.2 .2 1.1 2.3 1.1 2.7 1.1 .1 1.1 .8 1.2-.3 1.1-2.5 1.1-2.5 1.1 1.3 1.1 1.2 1.2 1.1 1.1 1.6 1.1 .2 1.1 .1 1.1-.5 1.2-2.8 1.1-2.8 1.1-1.7 1.1-1.2 1.1-1 1.2 2.3 1.1 4 1.1 3.3 1.1 3.1 1.1 1.4 1.2-.9 1.1-1 1.1 0 1.1-.9 1.1 .9 1.2 1.3 1.1 2.5 1.1 .7 1.1-.5 1.1-.9 1.2-1.7 1.1-.8 1.1-.1 1.1 .5 1.1-.8 1.2-1.3 1.1-1.2 1.1-.6 1.1-1.6 1.1-3.5 1.2-3.9 1.1-.5 1.1 4.4 1.1 3.9 1.1-.9 1.2-.2 1.1-.2 1.1-1.6 1.1-.3 1.1 1.1 1.2 1.4 1.1-1.4 1.1 .6 1.1 .2 1.1 2.7 1.2 2 1.1-1.1 1.1-1.2 1.1 .2 1.1-.1 1.2 0 1.1-1 1.1-1.4 1.1-1.3 1.1-.6 1.2-1.5 1.1-.2 1.1-.1 1.1 1.9 1.1 2.2 1.2 .1 1.1-1.4 1.1-.3 1.1-.1 1.1 .2 1.2-.3 1.1 .1 1.1 .7 1.1 0 1.1 .7 1.2 .3 1.1 .4 1.1-.8 1.1-1.8 1.1-1.4 1.2 .3 1.1-.9 1.1-.1 1.1-.8 1.1 .2 1.2 2.7 1.1 1.8 1.1-1 1.1-.9 1.1-1 1.2-.5 1.1 0 1.1 1.9 1.1 2.1 1.1-.6 1.2-1 1.1-2.3 1.1-2.4 1.1-3 1.1 .3 1.2 1.8 1.1-.2 1.1 .9 1.1-.1 1.1-1.6 1.2-2.5 1.1 .4 1.1 2.8 1.1 1.4 1.1 .3 1.2 .5 1.1 1.4 1.1 1.4 1.1 1.2 1.1-.4 1.2-1.7 1.1-4.5 1.1-2.9 1.1 .3 1.1 4.5 1.2 5 1.1-.4 1.1-2.5 1.1-3.1 1.1-2.2 1.2 .7 1.1 3.6 1.1 7.6 1.1 4.7 1.1 2 1.2-3.2 1.1-9.3 1.1-6.8 1.1-.2 1.1 4.8 1.2 5.9 1.1 3.7 1.1 .3 1.1 .9 1.1-4.6 1.2-8.1 1.1-4.7 1.1 1.2 1.1 9 1.1 6.3 1.2-.4 1.1-4.2 1.1-11 1.1-7.5 1.1-1.8 1.2 7.3 1.1 15 1.1 6.4 1.1 .5 1.1-4.9 1.2-11.6 1.1-9 1.1-2.9 1.1 2.5 1.1 10.9 1.2 10.7 1.1 4 1.1-3.4 1.1-10.2 1.1-10.2 1.2-2.9 1.1 2.5 1.1 6.9 1.1 13.3 1.1 3.5 1.2-2.2 1.1-9.6 1.1-16.8 1.1-7.3 1.1 2.4 1.2 8.5 1.1 16.7 1.1 9.5 1.1 .7 1.1-9.8 1.2-19 1.1-12.9 1.1-5.5 1.1 4.1 1.1 17 1.2 13.1 1.1 6.5 1.1-1.5 1.1-11.6 1.1-17.3 1.2-6.9 1.1 2.2 1.1 10.4 1.1 19.4 1.1 11.2 1.2 .4 1.1-8.7 1.1-19.4 1.1-12 1.1-3 1.2 6.1 1.1 14.5 1.1 16.7 1.1 5.5 1.1-3 1.2-10.5 1.1-18.7 1.1-8.5 1.1-.6 1.1 7.9 1.2 18.9 1.1 11.5 1.1 1.8 1.1-7.5 1.1-16.5 1.2-20.7 1.1-7.9 1.1 3.2 1.1 13.9 1.1 22 1.2 10.5 1.1 2.5 1.1-6.7 1.1-17.3 1.1-13.6 1.2-5.8 1.1 3.2 1.1 9.2 1.1 16.9 1.1 9.6 1.2 3.4 1.1-5.7 1.1-19.9 1.1-12.7 1.1-5.6 1.2 3.3 1.1 10.5 1.1 15.3 1.1 6.1 1.1 2.7 1.2-3.4 1.1-15.5 1.1-10.1 1.1-2.2 1.1 3.6 1.2 11.6 1.1 16.3 1.1 5.7 1.1-.1 1.1-6.3 1.2-14.8 1.1-11.5 1.1-5.1 1.1 1.6 1.1 6.6 1.2 12.9 1.1 5 1.1 .3 1.1-6 1.1-13.8 1.2-9.5 1.1 .1 1.1 5.7 1.1 7.3 1.1 13.9 1.2 6.9 1.1 .9 1.1-3.1 1.1-4.2 1.1-7.7 1.2-5.7 1.1-2.9 1.1 3.1 1.1 12.1 1.1 9.2 1.2 2.2 1.1-2.8 1.1-6.1 1.1-12.3 1.1-6.4 1.2 1.5 1.1 3.6 1.1 5 1.1 6.1 1.1 3.1 1.2-.8 1.1-2.8 1.1-1.6 1.1-1.9 1.1-.1 1.2-1.7 1.1 0 1.1 2.5 1.1 2.7 1.1 2.8 1.2 2.6 1.1 2.1 1.1-2.1 1.1-1.8 1.1-.9 1.2-1.7 1.1-.2 1.1 .6 1.1 1.1 1.1-1.4 1.2-.7 1.1-1.9 1.1-2.9 1.1-2.4 1.1-.9 1.2 0 1.1 1.3 1.1 .2 1.1 .3 1.1 2.9 1.2-1.3 1.1-6.9 1.1-5.2 1.1-1.8 1.1 1.7 1.2 4.7 1.1 8.6 1.1 5.8 1.1 1.6 1.1-1.5 1.2-5.4 1.1-8.2 1.1-4.7 1.1-5.4 1.1-2.8 1.2 3.6 1.1 10.1 1.1 4 1.1 5.9 1.1 1.3 1.2-6.1 1.1-13.5 1.1-7.8 1.1-3.5 1.1 .9 1.2 8.8 1.1 12.8 1.1 8.3 1.1 4.8 1.1-.6 1.2-8.5 1.1-15.8 1.1-7.9 1.1-3.4 1.1 1.4 1.2 9.1 1.1 15.1 1.1 9.9 1.1 3.5 1.1-2.3 1.2-12.1 1.1-16.5 1.1-5.1 1.1-.8 1.1 4.5 1.2 8.9 1.1 15.2 1.1 5.8 1.1 .8 1.1-2.7 1.2-6.7 1.1-14.2 1.1-7 1.1-2 1.1 3.2 1.2 8.2 1.1 14.3 1.1 4.3 1.1 .1 1.1-1.9 1.2-7.4 1.1-17.2 1.1-11.1 1.1-4.8 1.1 1.4 1.2 6.4 1.1 14.6 1.1 11.5 1.1 4.4 1.1-.7 1.2-6 1.1-11.8 1.1-10.8 1.1-5.3 1.1-2.5 1.2 2.3 1.1 6.8 1.1 9.4 1.1 5.9 1.1 2.5 1.2-3.6 1.1-9.8 1.1-14.5 1.1-4.5 1.1 .2 1.2 3.9 1.1 7.4 1.1 12.3 1.1 5.1 1.1-.6 1.2-1.4 1.1-4.9 1.1-12.7 1.1-11.6 1.1-7.7 1.2-.3 1.1 2.4 1.1 10.8 1.1 12.1 1.1 7.3 1.2-3 1.1-5.3 1.1-8.3 1.1-11.7 1.1-5.4 1.2-.6 1.1 3.8 1.1 5.4 1.1 8.4 1.1 3.5 1.2 .3 1.1-3.3 1.1-5.9 1.1-9.8 1.1-8.8 1.2-6.1 1.1-2.2 1.1 1.7 1.1 4.1 1.1 8.8 1.2 5 1.1 1.4 1.1-3.3 1.1-6.3 1.1-8.2 1.2-5.5 1.1-3.1 1.1-1.4 1.1 2.6 1.1 7.4 1.2 8 1.1 2.1 1.1-1 1.1-2.6 1.1-3.4 1.2-6.4 1.1-5.1 1.1-1.8 1.1-1.1 1.1 2.3 1.2 5.1 1.1 5.7 1.1 3.7 1.1 .1 1.1-2.5 1.2-4.5 1.1-7.4 1.1-3.7 1.1-1.2 1.1 .8 1.2 2.7 1.1 4.6 1.1 4.3 1.1 2.9 1.1 1.5 1.2-2.1 1.1-3.7 1.1-5.3 1.1-2.6 1.1 .6 1.2 2.6 1.1 4 1.1 6.4 1.1 6.7 1.1 2.7 1.2 1.6 1.1-.8 1.1-3.3 1.1-5.8 1.1-4.1 1.2 .9 1.1 2.6 1.1 1.1 1.1 2.6 1.1 2 1.2 4.8 1.1 2.8 1.1 2.5 1.1 .9 1.1-1.1 1.2-2.4 1.1-2.2 1.1-2.6 1.1-2.5 1.1 0 1.2 .9 1.1 1.1 1.1 0 1.1 1.8 1.1 1.9 1.2 3 1.1-.3 1.1-3.1 1.1-3.4 1.1-1.9 1.2-2 1.1-.3 1.1 0 1.1 .6 1.1-.9 1.2-.2 1.1 .8 1.1 .1 1.1 1.4 1.1 1.6 1.2 1.1 1.1 2.6 1.1 2.5 1.1 .7 1.1 1.2 1.2 .3 1.1 .9 1.1-.5 1.1-.1 1.1-1.6 1.2 .9 1.1 3.3 1.1 2.7 1.1 .3 1.1 .5 1.2 .4 1.1 .8 1.1 .8 1.1-1.1 1.1-.1 1.2-.5 1.1 1.4 1.1 .3 1.1 .9 1.1 .1 1.2-.6 1.1-.5 1.1 .1 1.1 .3 1.1 1.7 1.2 3.7 1.1 4.1 1.1 2.9 1.1 2.1 1.1 1.7 1.2 1.5 1.1-.1 1.1 .7 1.1 1.1 1.1 .9 1.2 1.3 1.1 .4 1.1-1.4 1.1-1.6 1.1-1.3 1.2-.7 1.1-.6 1.1-.4 1.1 .5 1.1 1.3 1.2 1.1 1.1 1.9 1.1 1.4 1.1 .1 1.1-2 1.2-1.8 1.1-1 1.1 .6 1.1 .4 1.1 3.7 1.2 3.5 1.1-.5 1.1 0 1.1-.1 1.1-1.8 1.2-1.3 1.1-1.6 1.1-2.9 1.1-1.4 1.1 .2 1.2-.6 1.1 1.4 1.1 1.3 1.1 1.4 1.1 3.1 1.2 .8 1.1-.6 1.1-.3 1.1-3.7 1.1-5.1 1.2 .1 1.1 3.4 1.1 4.4 1.1 .8 1.1 2.4 1.2-1.8 1.1-2.4 1.1-1.8 1.1-1.9 1.1-1.7 1.2 3.7 1.1 2.9 1.1 3.2 1.1-.9 1.1-.2 1.2-2 1.1-1.9 1.1-.8 1.1-2.4 1.1-1.1 1.2 1 1.1-.4 1.1 3.5 1.1 3.8 1.1 2.7 1.2-.4 1.1 1.4 1.1-.3 1.1 .1 1.1-3.5 1.2-4.7 1.1-2.7 1.1 2.2 1.1 2.3 1.1 2.9 1.2 2.8 1.1 .8 1.1-2.6 1.1-2.4 1.1 1 1.2 1.5 1.1 .8 1.1 1.5 1.1 .2 1.1 1.7 1.2 1.1 1.1-1.6 1.1-1.9 1.1-3.5 1.1-1.4 1.2-1.7 1.1 .6 1.1 1.5 1.1 2 1.1 1.2 1.2 .4 1.1 .9 1.1 0 1.1 .5 1.1 .4 1.2 .4 1.1-1.7 1.1-1 1.1 .7 1.1 2 1.2 1.7 1.1 2 1.1 1.7 1.1-1.7 1.1-.7 1.2 .4 1.1 2 1.1 1.4 1.1 .8 1.1 0 1.2-1.1 1.1-1.6 1.1-.2 1.1-.4 1.1 .3 1.2 1.6 1.1 .3 1.1 1.8 1.1 2.2 1.1 2.3 1.2-.5 1.1 .2 1.1-2.4 1.1-2.4 1.1-1.1 1.2 .6 1.1 .3 1.1-.7 1.1-1.9 1.1 .5 1.2 2.3 1.1 1.9 1.1-4.2 1.1-4.6 1.1 .8 1.2 3.5 1.1 2.2 1.1 .7 1.1 0 1.1-.8 1.2-.5 1.1-2.2 1.1-1.1 1.1-2 1.1-.9 1.2-.1 1.1 .3 1.1 1.9 1.1 1.8 1.1 2.5 1.2 2.2 1.1 .6 1.1-.9 1.1 .5 1.1 1.4 1.2 1.4 1.1 .4 1.1-.7 1.1-1 1.1-1.1 1.2-.3 1.1 1 1.1 .6 1.1-.5 1.1-.2 1.2-1.3 1.1-2.2 1.1-1.3 1.1 1.9 1.1 1.8 1.2 .6 1.1-.6 1.1-.1 1.1-.3 1.1 1.5 1.2-1.4 1.1-1.2 1.1-1.8 1.1-1.2 1.1-1.2 1.2 .7 1.1 .1 1.1 .9 1.1 2.2 1.1 2.1 1.2 .5 1.1 .2 1.1-.1 1.1-.1 1.1-.7 1.2-1.7 1.1-1.2 1.1 1.3 1.1 2.2 1.1-.5 1.2-2 1.1-1.8 1.1-.9 1.1 .1 1.1-.2 1.2 1.1 1.1 .8 1.1 1.1 1.1 .6 1.1-.5 1.2-1 1.1 .2 1.1-1.2 1.1-.8 1.1-.3 1.2-1 1.1-1.7 1.1-1.4 1.1 .1 1.1 3.1 1.2 2.9 1.1 .3 1.1-.6 1.1 .7 1.1 .2 1.2 1.7 1.1-1.2 1.1-.6 1.1-2.2 1.1-2.7 1.2-2.5 1.1 2.6 1.1 1.8 1.1 1.1 1.1 3.2 1.2 .8 1.1 .4 1.1-.3 1.1-3 1.1-2.6 1.2-.9 1.1 3.2 1.1 2.1 1.1 1.1 1.1 2.1 1.2 1.5 1.1 1.2 1.1-.3 1.1 .3 1.1 0 1.2-3.1 1.1-3.1 1.1-1 1.1 .1 1.1 .4 1.2-1.7 1.1-.7 1.1-.6 1.1 0 1.1 .3 1.2 3 1.1 3.5 1.1-1 1.1-1.3 1.1-.8 1.2-.3 1.1-1 1.1 1.1 1.1-.4 1.1 .6 1.2 .7 1.1 .8 1.1-.5 1.1-.3 1.1-1.3 1.2-1.7 1.1-.9 1.1-1.1 1.1-2.5 1.1-.4 1.2-1.5 1.1-.4 1.1-.2 1.1 .2 1.1 3.1 1.2 2.5 1.1 1.3 1.1 1.1 1.1 0 1.1-.5 1.2-.8 1.1 2.6 1.1 2.1 1.1 2.4 1.1 .5 1.2 1.8 1.1-2.9 1.1-2.3 1.1-1.1 1.1-1.8 1.2-1.5 1.1 1.2 1.1-.2 1.1-.3 1.1-.4 1.2 1.1 1.1 .4 1.1 .1 1.1-1.4 1.1-.7 1.2-2.1 1.1-3.4 1.1-1.7 1.1 2.7 1.1 2.1 1.2 2.4 1.1 1.9 1.1 .9 1.1 .4 1.1-.2 1.2 1.3 1.1 .5 1.1 .3 1.1 .3 1.1-.5 1.2-4 1.1-3.3 1.1-.7 1.1-.4 1.1 .6 1.2 .7 1.1 .8 1.1-1.3 1.1-1 1.1 2 1.2 4.5 1.1 3.3 1.1-.3 1.1-1.2 1.1-4.2 1.2-5.2 1.1-2.2 1.1 4 1.1 4.8 1.1 .6 1.2-.2 1.1-.3 1.1-1.3 1.1-1.8 1.1 .9 1.2 .1 1.1 .2 1.1 .6 1.1 1.1 1.1 2.1 1.2 1.7 1.1-1.5 1.1-3.3 1.1-2.3 1.1-2.2 1.2-1.7 1.1 0 1.1 .2 1.1 1.9 1.1 4.6 1.2 2.5 1.1-1.7 1.1-.9 1.1-1 1.1-.3 1.2-.1 1.1 .7 1.1 1.4 1.1-.2 1.1 .3 1.2-.1 1.1-.6 1.1-1.8 1.1 0 1.1-1.2 1.2 .9 1.1-1.9 1.1-.8 1.1 .6 1.1 .5 1.2 3.3 1.1 2.5 1.1 1.8 1.1 1.3 1.1 .3 1.2-1.8 1.1-2.2 1.1-2.2 1.1-2.1 1.1-1.4 1.2-1.6 1.1-2 1.1-.3 1.1-.9 1.1 .4 1.2 3.1 1.1 1.5 1.1 1.5 1.1 1.1 1.1-.1 1.2-2.2 1.1-1.8 1.1 1.5 1.1 1.3 1.1 0 1.2-.2 1.1 0 1.1-.3 1.1 .9 1.1-.3 1.2-1.2 1.1-.2 1.1-.9 1.1-1 1.1-.4 1.2-1 1.1 1.6 1.1 2.5 1.1 .1 1.1-1.2 1.2-2 1.1 1 1.1 .6 1.1 2.3 1.1 2.3 1.2 1.8 1.1-2 1.1-2.6 1.1-1.1 1.1 .7 1.2-.6 1.1 .8 1.1-.2 1.1 0 1.1 .2 1.2-.9 1.1-1.6 1.1-.9 1.1 3 1.1 3.5 1.2 1.1 1.1 .5 1.1 0 1.1-1.5 1.1-1.3 1.2-1.7 1.1-.7 1.1 0 1.1 2.7 1.1 2.6 1.2-.4 1.1-.4 1.1-2.9 1.1-2.4 1.1-1.7 1.2 1.5 1.1 .4 1.1-.2 1.1-.8 1.1-.5 1.2-.2 1.1 .1 1.1 .2 1.1-.7 1.1 .5 1.2 .8 1.1 .7 1.1-1.3 1.1-2 1.1 .8 1.2 .6 1.1 1.2 1.1-.5 1.1 .4 1.1 0 1.2 .6 1.1-.1 1.1 .4 1.1 .6 1.1 3 1.2 1.4 1.1 .4 1.1-.1 1.1-1.2 1.1-1.7 1.2-1.1 1.1-2.5 1.1-3.1 1.1-.6 1.1 1.7 1.2 2.9 1.1-2.3 1.1-1.2 1.1 .9 1.1 4 1.2 2.5 1.1-2.4 1.1-2.3 1.1-.5 1.1 .3 1.2 .3 1.1 1.7 1.1 1.8 1.1-1.2 1.1-.8 1.2-.1 1.1-.6 1.1-.6 1.1-.8 1.1-.4 1.2 2.8 1.1 3 1.1 1.7 1.1-3.7 1.1-2.4 1.2 1 1.1 1.1 1.1 .9 1.1 2.3 1.1 .6 1.2-3.6 1.1-4.8 1.1-.9 1.1 0 1.1 0 1.2 1.4 1.1 .3 1.1 .7 1.1 .7 1.1 .9 1.2-1 1.1-1 1.1 0 1.1 1.4 1.1 2.2 1.2 .9 1.1 .4 1.1-1.6 1.1-2.3 1.1 .3 1.2 1.1 1.1 1.4 1.1 2.1 1.1 2.6 1.1-4.7 1.2-3.1 1.1-2.7 1.1-.4 1.1-.8 1.1-.5 1.2-.5 1.1 .4 1.1 2 1.1-.3 1.1 .7 1.2-.9 1.1 .9 1.1 1.6 1.1-.8 1.1-.9 1.2-1.1 1.1-.6 1.1-1.2 1.1 1.9 1.1 1.3 1.2 2 1.1 2.7 1.1 1.9 1.1 .6 1.1-1.6 1.2-.1 1.1-1.5 1.1-1.2 1.1-.2 1.1-1.4 1.2 0 1.1 0 1.1-.3 1.1-1.1 1.1-2.3 1.2 1.2 1.1 1.1 1.1-.2 1.1-.4 1.1-.1 1.2 1 1.1 1.1 1.1 2.2 1.1 2 1.1 1.5 1.2-2.2 1.1-3.2 1.1-.4"/>
<path stroke="#42D2FF" d="M257 1047.5l1.1-1.1 1.1 .3 1.2 .7 1.1 2.2 1.1 1.3 1.1 .5 1.1 .1 1.2-3 1.1-4 1.1-2.1 1.1 0 1.1-.9 1.2 4.1 1.1 2.3 1.1-.2 1.1-1 1.1-1.2 1.2-.1 1.1-.7 1.1 4 1.1 3.9 1.1 1 1.2-1.4 1.1-1.8 1.1-.3 1.1-.8 1.1-.3 1.2 0 1.1 1 1.1-.9 1.1-.7 1.1-1.3 1.2-1.9 1.1 .3 1.1 3.2 1.1 3 1.1 .7 1.2 .8 1.1-.6 1.1-1.2 1.1-1.9 1.1-1.2 1.2-.4 1.1-.7 1.1-.6 1.1-1.2 1.1-.4 1.2-1.1 1.1 2 1.1 2.3 1.1 .9 1.1-.8 1.2-.8 1.1 1 1.1 .5 1.1 .2 1.1-2.6 1.2 .7 1.1 3.5 1.1 2.9 1.1 1.9 1.1 1.6 1.2 .1 1.1-2.8 1.1-1.9 1.1-2 1.1-2 1.2-2.2 1.1-1.9 1.1-1.3 1.1 .9 1.1 .1 1.2 1.1 1.1-.3 1.1-1.2 1.1-2.8 1.1-2.3 1.2 4.5 1.1 2.7 1.1 2.3 1.1 1.4 1.1 .9 1.2 .2 1.1-1 1.1-1.4 1.1-.4 1.1-.8 1.2-.8 1.1-.4 1.1 1 1.1 .6 1.1 .8 1.2-1 1.1-1.8 1.1-.6 1.1-.6 1.1-.8 1.2-.2 1.1-.1 1.1 .8 1.1 2.6 1.1 1.8 1.2 1.6 1.1-.8 1.1-2.5 1.1-1.3 1.1 .2 1.2 .5 1.1 .6 1.1 .2 1.1 .4 1.1-.3 1.2-.4 1.1 2 1.1 1.4 1.1 .4 1.1-1.9 1.2-1.6 1.1-.2 1.1-.7 1.1 1.4 1.1 3.3 1.2 .3 1.1-2.5 1.1-2.3 1.1 .1 1.1-.3 1.2 1.5 1.1 .4 1.1 .6 1.1 1.8 1.1 1 1.2 .8 1.1 .1 1.1-.2 1.1-1.6 1.1-2.5 1.2 1.1 1.1 .5 1.1 1 1.1-2.7 1.1-1.8 1.2-.9 1.1-1 1.1-.1 1.1-.4 1.1 0 1.2-.1 1.1 0 1.1 1.3 1.1 1.1 1.1 1.6 1.2 1.5 1.1 1.7 1.1 0 1.1-.4 1.1-.1 1.2-.5 1.1 .1 1.1-1.8 1.1-.6 1.1-.7 1.2-1 1.1-1.1 1.1-2.5 1.1-2.4 1.1-.4 1.2-1.1 1.1-.6 1.1-1.2 1.1-1.6 1.1-1.9 1.2-2.9 1.1-1.4 1.1-1.4 1.1-2 1.1-.8 1.2-1 1.1-.5 1.1-1.4 1.1-1.5 1.1-2.5 1.2-2.7 1.1-2.7 1.1-2.7 1.1-2.7 1.1-3.3 1.2-1.9 1.1-2.1 1.1-.6 1.1-2.9 1.1-2.5 1.2-2.9 1.1-1.3 1.1-1.5 1.1-.8 1.1-1.9 1.2-1.1 1.1-1.7 1.1-.7 1.1 .6 1.1-.5 1.2-1.7 1.1-1.6 1.1-1.1 1.1-1.4 1.1-1 1.2-1.1 1.1-1.2 1.1-1.3 1.1-.3 1.1 0 1.2-1.1 1.1-.9 1.1-.1 1.1 .8 1.1 .3 1.2-.2 1.1-.1 1.1-1.1 1.1-.5 1.1 1.1 1.2 0 1.1 1.3 1.1-.6 1.1 .2 1.1-.9 1.2-.1 1.1 .9 1.1 .6 1.1 .6 1.1 1.8 1.2 1.4 1.1 1.5 1.1 1.4 1.1 1 1.1 3.2 1.2 2.2 1.1 3.7 1.1 2.8 1.1 3.2 1.1 3.6 1.2 3.4 1.1 3.5 1.1 3.8 1.1 3.2 1.1 1.7 1.2 1.6 1.1 2.7 1.1 2.4 1.1 1.3 1.1 .6 1.2-.2 1.1-2 1.1-2.4 1.1-3.4 1.1-5.7 1.2-2.7 1.1-3.8 1.1 1.2 1.1-4.8 1.1 6.2 1.2-6.8 1.1 5.9 1.1-10.8 1.1 8.3 1.1-12.2 1.2 11.6 1.1-20 1.1 10.7 1.1-6.9 1.1 11.3 1.2-15.5 1.1 14.6 1.1-9 1.1 9.1 1.1-11.4 1.2 11.1 1.1-7.1 1.1 12.3 1.1-16.5 1.1 14.6 1.2-13 1.1 9.5 1.1-10.1 1.1 15.7 1.1-13.1 1.2 11.6 1.1-16.8 1.1 18.5 1.1-8.5 1.1 3 1.2-10.4 1.1 13.8 1.1-14 1.1 14 1.1-17.9 1.2 19.9 1.1-13.5 1.1 10.2 1.1-13.9 1.1 18.8 1.2-15.5 1.1 11.6 1.1-11.7 1.1 18.2 1.1-19.9 1.2 16.5 1.1-11.9 1.1 13 1.1-11.9 1.1 11.7 1.2-13.2 1.1 22.6 1.1-22.4 1.1 12.8 1.1-6.4 1.2 18.3 1.1-17.4 1.1 17.6 1.1-10.7 1.1 9.9 1.2-13 1.1 13.7 1.1-4.3 1.1 9.1 1.1-14.5 1.2 11 1.1-10.8 1.1 14.7 1.1-12.7 1.1 18.5 1.2-14.5 1.1 16.2 1.1-18.3 1.1 13 1.1-7.3 1.2 12.9 1.1-16.5 1.1 9.3 1.1-5 1.1 11.4 1.2-9.7 1.1 14.1 1.1-7.3 1.1 6.6 1.1-8.5 1.2 9.4 1.1-6.8 1.1 10.4 1.1-11.2 1.1 10.3 1.2-7.3 1.1 8.5 1.1-11.3 1.1 8.4 1.1-5.3 1.2 6 1.1-6.4 1.1 9.5 1.1-5.3 1.1 6.2 1.2-8 1.1 10.2 1.1-5.4 1.1 5.3 1.1-2.7 1.2 4 1.1-2.7 1.1 3.4 1.1-2.8 1.1 4.2 1.2-1.4 1.1 1.4 1.1-2.8 1.1 1.8 1.1 .5 1.2 1.8 1.1 .2 1.1-.3 1.1 .4 1.1-.7 1.2-.6 1.1 .7 1.1 .6 1.1 1 1.1 1.5 1.2 1.4 1.1 0 1.1-.7 1.1-.7 1.1-.6 1.2-.3 1.1-2 1.1-.9 1.1 1.1 1.1 1.5 1.2 .7 1.1 1.2 1.1 1.1 1.1-1.2 1.1-.1 1.2-.2 1.1-.9 1.1 .2 1.1-.3 1.1 .9 1.2-.7 1.1-.5 1.1 .4 1.1 2 1.1 .1 1.2 .2 1.1 .6 1.1 1.4 1.1 1.9 1.1 1.9 1.2 .7 1.1 .1 1.1 .5 1.1 .8 1.1 .1 1.2-.5 1.1 .2 1.1-1.9 1.1-1.4 1.1-1.1 1.2 .8 1.1-.1 1.1 .5 1.1 .2 1.1 .5 1.2 1 1.1-.1 1.1-2.8 1.1-1.5 1.1-1.9 1.2-2 1.1 1 1.1 3.2 1.1 2.4 1.1 0 1.2-.9 1.1-.9 1.1-1.5 1.1-1.1 1.1-2.2 1.2-1.5 1.1 1.3 1.1 1.7 1.1 .4 1.1-.6 1.2 .7 1.1 2.1 1.1 2 1.1-.2 1.1-1.5 1.2-1 1.1 .3 1.1-.8 1.1 3.1 1.1 2.8 1.2 1.5 1.1 1.3 1.1 .9 1.1-2.2 1.1-1.9 1.2-1.3 1.1 1 1.1 .3 1.1 .5 1.1 .5 1.2-1 1.1-.6 1.1-.9 1.1 .5 1.1-.4 1.2-1.2 1.1-1 1.1-.6 1.1-.5 1.1 1.1 1.2 .8 1.1 1 1.1-2.1 1.1-2.4 1.1-3.9 1.2-1.4 1.1-2.4 1.1 1.7 1.1 2.4 1.1 1.8 1.2 2 1.1 2.3 1.1 .1 1.1 1.2 1.1 .3 1.2 2 1.1 1 1.1 2.6 1.1 1.3 1.1 1.7 1.2 2 1.1-1.3 1.1-4.2 1.1-3.4 1.1 .4 1.2 .6 1.1 0 1.1-.9 1.1-1.1 1.1 .5 1.2 .3 1.1 1.6 1.1 1.2 1.1 1.1 1.1-.5 1.2-.8 1.1-.2 1.1-2.1 1.1 .2 1.1 2.2 1.2 .1 1.1-1.4 1.1-1.7 1.1-1.6 1.1-1.3 1.2-.5 1.1 1.4 1.1 .6 1.1 .1 1.1-.1 1.2 .9 1.1 .9 1.1 .9 1.1-1.3 1.1-2.4 1.2-1.1 1.1-.8 1.1-.3 1.1 .7 1.1 1.4 1.2 2 1.1 2.8 1.1-1 1.1-3.1 1.1-2.8 1.2 .4 1.1 0 1.1 1.7 1.1 1.9 1.1 1.5 1.2-.5 1.1-.3 1.1-2.6 1.1-2.8 1.1 .1 1.2 3.6 1.1 1.3 1.1 .4 1.1-.7 1.1-2.6 1.2-3.9 1.1-2.3 1.1 1.8 1.1 2.2 1.1 .4 1.2-1.4 1.1 0 1.1-.1 1.1 1.1 1.1-.8 1.2-.1 1.1 1.1 1.1 .4 1.1-.9 1.1-2 1.2-.9 1.1 1.4 1.1 2.8 1.1 1.6 1.1-.8 1.2-2.4 1.1-.9 1.1 1.7 1.1 .9 1.1 1.7 1.2 2.8 1.1 .7 1.1-1.7 1.1-5.9 1.1-7.8 1.2-2.6 1.1 2.5 1.1 7.6 1.1 6.8 1.1 2.8 1.2-3.1 1.1-12.7 1.1-10 1.1 1.6 1.1 4.3 1.2 9.1 1.1 4.4 1.1 .6 1.1-4.1 1.1-12.5 1.2-6.4 1.1 0 1.1 5.1 1.1 12.6 1.1 8.7 1.2 .2 1.1-4.8 1.1-13.3 1.1-7.9 1.1-3.7 1.2 3.1 1.1 11 1.1 10.9 1.1 4.2 1.1-4.9 1.2-15.6 1.1-12.2 1.1-3.7 1.1 3.9 1.1 14.8 1.2 13.9 1.1 4.7 1.1-3.8 1.1-11.3 1.1-16.1 1.2-4.3 1.1 3.4 1.1 10.1 1.1 17.5 1.1 5.4 1.2-2.1 1.1-11.6 1.1-20.8 1.1-10.5 1.1-.5 1.2 8.4 1.1 18.3 1.1 8.7 1.1 1.2 1.1-5.5 1.2-18.7 1.1-10.9 1.1-1.6 1.1 6 1.1 18.4 1.2 15.2 1.1 4.1 1.1-5.5 1.1-14.7 1.1-23.4 1.2-8.5 1.1 2.5 1.1 12.1 1.1 25.5 1.1 14.1 1.2 3.9 1.1-6.6 1.1-22.1 1.1-17.2 1.1-8.1 1.2 4.5 1.1 17.8 1.1 19.4 1.1 6.1 1.1-3 1.2-13.4 1.1-24.3 1.1-10.3 1.1 .1 1.1 10.3 1.2 24.6 1.1 13.9 1.1 4 1.1-6.3 1.1-19.1 1.2-23.5 1.1-8 1.1 3.9 1.1 15.6 1.1 27.1 1.2 12.5 1.1 2.3 1.1-10.4 1.1-23.2 1.1-17.2 1.2-7.4 1.1 3.9 1.1 14 1.1 24 1.1 8.5 1.2-.9 1.1-9.9 1.1-23.5 1.1-14.9 1.1-5.1 1.2 4.5 1.1 14.6 1.1 22.4 1.1 8 1.1 1.5 1.2-9.4 1.1-20.7 1.1-12 1.1-2.9 1.1 8.1 1.2 16.6 1.1 22.4 1.1 10.4 1.1-.8 1.1-9.5 1.2-21.8 1.1-16.4 1.1-8.7 1.1 3.9 1.1 15.2 1.2 23 1.1 10.3 1.1 2.1 1.1-6.4 1.1-17.3 1.2-16 1.1-8.5 1.1-.5 1.1 10.2 1.1 20.1 1.2 12.1 1.1 5.9 1.1-2.2 1.1-11.6 1.1-16.1 1.2-6 1.1 .6 1.1 6.3 1.1 14.9 1.1 11.7 1.2 4 1.1-1 1.1-7 1.1-14.7 1.1-7.5 1.2-2.9 1.1 .8 1.1 9.5 1.1 13 1.1 6.4 1.2 .5 1.1-2.5 1.1-7.1 1.1-4.7 1.1-.6 1.2 2.3 1.1 2.7 1.1 0 1.1 1.5 1.1-.4 1.2-.4 1.1-1.7 1.1-.5 1.1-.9 1.1-1 1.2 .1 1.1 .6 1.1 2.9 1.1 2.7 1.1-.6 1.2-1.7 1.1-2.7 1.1-3.1 1.1-2.3 1.1-.8 1.2 2.3 1.1 4.5 1.1 2.3 1.1 1.9 1.1-1.7 1.2-4.6 1.1-8.1 1.1-6.8 1.1-3.3 1.1-.1 1.2 3.8 1.1 8.2 1.1 4.7 1.1 1 1.1-1.4 1.2-7 1.1-13.8 1.1-6.9 1.1-6 1.1 1.1 1.2 7.5 1.1 16.5 1.1 8.7 1.1 4.7 1.1-1.7 1.2-9.6 1.1-17.3 1.1-8.8 1.1-1.6 1.1 4.7 1.2 9.6 1.1 15.5 1.1 6.6 1.1-1.5 1.1-7.3 1.2-9.9 1.1-17.1 1.1-6 1.1 .7 1.1 7.6 1.2 12.8 1.1 18.4 1.1 8.5 1.1 1.4 1.1-6 1.2-13.3 1.1-21.2 1.1-8.8 1.1-3.1 1.1 6.8 1.2 12.4 1.1 21.5 1.1 10 1.1 2.7 1.1-3.6 1.2-11 1.1-20.9 1.1-12.8 1.1-6 1.1 2.1 1.2 9.2 1.1 20 1.1 11.3 1.1 3.9 1.1-2.6 1.2-11.2 1.1-18.6 1.1-10.2 1.1-4.5 1.1-.1 1.2 6.9 1.1 19.6 1.1 14.5 1.1 6 1.1-.7 1.2-7.6 1.1-15.9 1.1-13.8 1.1-5.2 1.1 .3 1.2 6.5 1.1 12.7 1.1 15.8 1.1 5.9 1.1-.3 1.2-4.4 1.1-7.7 1.1-16 1.1-7.6 1.1-2.2 1.2 2.8 1.1 5.7 1.1 15.4 1.1 10.3 1.1 4.9 1.2-3.1 1.1-9.5 1.1-17.7 1.1-10.2 1.1-4.9 1.2-1.1 1.1 4.8 1.1 10 1.1 11.2 1.1 3.4 1.2 .8 1.1-4.3 1.1-10.6 1.1-16 1.1-8.1 1.2-1.9 1.1 1.9 1.1 5.6 1.1 12.9 1.1 5.1 1.2-.5 1.1-5.3 1.1-7.2 1.1-13 1.1-11.9 1.2-5.5 1.1-.7 1.1 2 1.1 6.8 1.1 11.9 1.2 5 1.1 2.1 1.1-.7 1.1-5.1 1.1-13.7 1.2-9.7 1.1-3.4 1.1 2.5 1.1 4.9 1.1 11.1 1.2 13.1 1.1 2.4 1.1-1.9 1.1-5.1 1.1-9.2 1.2-12.3 1.1-5.2 1.1-2.6 1.1 2 1.1 5.4 1.2 9.7 1.1 6.9 1.1 4.1 1.1 .7 1.1-3.9 1.2-5.4 1.1-9.1 1.1-4.5 1.1-.6 1.1 1.6 1.2 4.4 1.1 8.2 1.1 5.4 1.1 2.2 1.1 1 1.2-.8 1.1-1.4 1.1-5.9 1.1-5.6 1.1-2.3 1.2 3.4 1.1 4.5 1.1 8.6 1.1 5.6 1.1 3.6 1.2-1.4 1.1-3.8 1.1-5.2 1.1-8.8 1.1-5.4 1.2-2.6 1.1-.4 1.1 1.5 1.1 2.9 1.1 6.3 1.2 6.3 1.1 3.5 1.1 2.9 1.1 .9 1.1-5 1.2-3.7 1.1-.8 1.1-.5 1.1 1.3 1.1 1.9 1.2 2.5 1.1 1 1.1 1.4 1.1 0 1.1 1.3 1.2-.4 1.1 .9 1.1 1.6 1.1 1.2 1.1 .1 1.2-.3 1.1-.4 1.1-.8 1.1 .2 1.1 4.2 1.2 3.6 1.1 1.9 1.1 .8 1.1-1.9 1.1-2.2 1.2-2.9 1.1 1.1 1.1 1.8 1.1 .2 1.1-.2 1.2-.6 1.1-.9 1.1-2.5 1.1 .9 1.1 2.1 1.2 1.2 1.1 1.6 1.1 1.2 1.1 3.5 1.1 3.4 1.2 .8 1.1-1.1 1.1 .5 1.1-.3 1.1 .7 1.2 1 1.1 .7 1.1 1.5 1.1 1.6 1.1 1.4 1.2-.3 1.1-1.7 1.1 .4 1.1 .8 1.1-.3 1.2 2.7 1.1 2.4 1.1-1.2 1.1-1.7 1.1-1.6 1.2-.6 1.1-.5 1.1 1.6 1.1 2.5 1.1 2 1.2 3.5 1.1 3.4 1.1 .5 1.1 .2 1.1 1 1.2 1.8 1.1-.4 1.1-2.6 1.1-2.5 1.1-.3 1.2 .3 1.1 .4 1.1 2.2 1.1 2.3 1.1 1.6 1.2 1 1.1 1.9 1.1 1.9 1.1 .2 1.1-1.5 1.2-1.7 1.1-.1 1.1-.5 1.1-.5 1.1-3.1 1.2-1.2 1.1-1.8 1.1-3 1.1-1 1.1-1.5 1.2-.2 1.1 1.5 1.1 1.1 1.1 .9 1.1 .7 1.2 1.3 1.1 3.7 1.1 3.4 1.1-2.6 1.1-3.3 1.2-3.3 1.1-2.4 1.1-1.7 1.1 1.1 1.1-.2 1.2 .6 1.1 1.1 1.1 1.2 1.1 .6 1.1-.5 1.2 1.2 1.1-.1 1.1-.3 1.1-1.4 1.1-1.1 1.2-2 1.1-3 1.1 1.5 1.1 3.3 1.1 2 1.2 .6 1.1-.1 1.1 .6 1.1 .5 1.1-.5 1.2-2 1.1-1.9 1.1 1.2 1.1 .9 1.1-.3 1.2-2.7 1.1-1.3 1.1-1.2 1.1-1 1.1 2.5 1.2 3 1.1 1.2 1.1 .5 1.1-.8 1.1 2.1 1.2 1.9 1.1 2 1.1 .8 1.1 1 1.1 1.2 1.2 2.3 1.1 1 1.1 1.9 1.1 .1 1.1-2.6 1.2-2.6 1.1 .6 1.1 .3 1.1 1.3 1.1 1.8 1.2 .6 1.1-1.3 1.1-1.5 1.1 .4 1.1 .6 1.2 .5 1.1 .4 1.1 .2 1.1-.8 1.1-.7 1.2-1.7 1.1-.4 1.1 .6 1.1 2.8 1.1 2.6 1.2-1.5 1.1-3.4 1.1-2.2 1.1 3.9 1.1 2.5 1.2 1.5 1.1 1.4 1.1-.2 1.1-1.1 1.1-1.6 1.2 1.9 1.1 2.3 1.1 1.5 1.1 .9 1.1 1.6 1.2 1.6 1.1 1.9 1.1 1.3 1.1 .6 1.1-1.7 1.2-4.2 1.1-3.2 1.1 2.1 1.1 1.7 1.1 1.4 1.2-.5 1.1 .4 1.1-2.1 1.1-1.7 1.1 2.3 1.2 1.6 1.1 1.1 1.1-1.8 1.1-2.1 1.1-.2 1.2 .5 1.1-.4 1.1-1.4 1.1-.3 1.1 .5 1.2 .9 1.1 .7 1.1 1.5 1.1-.5 1.1-.8 1.2-1.2 1.1 1.1 1.1 1.4 1.1-.1 1.1-2.1 1.2-1.6 1.1 2 1.1 1.9 1.1 .2 1.1-.8 1.2-2.5 1.1-.4 1.1-1.4 1.1-.7 1.1-1.7 1.2 .2 1.1 1.8 1.1 3.1 1.1 3.3 1.1 2.8 1.2 1 1.1-1 1.1-1.3 1.1-3.5 1.1-3.3 1.2 1.8 1.1 3.3 1.1 2.7 1.1 .9 1.1 1.1 1.2-.6 1.1-2 1.1-.4 1.1-.3 1.1-.6 1.2 0 1.1 .7 1.1 .3 1.1 .5 1.1 .1 1.2-1.3 1.1-.8 1.1-2.2 1.1-2.8 1.1-.1 1.2-.4 1.1 .4 1.1 .1 1.1-.2 1.1 .7 1.2 1.4 1.1 .8 1.1 1.3 1.1 .9 1.1-.2 1.2 .6 1.1-.8 1.1-1.2 1.1-.8 1.1 1.5 1.2 1.7 1.1 .1 1.1 .6 1.1 .1 1.1-.8 1.2-.5 1.1-.4 1.1-.7 1.1-1.6 1.1-.9 1.2-1.2 1.1 .1 1.1 .7 1.1 1 1.1 .5 1.2 1.5 1.1 .8 1.1 1.7 1.1 1.9 1.1 .7 1.2 1.5 1.1 .7 1.1 1.1 1.1 1.3 1.1 1.9 1.2-1.2 1.1-3.5 1.1-3.1 1.1 .4 1.1 1.5 1.2 .7 1.1 2.7 1.1 .9 1.1-2.4 1.1-1.7 1.2-.7 1.1 0 1.1-1.3 1.1-1.2 1.1-1.2 1.2 .5 1.1-.3 1.1 .4 1.1 1.2 1.1-.3 1.2-.7 1.1-1.4 1.1 .4 1.1 .1 1.1-.3 1.2 .4 1.1-1 1.1 4.7 1.1 4.4 1.1 .3 1.2-2.2 1.1-3.1 1.1-2.1 1.1-3 1.1 .1 1.2 .9 1.1 0 1.1 .7 1.1-.4 1.1 1.2 1.2 1.2 1.1 1.6 1.1 2.9 1.1 1.8 1.1-2.5 1.2-2.3 1.1 0 1.1 .4 1.1 .8 1.1 .9 1.2 1.8 1.1 2.2 1.1 3.9 1.1 .4 1.1-.4 1.2-.3 1.1-1.6 1.1-1.3 1.1-2.1 1.1-3.1 1.2-2.5 1.1-1.6 1.1-1.4 1.1 .9 1.1 1 1.2 1.2 1.1 2.2 1.1 1.3 1.1-.9 1.1-.7 1.2 0 1.1-.2 1.1 .9 1.1 2.2 1.1 2.5 1.2 .2 1.1 .2 1.1 .1 1.1-2.4 1.1-1.5 1.2-.3 1.1-.8 1.1-.9 1.1-.8 1.1-1.2 1.2-.3 1.1 0 1.1-.4 1.1 .5 1.1 .6 1.2 1.1 1.1 1.3 1.1-1.1 1.1-1.4 1.1-.4 1.2-.4 1.1 0 1.1 2.1 1.1 2.1 1.1 2.2 1.2 1.8 1.1 .5 1.1-1.6 1.1-1.2 1.1-3.1 1.2-2.4 1.1-.4 1.1 0 1.1 .1 1.1-.8 1.2-.4 1.1-.3 1.1 .3 1.1 .9 1.1 2.3 1.2 1.6 1.1 2.5 1.1 2.7 1.1 1.4 1.1-1.4 1.2-.8 1.1-.2 1.1-2.3 1.1-2.3 1.1-4.3 1.2-3.2 1.1 1 1.1 .4 1.1 3 1.1 4.1 1.2 2.3 1.1-.1 1.1 .5 1.1 1.4 1.1 1.9 1.2-.3 1.1-3.8 1.1-2.1 1.1-1.2 1.1-.3 1.2 1.1 1.1 3.3 1.1 .1 1.1-4.6 1.1-3.8 1.2 1 1.1 1.2 1.1 .8 1.1 1.2 1.1 1.4 1.2 0 1.1 .8 1.1-2.4 1.1-2.9 1.1-1.2 1.2 4.8 1.1 3.8 1.1 1.9 1.1 2.2 1.1 .9 1.2-2.8 1.1-2.4 1.1-1.6 1.1-2.4 1.1-.4 1.2-1.5 1.1-1.3 1.1 .5 1.1-1.3 1.1 2.7 1.2 1.8 1.1 1 1.1-2.3 1.1-1.5 1.1-2.2 1.2-.2 1.1 1.1 1.1 3.6 1.1 2.3 1.1-1.7 1.2-1.4 1.1-.2 1.1 1 1.1 1.6 1.1 .7 1.2 1 1.1-.5 1.1-.9 1.1 1.2 1.1 1.3 1.2 2.7 1.1-.8 1.1-.7 1.1-1.5 1.1-.1 1.2-.1 1.1 0 1.1 1 1.1 .2 1.1 .6 1.2-1.4 1.1-2.8 1.1-1.8 1.1 1 1.1 1.1 1.2 .1 1.1 1.3 1.1 0 1.1-3.5 1.1-1.7 1.2 1.5 1.1 1.9 1.1 .8 1.1 .6 1.1-.2 1.2-1 1.1-1.5 1.1-.1 1.1 1 1.1 .9 1.2 3.1 1.1 2.7 1.1 .1 1.1 0 1.1-.3 1.2 .9 1.1 .2 1.1 1.1 1.1 .9 1.1 1.1 1.2-.6 1.1 0 1.1 .2 1.1 .9 1.1-.4 1.2 1 1.1-.6 1.1-2.1 1.1-2.2 1.1 1.4 1.2 .7 1.1 .7 1.1-.4 1.1-.3 1.1-1.6 1.2-2 1.1 .3 1.1 1.1 1.1 2.2 1.1 2.5 1.2 3 1.1-2 1.1-1.6 1.1-1.9 1.1-3.5 1.2-3 1.1 1.6 1.1 1.5 1.1-.6 1.1-1.9 1.2-.8 1.1 .5 1.1 1.4 1.1 1.2 1.1 1.6 1.2 .2 1.1 1.2 1.1-.4 1.1-2.1 1.1-1.7 1.2 2 1.1 3.9 1.1 3 1.1-3 1.1-2.8 1.2-.2 1.1-.1 1.1-.3 1.1 .6 1.1 .3 1.2-.7 1.1-1.2 1.1-1.2 1.1-2.6 1.1-1.9 1.2 1.6 1.1 1.7 1.1 1.2 1.1 2 1.1 2.2 1.2 .7 1.1 .9 1.1-1.1 1.1-1.6 1.1-.1 1.2 1.5 1.1 1 1.1-1 1.1-1.3 1.1 .3 1.2 .5 1.1 .5 1.1-3.4 1.1-2.8 1.1 .2 1.2 .1 1.1 .7 1.1 3 1.1 2.3 1.1-1.1 1.2-1.8 1.1 1.5 1.1 1.6 1.1 .4 1.1 .8 1.2 1.4 1.1-2.7 1.1-2.4 1.1-1.4 1.1 2.4 1.2 1.5 1.1-1.7 1.1-2.5 1.1-.7 1.1-.7 1.2-.5 1.1 2.7 1.1 1.5 1.1 .8 1.1 .8 1.2 1.1 1.1 .6 1.1 1.7 1.1-2.6 1.1-2.2 1.2-.3 1.1-1.4 1.1 0 1.1 .4 1.1-.6 1.2 1.1 1.1 1.5 1.1 1.6 1.1 1.2 1.1 2.9 1.2-2.6 1.1-3.6 1.1-1.3 1.1 2.1 1.1 1.8 1.2 1.7 1.1 1.8 1.1 1.8 1.1 1.8 1.1 .1 1.2-1.2 1.1-.7 1.1-2"/>
<path stroke="#36A8FF" d="M257 1126l1.1 1.9 1.1 2 1.2 1.9 1.1 .1 1.1-1.5 1.1-4.4 1.1-3.2 1.2 1 1.1 1 1.1 2.1 1.1 2.4 1.1 3.5 1.2 1.6 1.1 .7 1.1 1 1.1 1.3 1.1 .3 1.2-2.1 1.1-2.4 1.1-2.1 1.1-.5 1.1-.3 1.2 1.3 1.1 1.6 1.1-2.4 1.1 .3 1.1-2.6 1.2-3.1 1.1-1 1.1 4.7 1.1 4.2 1.1 0 1.2-2.9 1.1-.3 1.1 1 1.1 1.6 1.1-.1 1.2-.9 1.1 1.3 1.1 2.2 1.1 1.4 1.1-.8 1.2-1.2 1.1-.7 1.1-.4 1.1 .7 1.1 1.9 1.2 1.3 1.1-3.9 1.1-6.2 1.1-.5 1.1 1.5 1.2 2 1.1 2.2 1.1 2.9 1.1 1.2 1.1 .6 1.2 .6 1.1-1.1 1.1-.8 1.1-2.3 1.1-2.7 1.2-1.9 1.1-2.1 1.1-1.4 1.1 2.6 1.1 1.5 1.2 1.8 1.1-.6 1.1 .7 1.1 1.6 1.1 1 1.2 .2 1.1 .1 1.1-1.7 1.1-2.1 1.1-3.7 1.2 .9 1.1 .7 1.1 1.4 1.1 2.4 1.1 2.1 1.2-.3 1.1-1 1.1-3 1.1-2.5 1.1-1.2 1.2-.6 1.1-.5 1.1 2.5 1.1 1.9 1.1 1.8 1.2 .8 1.1 .9 1.1 .8 1.1 .3 1.1-1.1 1.2-2.3 1.1-.9 1.1 2 1.1 1.1 1.1 .6 1.2 .7 1.1 .5 1.1-.4 1.1 .9 1.1 2.1 1.2 1.2 1.1-1.7 1.1-3.7 1.1-2.8 1.1-1.9 1.2-1.8 1.1 2 1.1 1.3 1.1 1.5 1.1-.8 1.2-.1 1.1 1 1.1 .6 1.1 1.1 1.1 1.3 1.2 .7 1.1-2.8 1.1-2.4 1.1 1.9 1.1 .5 1.2 1.1 1.1 .3 1.1-.1 1.1-.8 1.1-.5 1.2-1.6 1.1-3.4 1.1-2.7 1.1 2.9 1.1 3.1 1.2-.8 1.1-1 1.1-.3 1.1-.6 1.1-.4 1.2 .2 1.1 .7 1.1 .7 1.1 .6 1.1 1 1.2-.3 1.1 .6 1.1-1.3 1.1 .1 1.1-.7 1.2 .9 1.1 .5 1.1 .6 1.1 .1 1.1 .8 1.2-.3 1.1 .8 1.1 .1 1.1 1.5 1.1-.2 1.2-.1 1.1 .4 1.1 0 1.1-.5 1.1-.8 1.2-.6 1.1 .2 1.1-1.4 1.1-1.2 1.1-1 1.2-1.6 1.1-3 1.1-1.9 1.1-2.9 1.1-.4 1.2-1.3 1.1-1.6 1.1-2.3 1.1-1.5 1.1-1.9 1.2-1.9 1.1-2.2 1.1-2.2 1.1-1.8 1.1-.4 1.2-1.2 1.1-.6 1.1-.8 1.1 .4 1.1 .8 1.2 .6 1.1-2.1 1.1-1.3 1.1-.4 1.1-1.1 1.2-.4 1.1-1.9 1.1-1.6 1.1-.6 1.1 .1 1.2-1 1.1-1.3 1.1-.8 1.1 1.1 1.1-.6 1.2-.1 1.1-.7 1.1-1.9 1.1-1.9 1.1-1.4 1.2-.5 1.1-.2 1.1-1.2 1.1-.5 1.1-.4 1.2-1.6 1.1-.8 1.1 .2 1.1 1.4 1.1 1.3 1.2 1.7 1.1 2 1.1 1.4 1.1 .3 1.1 .9 1.2-.4 1.1 .4 1.1 2.3 1.1 1.6 1.1 .7 1.2 .9 1.1 1.2 1.1 1.9 1.1 1.7 1.1 1.8 1.2 1 1.1 2.4 1.1 .7 1.1 1.4 1.1 1.4 1.2 .3 1.1 .6 1.1 .4 1.1 .6 1.1 1.5 1.2 .6 1.1 1.9 1.1 2.9 1.1 .9 1.1 0 1.2 .5 1.1-2.2 1.1-3.2 1.1 .6 1.1 1 1.2 .8 1.1-.8 1.1-.7 1.1-2.2 1.1-3.1 1.2-1.1 1.1 .8 1.1-.5 1.1-1.4 1.1-2.1 1.2-2 1.1-3.3 1.1 .4 1.1-1.9 1.1 2.9 1.2-3.8 1.1 3.1 1.1-5.5 1.1 4 1.1-8.4 1.2 6.8 1.1-2.3 1.1 6 1.1-8.6 1.1 7.4 1.2-9 1.1 3.7 1.1-4.8 1.1 11.5 1.1-7.6 1.2 8.3 1.1-10.7 1.1 13.2 1.1-7.3 1.1 5.9 1.2-10.2 1.1 7.1 1.1-7.2 1.1 7.8 1.1-7.1 1.2 9.3 1.1-8 1.1 2.6 1.1-7.8 1.1 9.2 1.2-6.4 1.1 9.9 1.1-6.4 1.1 9.2 1.1-9.1 1.2 4.2 1.1-8.6 1.1 11.2 1.1-12.8 1.1 10.3 1.2-3.3 1.1 9.4 1.1-9.2 1.1 8.1 1.1-7.2 1.2 11 1.1-3.8 1.1 6.7 1.1-5.1 1.1 8.9 1.2-7.5 1.1 9 1.1-3.7 1.1 9.4 1.1-2 1.2 3.7 1.1-3.1 1.1 6.8 1.1-7.1 1.1 6.4 1.2-2.7 1.1 4.1 1.1-5.5 1.1 2.5 1.1-4.5 1.2 .3 1.1-4.1 1.1 1.8 1.1-2.2 1.1 1.2 1.2-1.1 1.1 2.3 1.1-.4 1.1 .1 1.1-1.2 1.2 2.9 1.1 2.5 1.1 .5 1.1 .4 1.1-.2 1.2 1.7 1.1 0 1.1 1.5 1.1 1.7 1.1 .3 1.2 .3 1.1 .1 1.1-.1 1.1 1.2 1.1 .5 1.2-1.3 1.1-.1 1.1 .1 1.1-.3 1.1-1.2 1.2 .1 1.1 .1 1.1 0 1.1 .1 1.1-1.2 1.2-.1 1.1-1.5 1.1-2.5 1.1-.9 1.1 1.1 1.2-.2 1.1 .3 1.1-.1 1.1 1.4 1.1 .9 1.2 .9 1.1 .5 1.1 .8 1.1 .3 1.1-2.4 1.2-.6 1.1 1.1 1.1 1.5 1.1 .9 1.1 1.4 1.2 1.2 1.1-.6 1.1-.1 1.1-.6 1.1 .8 1.2-.1 1.1 .7 1.1 .3 1.1-.4 1.1 0 1.2 .4 1.1-1.5 1.1-.3 1.1 2.3 1.1 1.8 1.2 .6 1.1 1.1 1.1 .8 1.1 1.2 1.1 .9 1.2-2.1 1.1-2.3 1.1 0 1.1 1.4 1.1 1 1.2-1.9 1.1-1.8 1.1-.9 1.1-.1 1.1 .8 1.2-.9 1.1-.1 1.1 0 1.1-1.1 1.1 2.1 1.2 3.9 1.1 3.9 1.1-1.6 1.1-2 1.1-1.6 1.2-2.4 1.1-1.3 1.1-1 1.1-1.5 1.1 2.9 1.2 1.2 1.1 1.9 1.1 2 1.1 1.6 1.1-1 1.2-1.4 1.1 .6 1.1 1.3 1.1 .3 1.1-1.8 1.2-1.8 1.1-2.4 1.1-1.6 1.1-1.3 1.1 1 1.2 .8 1.1-.8 1.1-.6 1.1 0 1.1-.9 1.2-.9 1.1-1.3 1.1-.8 1.1 .8 1.1 .3 1.2 .3 1.1-1.5 1.1 .1 1.1 1.5 1.1 2.2 1.2 1.3 1.1 .2 1.1 .4 1.1-.6 1.1-.9 1.2-2 1.1-2.1 1.1 .7 1.1 4.8 1.1 5.3 1.2 .6 1.1 .9 1.1 .4 1.1 .2 1.1-.3 1.2-3.4 1.1-3.1 1.1-3.4 1.1-2.6 1.1 0 1.2 2.2 1.1 2.5 1.1 2.7 1.1 1.8 1.1 .2 1.2-.9 1.1-1.1 1.1 .7 1.1 .1 1.1-1.7 1.2-2.2 1.1-2.4 1.1-.1 1.1-.1 1.1-.7 1.2-1.8 1.1 1.9 1.1 3.4 1.1 2.6 1.1 2.8 1.2 3.1 1.1-.9 1.1-2 1.1-1.4 1.1-.6 1.2-1.2 1.1-.9 1.1-1.1 1.1-1 1.1 .6 1.2 0 1.1 1.6 1.1 2.5 1.1-.4 1.1-.9 1.2-.6 1.1 .6 1.1-.6 1.1-1.8 1.1-2.4 1.2-1.1 1.1 .1 1.1 1.2 1.1-.5 1.1 .4 1.2-.2 1.1-1.3 1.1 0 1.1 .6 1.1 0 1.2 2.8 1.1 3.8 1.1 2.1 1.1-3.4 1.1-1.7 1.2-.4 1.1-.3 1.1-.6 1.1-1.5 1.1-.9 1.2 1.8 1.1 2 1.1 2.9 1.1 3.1 1.1 1.7 1.2-3.2 1.1-3.9 1.1 0 1.1 .8 1.1-.6 1.2-1.6 1.1-1.6 1.1-1.4 1.1-1.2 1.1 2.3 1.2 4.8 1.1 3.7 1.1-.3 1.1 0 1.1-1.5 1.2-1.3 1.1-.5 1.1-.1 1.1 .3 1.1 2.4 1.2 2.2 1.1 .3 1.1-2.4 1.1-3 1.1-4.2 1.2-3.1 1.1-.9 1.1 2.3 1.1 .2 1.1-2.7 1.2-4.3 1.1 .9 1.1 2.9 1.1 .9 1.1 .5 1.2 1.5 1.1 1.7 1.1-.8 1.1-6.3 1.1-7.3 1.2-3.4 1.1 3.5 1.1 7.5 1.1 6.5 1.1 2.5 1.2-.9 1.1-6.7 1.1-5 1.1-4.3 1.1 1.3 1.2 6.5 1.1 4 1.1 .1 1.1-5.1 1.1-12.7 1.2-5.6 1.1-.5 1.1 3.4 1.1 8.6 1.1 4.6 1.2 2.6 1.1-3.8 1.1-12.8 1.1-9.1 1.1-2.2 1.2 4.4 1.1 14.8 1.1 8.7 1.1 2.4 1.1-5.4 1.2-13.2 1.1-10.3 1.1-2.9 1.1 6.1 1.1 16.8 1.2 15.9 1.1 6.8 1.1-5.3 1.1-15.5 1.1-17.7 1.2-7 1.1 2.6 1.1 14.3 1.1 22.3 1.1 6.2 1.2-3 1.1-13 1.1-22.9 1.1-12.1 1.1-1.7 1.2 8.1 1.1 19.7 1.1 9.5 1.1 1.8 1.1-8.3 1.2-20.5 1.1-16.1 1.1-7 1.1 7.4 1.1 23.4 1.2 19.9 1.1 9.1 1.1-1.9 1.1-15.4 1.1-23.7 1.2-9.9 1.1-1.2 1.1 9.3 1.1 25.4 1.1 12.1 1.2 .7 1.1-10.8 1.1-26.3 1.1-14.3 1.1-3.3 1.2 7.2 1.1 19.4 1.1 22.4 1.1 8.4 1.1-.8 1.2-17.2 1.1-28.5 1.1-12.7 1.1 1 1.1 12 1.2 29.6 1.1 18.6 1.1 3.8 1.1-9.4 1.1-22.8 1.2-23.4 1.1-7.6 1.1 4.7 1.1 16.1 1.1 28.1 1.2 9.3 1.1-1.9 1.1-8.8 1.1-23.7 1.1-17.6 1.2-6 1.1 4.9 1.1 15.1 1.1 25.7 1.1 10.6 1.2 .5 1.1-10.4 1.1-26.3 1.1-18 1.1-6 1.2 3.6 1.1 16.6 1.1 27.9 1.1 12.8 1.1-1.7 1.2-12.4 1.1-23.3 1.1-14.4 1.1-3.2 1.1 8.4 1.2 17.3 1.1 22.2 1.1 9.4 1.1-1.5 1.1-10.1 1.2-23.2 1.1-15.5 1.1-4.9 1.1 5.5 1.1 13.4 1.2 24.3 1.1 9.8 1.1 2.6 1.1-6.5 1.1-17.7 1.2-14.7 1.1-6.2 1.1 2.8 1.1 8.4 1.1 19.3 1.2 9.7 1.1 3.6 1.1-4.3 1.1-13.6 1.1-18.1 1.2-6.8 1.1 2.2 1.1 9 1.1 20.1 1.1 14.5 1.2 5.2 1.1-3.1 1.1-9.6 1.1-18.7 1.1-9.6 1.2-2.4 1.1 3.4 1.1 12.3 1.1 15.5 1.1 6.6 1.2-1.2 1.1-4.7 1.1-11.8 1.1-7.8 1.1-2.2 1.2 2.2 1.1 2.2 1.1 4.6 1.1 2.4 1.1 2.1 1.2 2 1.1 1.1 1.1 2.2 1.1 1.9 1.1-4.2 1.2-5.2 1.1-2.9 1.1 2.1 1.1 1.3 1.1-1 1.2-2.1 1.1-4.9 1.1-5.8 1.1-5.7 1.1 1.1 1.2 3 1.1 6.1 1.1 5.2 1.1 4.4 1.1 4.4 1.2-.3 1.1-11.3 1.1-9.5 1.1-5.7 1.1-2 1.2 3.4 1.1 10.2 1.1 4.1 1.1 2.7 1.1-.3 1.2-9 1.1-16.5 1.1-10.1 1.1-2.3 1.1 5 1.2 9.8 1.1 16.8 1.1 7.4 1.1 1.4 1.1-5.8 1.2-13.1 1.1-21.2 1.1-10.6 1.1-.4 1.1 6.8 1.2 16.1 1.1 24.6 1.1 12 1.1 3.8 1.1-5 1.2-15.4 1.1-24.1 1.1-11.5 1.1-3.8 1.1 5.1 1.2 12.3 1.1 21.6 1.1 8.8 1.1 .6 1.1-5.7 1.2-15.2 1.1-22.5 1.1-8.8 1.1-1.4 1.1 6.5 1.2 13.9 1.1 23.7 1.1 10.1 1.1 2.9 1.1-5.7 1.2-13.1 1.1-22.4 1.1-11.4 1.1-2 1.1 4.5 1.2 12.8 1.1 24 1.1 13.4 1.1 5.2 1.1-3.1 1.2-11.4 1.1-25.4 1.1-16 1.1-6.9 1.1 2.9 1.2 10.8 1.1 22.9 1.1 16 1.1 5.3 1.1-4.7 1.2-12.2 1.1-20.3 1.1-16.5 1.1-6.5 1.1 1.6 1.2 8.1 1.1 15.8 1.1 19.1 1.1 7.5 1.1 .6 1.2-6.6 1.1-12.6 1.1-20.4 1.1-11.4 1.1-5.7 1.2 3.1 1.1 11.8 1.1 21.1 1.1 11.9 1.1 4.3 1.2-3.5 1.1-10.9 1.1-20.5 1.1-13.1 1.1-5.7 1.2 1.7 1.1 8.9 1.1 12.6 1.1 11.3 1.1 2 1.2 2.7 1.1-5.3 1.1-10.3 1.1-17.5 1.1-9.4 1.2-6.1 1.1 .8 1.1 7.5 1.1 15.3 1.1 9.9 1.2 7 1.1 1.1 1.1-9.9 1.1-15.6 1.1-12.2 1.2-4.7 1.1 .4 1.1 5.9 1.1 10 1.1 12.2 1.2 3.9 1.1-1.3 1.1-4.2 1.1-9.1 1.1-18.7 1.2-12.6 1.1-6.4 1.1-.7 1.1 4.5 1.1 12.9 1.2 14.4 1.1 6.3 1.1 2.5 1.1-3.6 1.1-11.1 1.2-15.9 1.1-5.1 1.1-1.5 1.1 2.4 1.1 5.6 1.2 10 1.1 6 1.1 2.6 1.1 .5 1.1-1.3 1.2-4.6 1.1-8.3 1.1-4.3 1.1 1.9 1.1 5.8 1.2 4.1 1.1 3.6 1.1 2.7 1.1 4.5 1.1 2.7 1.2-4.5 1.1-8.8 1.1-10.7 1.1-3 1.1-.3 1.2 6 1.1 8.3 1.1 7.6 1.1 3.3 1.1 1.5 1.2 2.8 1.1 .4 1.1-3 1.1-5.9 1.1-2.5 1.2-.1 1.1 .4 1.1 5.3 1.1 6.4 1.1 4.6 1.2 1.2 1.1-.5 1.1 2.4 1.1 1.6 1.1-3.9 1.2-3.7 1.1-1.6 1.1 2.5 1.1 3.6 1.1 4.5 1.2 6.5 1.1 2.7 1.1 1.8 1.1 .8 1.1 0 1.2-.3 1.1-1.3 1.1-2.9 1.1-1.8 1.1 .2 1.2-.3 1.1 1 1.1 1.8 1.1 .3 1.1-.4 1.2 0 1.1-2.1 1.1-1.7 1.1-.4 1.1 1.6 1.2 .4 1.1-.3 1.1 0 1.1-1.4 1.1-.3 1.2 1 1.1 .7 1.1 1.7 1.1-.9 1.1 .2 1.2-.5 1.1 .8 1.1 1.4 1.1 2.8 1.1 2 1.2 1.1 1.1-1.3 1.1 0 1.1-.1 1.1-.2 1.2-.1 1.1 .7 1.1 .6 1.1 .9 1.1 2.3 1.2-1.7 1.1-.6 1.1-1.3 1.1-1.1 1.1-1 1.2 3.6 1.1 3.5 1.1 2.5 1.1 2 1.1 1.3 1.2 1.4 1.1 .5 1.1-3.4 1.1-2.3 1.1-.7 1.2 3.2 1.1 2.8 1.1 2.3 1.1 2 1.1 1.8 1.2 .1 1.1 1.2 1.1 .2 1.1 .4 1.1-.7 1.2-1.2 1.1 .2 1.1 .1 1.1 .6 1.1 1.3 1.2 1.8 1.1 .7 1.1-.5 1.1-.9 1.1-.4 1.2-.9 1.1-1.6 1.1-1.4 1.1-.2 1.1 2.2 1.2 1.7 1.1 .8 1.1 .4 1.1 1.7 1.1 2.5 1.2 1 1.1-2.6 1.1-3.6 1.1-4 1.1-4.2 1.2-1.6 1.1 4.7 1.1 3.6 1.1 .8 1.1-.1 1.2-2.6 1.1-4.5 1.1-2.9 1.1-.1 1.1-.3 1.2 .4 1.1-1 1.1 1.2 1.1 .4 1.1 1.6 1.2-.2 1.1-.8 1.1-.3 1.1-1 1.1-.9 1.2-2.2 1.1-1.2 1.1-.5 1.1 .6 1.1-.5 1.2-2 1.1-1.6 1.1 1.1 1.1 .9 1.1 2.1 1.2 .9 1.1 1.1 1.1 1.9 1.1 3.1 1.1 1.3 1.2 1.8 1.1-.6 1.1-3.6 1.1-4.1 1.1 .5 1.2 1.6 1.1 .5 1.1-.1 1.1-1.2 1.1 3.1 1.2 2.6 1.1 .8 1.1 .1 1.1-.7 1.1 .8 1.2-.3 1.1 1.4 1.1 .7 1.1 .3 1.1-1 1.2-2.3 1.1-1.7 1.1-3.3 1.1-.6 1.1 1.6 1.2 1 1.1-.8 1.1-.9 1.1 4 1.1 4.7 1.2 3.1 1.1-1.1 1.1-.6 1.1-1.2 1.1-.4 1.2 .2 1.1 .2 1.1 1.1 1.1-1.7 1.1-2 1.2-1.6 1.1-1.4 1.1-1.1 1.1 2.5 1.1 2.7 1.2 1.2 1.1 2.2 1.1 .5 1.1 0 1.1-.7 1.2 4.2 1.1 4.3 1.1 1.4 1.1-.2 1.1-.2 1.2-1.1 1.1-.3 1.1-1.8 1.1 .1 1.1 0 1.2-1.1 1.1-.5 1.1-.7 1.1 .8 1.1 2.8 1.2 5.2 1.1 4.4 1.1-2.4 1.1-3 1.1-1.2 1.2 .8 1.1-.6 1.1-1.5 1.1-1.4 1.1 .6 1.2 .3 1.1-.6 1.1-1.4 1.1-.8 1.1 2.5 1.2 1.9 1.1 2.3 1.1 1.9 1.1 1 1.1-2.9 1.2-2.4 1.1-.5 1.1-.7 1.1-1.4 1.1-1.9 1.2-1.5 1.1-3 1.1-2.8 1.1 2.2 1.1 2.8 1.2 2.6 1.1 1.4 1.1 1.4 1.1 1.2 1.1 1.9 1.2-.6 1.1-2.9 1.1-1.8 1.1 .1 1.1 .8 1.2 .9 1.1 2 1.1 1.3 1.1-1.1 1.1-.7 1.2-.6 1.1-.3 1.1-.3 1.1 3.1 1.1 2.1 1.2-2.5 1.1-2 1.1 .2 1.1 2.9 1.1 2.6 1.2 .1 1.1 1 1.1 0 1.1 1.2 1.1 .4 1.2-1.9 1.1-1.2 1.1-.7 1.1-1.3 1.1-.2 1.2 3.1 1.1 1 1.1-.9 1.1-1 1.1-2.7 1.2-5.2 1.1-2.8 1.1 2 1.1 2.2 1.1 1.2 1.2 1.5 1.1 1.9 1.1 .3 1.1 1.6 1.1-.8 1.2 .8 1.1 .8 1.1 1.1 1.1 .2 1.1-3.7 1.2-2.9 1.1-.8 1.1 .6 1.1-.2 1.1-.2 1.2 .1 1.1-1.8 1.1 0 1.1 1.1 1.1 2.6 1.2 2.6 1.1-2 1.1-.6 1.1-.4 1.1 .2 1.2-.8 1.1 2.4 1.1 .5 1.1-2.2 1.1-2.3 1.2-1.8 1.1 1.1 1.1 1.1 1.1 .8 1.1 .5 1.2 1.5 1.1 1.2 1.1 .8 1.1-2.5 1.1-2.7 1.2 .8 1.1 1.1 1.1 1 1.1 .9 1.1 1.5 1.2-2.7 1.1-2.9 1.1-.4 1.1 1 1.1 1 1.2 1 1.1 1.3 1.1-2.1 1.1-2.4 1.1-1.2 1.2 .1 1.1 .7 1.1-.6 1.1-.2 1.1 .3 1.2 1.3 1.1 1 1.1 .6 1.1-.6 1.1 3 1.2 5.2 1.1 4.4 1.1 3.8 1.1 2.9 1.1-4.1 1.2-3.9 1.1-5.1 1.1-4.9 1.1-3.8 1.1 .6 1.2 1.4 1.1 .6 1.1 1.9 1.1 2.2 1.1 3.7 1.2 4.5 1.1-1.3 1.1-2 1.1-1.3 1.1-2.1 1.2-.5 1.1 1.5 1.1 1.3 1.1-1.2 1.1-3.2 1.2-1.2 1.1 .4 1.1 .8 1.1 2.2 1.1 3.2 1.2 .7 1.1-3.1 1.1-1.8 1.1 .4 1.1 .5 1.2-.6 1.1-2.1 1.1-1.5 1.1-1.5 1.1-1.2 1.2 .5 1.1 0 1.1 .4 1.1 0 1.1-.1 1.2-2.5 1.1-1.8 1.1 1 1.1 2.5 1.1 3.4 1.2 4.7 1.1 4.4 1.1 .1 1.1-1.4 1.1-.9 1.2-1.7 1.1-.5 1.1-.4 1.1 0 1.1-.8 1.2-1.8 1.1-.1 1.1 2.7 1.1 4.2 1.1 .4 1.2-1 1.1-1.7 1.1-1.3 1.1-1.2 1.1-3.5 1.2-2.9 1.1-2 1.1-1.1 1.1-.9 1.1 2 1.2 1.4 1.1 .6 1.1-.8 1.1 1.6 1.1 3.9 1.2 4.6 1.1-.5 1.1-.5 1.1-1.2 1.1-.8 1.2-1.7 1.1 .9 1.1 .9 1.1 .4 1.1 .6 1.2-.2 1.1-.5 1.1 .1 1.1-.3 1.1 0 1.2 .3 1.1-1 1.1-.1 1.1 0 1.1-.5 1.2-.9 1.1-1.4 1.1-.9 1.1 .1 1.1-.6 1.2 2.6 1.1 4.4 1.1 1.6 1.1-1.8 1.1-1.2 1.2-1.1 1.1-1.7 1.1 .2 1.1-.1 1.1 1.1 1.2 1.9 1.1 1.3 1.1 1.3 1.1 1.3 1.1 .6 1.2-1.7 1.1-2 1.1-1 1.1 .6 1.1-1.4 1.2-2.5 1.1-1.6 1.1 1.4 1.1 .8 1.1 1.3 1.2 0 1.1 .2 1.1-1.2 1.1-1.4 1.1 .9 1.2 1.8 1.1 .1 1.1-.9 1.1-1.1 1.1 1.5 1.2 1.5 1.1 .8 1.1-.1 1.1 1.1 1.1 .4 1.2 1.2 1.1-2.5 1.1-3 1.1-.6 1.1 2.9 1.2 2.6 1.1-.3 1.1-1.1 1.1-.6 1.1 1 1.2 .1 1.1-1.5 1.1-.9 1.1-.7 1.1-1.1 1.2 .9 1.1 1.2 1.1 1.4 1.1-2.1 1.1-1.9 1.2-.3 1.1 1.3 1.1 .6 1.1 .9 1.1-.3 1.2 2 1.1 2.1 1.1 1.5 1.1-1.1 1.1-1.5 1.2 .9 1.1 .8 1.1 .4 1.1-2.1 1.1 .1 1.2-1 1.1-.6 1.1 .6 1.1 1 1.1 0 1.2 1.3 1.1 .9 1.1-.3 1.1-2.4 1.1-.6 1.2 .7 1.1 .4 1.1 .1 1.1-.9 1.1-.3 1.2-2 1.1-.3 1.1-.5 1.1 .2 1.1-2.2 1.2-2.1 1.1-.9 1.1 2.1 1.1 2.2 1.1 .5 1.2 .1 1.1 1.1 1.1 .4 1.1 .7 1.1-1.9 1.2-1 1.1 .7 1.1 1.4 1.1 .9 1.1-.2 1.2-.3 1.1 1.4 1.1 1.3 1.1 .2 1.1-.7 1.2-.5 1.1-1.7 1.1-1.9 1.1 .1 1.1-.9 1.2 .8 1.1-.8 1.1-.4 1.1-.5 1.1-1.2 1.2 1.4 1.1 4 1.1 4.3 1.1-.6 1.1 .2 1.2-2.1 1.1-3 1.1-3.8 1.1-.6 1.1-.9 1.2 2.8 1.1 4.1 1.1 2.8 1.1-.2 1.1-.6 1.2-1.6 1.1-1.8 1.1 0 1.1 1.2 1.1 1.3 1.2 2.5 1.1 3 1.1 .3 1.1 .6 1.1-.4 1.2-2.1 1.1-1.9 1.1-.5 1.1-.7 1.1-1.9 1.2-2.6 1.1-2.1 1.1 1.7 1.1 1.5 1.1 1.2 1.2 .5 1.1 1.5 1.1 .6 1.1 1.3 1.1 1.5 1.2 .3 1.1 .7 1.1 .1 1.1 .3 1.1-4.5 1.2-5.1 1.1 .4 1.1 2.8 1.1 1.8 1.1 .7 1.2-.5 1.1-1 1.1-1.6 1.1-1 1.1-.5 1.2-.2 1.1 .5 1.1 1.5 1.1-.7 1.1-2.4 1.2-1.9 1.1 .8 1.1 .7 1.1 2.2 1.1 3.1 1.2 3.3 1.1 5.2 1.1 3.2 1.1-2.7 1.1-1.5 1.2-1.3 1.1 .2 1.1-1.1 1.1-2.4 1.1-3.1 1.2-.9 1.1-1.3 1.1 .6 1.1 1 1.1 1.3 1.2-.8 1.1-2.7 1.1-.1 1.1 .8 1.1-.4 1.2 .3 1.1-.4 1.1-.4 1.1 .2 1.1 1.5 1.2 2.5 1.1 2.4 1.1-1.1"/>
<path stroke="#2C80FF" d="M257 1213.3l1.1-2 1.1-.3 1.2-.6 1.1-.4 1.1 .2 1.1 1.3 1.1 .9 1.2 0 1.1 .1 1.1-1.7 1.1-1.2 1.1-2.9 1.2 2.2 1.1 .5 1.1 .7 1.1 .5 1.1 0 1.2 .7 1.1 0 1.1-.1 1.1 .7 1.1-.5 1.2 .6 1.1-.2 1.1 2.9 1.1 2.9 1.1 .3 1.2-.5 1.1-2.1 1.1-2 1.1-3 1.1 .6 1.2 .9 1.1 .9 1.1-1.8 1.1-.7 1.1 .8 1.2 .9 1.1 .8 1.1-.7 1.1-.2 1.1 0 1.2-.2 1.1 .9 1.1 1 1.1 .5 1.1 .7 1.2-.1 1.1-.9 1.1-1 1.1 .5 1.1-2 1.2 .2 1.1 .2 1.1 1.3 1.1-1.5 1.1-1.5 1.2-.9 1.1 .2 1.1 .5 1.1 1.6 1.1 .4 1.2 .4 1.1 .2 1.1 1 1.1-.9 1.1 .7 1.2 .7 1.1 1.2 1.1 1.2 1.1 .4 1.1-.2 1.2-.1 1.1-1.6 1.1-.4 1.1 .4 1.1-.2 1.2 0 1.1 .9 1.1-1 1.1-.4 1.1-.5 1.2-.4 1.1-.7 1.1 0 1.1 1.5 1.1-.4 1.2-.6 1.1-.5 1.1-.5 1.1-.4 1.1 .2 1.2 .8 1.1 .8 1.1 .3 1.1 .2 1.1 0 1.2 .2 1.1 .6 1.1-.5 1.1-.4 1.1-.5 1.2-.8 1.1-.4 1.1-.8 1.1 .3 1.1 .7 1.2 1.5 1.1 .1 1.1-.9 1.1 .3 1.1-1.2 1.2-.2 1.1-.1 1.1 0 1.1 .1 1.1 1.6 1.2 1.1 1.1-.4 1.1-.2 1.1 .5 1.1 1.1 1.2 0 1.1-1 1.1-.4 1.1-.2 1.1-.6 1.2-.5 1.1-.5 1.1-1.5 1.1 1.7 1.1 .8 1.2 .6 1.1 .1 1.1-.4 1.1 1 1.1 .2 1.2 .3 1.1-.5 1.1-.5 1.1-1.4 1.1-2 1.2-.1 1.1 .1 1.1 .4 1.1 .7 1.1 .2 1.2-1.2 1.1-1.3 1.1 .7 1.1 1.7 1.1 .2 1.2 .4 1.1-.4 1.1-1 1.1-.1 1.1 .4 1.2 2.2 1.1 1.3 1.1-.7 1.1-.1 1.1-.7 1.2 .3 1.1-1 1.1 .4 1.1 .3 1.1 .3 1.2 .2 1.1 .9 1.1 1.5 1.1 .6 1.1-2.5 1.2-2.4 1.1-.1 1.1-.1 1.1 1 1.1 1.2 1.2 .3 1.1-1.2 1.1-2.5 1.1-2.5 1.1-1.1 1.2-.5 1.1-.4 1.1-1.1 1.1-.5 1.1-.9 1.2-.4 1.1 .2 1.1-.5 1.1-.9 1.1-1.4 1.2-1.3 1.1-1.4 1.1-.8 1.1-.2 1.1-.6 1.2-.6 1.1-1 1.1-.3 1.1 .7 1.1-.5 1.2-.7 1.1-.1 1.1-.9 1.1 .9 1.1 .6 1.2-.8 1.1-.1 1.1-.3 1.1 .3 1.1-.3 1.2-1.7 1.1 .3 1.1-.5 1.1 .3 1.1 .1 1.2-.3 1.1 .6 1.1-1.2 1.1-.3 1.1 .5 1.2 .3 1.1 .9 1.1-.6 1.1 .1 1.1 .2 1.2 .4 1.1 .1 1.1 2.1 1.1 1.2 1.1 1 1.2 .4 1.1-.3 1.1-.2 1.1 .2 1.1 .6 1.2-.1 1.1 1.1 1.1 .7 1.1 1.1 1.1 1.8 1.2 1.6 1.1 1.5 1.1 .6 1.1-.2 1.1-.7 1.2-.6 1.1-.1 1.1-.5 1.1 .2 1.1 0 1.2-.5 1.1-.2 1.1-.8 1.1-.5 1.1-1.3 1.2-1.2 1.1 .1 1.1 0 1.1-.5 1.1-.8 1.2-.5 1.1-.6 1.1 1.1 1.1-1.8 1.1-.7 1.2-.3 1.1-.2 1.1-.5 1.1-.1 1.1 1.1 1.2-1.6 1.1 1.9 1.1-2.3 1.1 3.9 1.1-3.5 1.2 4.4 1.1-3.2 1.1 3.5 1.1-6.2 1.1 5.5 1.2-6.4 1.1 3.9 1.1-4.2 1.1 5.4 1.1-3.5 1.2 4 1.1-4.2 1.1 5 1.1-2.6 1.1 5.4 1.2-6.6 1.1 5.5 1.1-5.7 1.1 3.1 1.1-3.6 1.2 5 1.1-5 1.1 4.7 1.1-3.8 1.1 5.6 1.2-3.9 1.1 2.4 1.1-2.4 1.1 4.2 1.1-4.6 1.2 3 1.1-3.1 1.1 5.1 1.1-4.6 1.1 1.1 1.2-3.8 1.1 5.1 1.1-5.2 1.1 4.8 1.1-.6 1.2 3.8 1.1-2.1 1.1 1.8 1.1-1.5 1.1 .8 1.2-.6 1.1-1.2 1.1-.3 1.1 .9 1.1 2.3 1.2 1.3 1.1-1.1 1.1-.1 1.1 .8 1.1 2.6 1.2 2.3 1.1 1.3 1.1 .8 1.1 0 1.1 0 1.2 .7 1.1 1.9 1.1-.5 1.1-.7 1.1-1.5 1.2 .2 1.1 .1 1.1-.5 1.1-.8 1.1 0 1.2-.5 1.1 .3 1.1 1 1.1 .6 1.1 .9 1.2-.9 1.1-.3 1.1 .5 1.1 .2 1.1-.1 1.2-.4 1.1 .1 1.1 1.1 1.1 .2 1.1 .7 1.2 .7 1.1 0 1.1-.9 1.1-.4 1.1 .6 1.2 .7 1.1 .5 1.1-.9 1.1-1 1.1 .6 1.2 .9 1.1-.5 1.1-.5 1.1-.6 1.1 .5 1.2 .6 1.1-.3 1.1-.3 1.1 .1 1.1 1.8 1.2 1.2 1.1 .2 1.1-.9 1.1 .1 1.1-.8 1.2-.2 1.1-.8 1.1 0 1.1-.6 1.1-.4 1.2 .5 1.1 .4 1.1 0 1.1 .6 1.1 .3 1.2 0 1.1-.2 1.1-.7 1.1 .6 1.1 1.7 1.2-1 1.1-.8 1.1-1.5 1.1-1 1.1-.2 1.2-.7 1.1 .1 1.1 .5 1.1 1.4 1.1 0 1.2-.3 1.1-.7 1.1 0 1.1 .1 1.1 .6 1.2-.2 1.1 1.6 1.1-.3 1.1-.2 1.1-1 1.2-1.4 1.1-1 1.1 .8 1.1 .5 1.1 1.3 1.2 1.7 1.1 1.4 1.1-.5 1.1-.8 1.1-1 1.2-1.5 1.1-1.2 1.1 .1 1.1-.1 1.1 .8 1.2 1.6 1.1-.3 1.1 .4 1.1-.5 1.1 .3 1.2-.3 1.1 .4 1.1-.6 1.1 .5 1.1 .3 1.2-.3 1.1 .9 1.1 .9 1.1-.8 1.1-1.3 1.2-.7 1.1 .9 1.1 .9 1.1 1.6 1.1 1.2 1.2 .3 1.1 .4 1.1-.4 1.1-.8 1.1-.4 1.2-1.2 1.1-.4 1.1-1 1.1-.6 1.1-.2 1.2-1.2 1.1 1.2 1.1-.8 1.1 .8 1.1 .2 1.2 .9 1.1-.3 1.1 .8 1.1-.1 1.1-.1 1.2-1 1.1-.8 1.1 0 1.1-.5 1.1 .5 1.2 .5 1.1 .8 1.1-.8 1.1-1.4 1.1 .4 1.2 1.4 1.1 1.5 1.1 .1 1.1 1.7 1.1-1.8 1.2-.3 1.1-1.1 1.1-.7 1.1-1 1.1 .4 1.2 1.9 1.1 .9 1.1 0 1.1-1 1.1 0 1.2 .1 1.1-.1 1.1-1 1.1-.4 1.1 .2 1.2 .4 1.1-.4 1.1 .1 1.1-.3 1.1 .3 1.2-.3 1.1 .9 1.1 2.1 1.1 1.2 1.1 .6 1.2 .5 1.1-1.8 1.1-1.7 1.1-.9 1.1 .6 1.2 .3 1.1 .5 1.1 .3 1.1-.5 1.1 .4 1.2 .2 1.1-1.1 1.1-.2 1.1 .1 1.1 .4 1.2-.4 1.1-.3 1.1 .1 1.1-1.3 1.1-1.3 1.2 .7 1.1 .3 1.1 .9 1.1 1.3 1.1 .8 1.2-.1 1.1 .1 1.1-.6 1.1-.5 1.1 .3 1.2-1.2 1.1 .3 1.1-.8 1.1 .6 1.1-.1 1.2 .8 1.1 1 1.1-.2 1.1-2 1.1-.3 1.2-.3 1.1 .7 1.1-1.6 1.1-1.1 1.1-.1 1.2-.6 1.1-1.7 1.1 2.7 1.1 1.6 1.1-1.1 1.2-.6 1.1 .1 1.1 .3 1.1 1.5 1.1 1 1.2 1.8 1.1-.5 1.1-1.1 1.1-1.7 1.1-.5 1.2 1.4 1.1 .5 1.1 3 1.1 .4 1.1-2.2 1.2-4.3 1.1-2.8 1.1-1.2 1.1-.9 1.1 2.8 1.2 2.8 1.1 1.4 1.1-.6 1.1-5 1.1-5.3 1.2-3.1 1.1 1.1 1.1 5 1.1 4.3 1.1 .9 1.2-1.9 1.1-4.9 1.1-5.1 1.1-.9 1.1 1.6 1.2 6.4 1.1 4.8 1.1 .4 1.1-3.6 1.1-9.8 1.2-6.2 1.1-1.4 1.1 3.6 1.1 9.6 1.1 6.9 1.2 1.4 1.1-4.8 1.1-11.2 1.1-7.9 1.1-2 1.2 3 1.1 12.1 1.1 6.4 1.1 1.9 1.1-4.4 1.2-12.4 1.1-10.1 1.1-.7 1.1 5.4 1.1 12.8 1.2 10.9 1.1 2.3 1.1-5.5 1.1-13.3 1.1-16.2 1.2-5.7 1.1 2.6 1.1 12.1 1.1 18.3 1.1 7.5 1.2-.9 1.1-10.2 1.1-20.2 1.1-9.3 1.1-1.4 1.2 8.3 1.1 20.4 1.1 10.8 1.1 .6 1.1-8.9 1.2-23.8 1.1-14.8 1.1-5 1.1 6.6 1.1 21.5 1.2 18 1.1 6.6 1.1-4.8 1.1-18.8 1.1-25.5 1.2-10.2 1.1 .6 1.1 12.9 1.1 29.9 1.1 12.7 1.2 1.4 1.1-12.1 1.1-29.5 1.1-19.3 1.1-6.7 1.2 6.7 1.1 24.2 1.1 26.3 1.1 10.9 1.1-3.6 1.2-18.1 1.1-32.4 1.1-13.9 1.1-1.8 1.1 14 1.2 33.1 1.1 21.1 1.1 6.1 1.1-8.8 1.1-23.4 1.2-28.5 1.1-10.5 1.1 1.7 1.1 14.8 1.1 30.5 1.2 15.2 1.1 1.7 1.1-9.5 1.1-26.8 1.1-20.5 1.2-6.2 1.1 5.6 1.1 19 1.1 30.8 1.1 13.2 1.2-.1 1.1-12.8 1.1-31.3 1.1-19.4 1.1-5.3 1.2 6.5 1.1 19.3 1.1 30 1.1 12.4 1.1-.7 1.2-11.5 1.1-28.3 1.1-16.2 1.1-6 1.1 5.2 1.2 16.3 1.1 27.4 1.1 12.4 1.1 .2 1.1-11.3 1.2-26.3 1.1-16.8 1.1-6.3 1.1 6.2 1.1 15.8 1.2 26.7 1.1 11.6 1.1 1.2 1.1-7 1.1-22.3 1.2-17.5 1.1-8.1 1.1 1.7 1.1 12.8 1.1 23.6 1.2 12.9 1.1 4.6 1.1-4.5 1.1-14.8 1.1-20.1 1.2-8.6 1.1-.2 1.1 7.7 1.1 20 1.1 13.6 1.2 5.2 1.1-2.3 1.1-8.9 1.1-16.1 1.1-7.6 1.2-.9 1.1 5.2 1.1 9.7 1.1 12.6 1.1 5.6 1.2-.5 1.1-4.5 1.1-7.6 1.1-5.3 1.1 .4 1.2 2.2 1.1 2.1 1.1 2.9 1.1 2.1 1.1 2.5 1.2 .3 1.1-.6 1.1 .5 1.1-.1 1.1 1.2 1.2 1.5 1.1 .3 1.1-.9 1.1-1.4 1.1 .2 1.2-3 1.1-7.2 1.1-7 1.1-6 1.1-3.3 1.2-.5 1.1 7.7 1.1 5.8 1.1 2.7 1.1-.4 1.2-5.8 1.1-12.9 1.1-8.6 1.1-3.2 1.1 1.2 1.2 7.4 1.1 15.9 1.1 9.6 1.1 2.9 1.1-3.4 1.2-8.4 1.1-17.3 1.1-8.6 1.1-4.2 1.1 2.7 1.2 9.2 1.1 17.5 1.1 8.5 1.1 3.8 1.1-2.6 1.2-11.9 1.1-20.5 1.1-9.4 1.1-3.3 1.1 5.3 1.2 11.3 1.1 19.3 1.1 9.6 1.1 3.1 1.1-4.4 1.2-12.7 1.1-21.6 1.1-9.8 1.1-3.2 1.1 6 1.2 12.6 1.1 21.4 1.1 10.7 1.1 2.8 1.1-5.2 1.2-12.8 1.1-22 1.1-10.5 1.1-4.2 1.1 6.2 1.2 14.3 1.1 23.1 1.1 11.3 1.1 3.4 1.1-5.6 1.2-11.9 1.1-24.1 1.1-11.7 1.1-4 1.1 3.4 1.2 11.4 1.1 23.4 1.1 12.2 1.1 4.6 1.1-3.5 1.2-12.5 1.1-23.6 1.1-14.3 1.1-5.8 1.1 2.5 1.2 10.4 1.1 23 1.1 15.6 1.1 6.6 1.1-1.6 1.2-8.7 1.1-21.3 1.1-18.2 1.1-8.4 1.1 .8 1.2 8.4 1.1 17.5 1.1 20.9 1.1 8 1.1-.2 1.2-6.8 1.1-14.1 1.1-21.2 1.1-11.6 1.1-3.1 1.2 3.5 1.1 13.5 1.1 22.1 1.1 11.1 1.1 3.6 1.2-3.5 1.1-10.9 1.1-24.1 1.1-12.4 1.1-6.1 1.2 1.3 1.1 6.9 1.1 14.9 1.1 14.8 1.1 4.5 1.2 .2 1.1-6.5 1.1-15.1 1.1-22.8 1.1-11.5 1.2-2.8 1.1 4 1.1 9 1.1 17.5 1.1 10 1.2 3.4 1.1-2.2 1.1-8.5 1.1-17 1.1-13.3 1.2-6.7 1.1-.6 1.1 4.6 1.1 9.4 1.1 16.1 1.2 6.7 1.1 .9 1.1-3.7 1.1-8.6 1.1-16.4 1.2-9.5 1.1-4.3 1.1 .4 1.1 5 1.1 9.7 1.2 11.8 1.1 4 1.1-.1 1.1-4.2 1.1-8 1.2-12 1.1-5.6 1.1-1.3 1.1 1.8 1.1 4.4 1.2 10.4 1.1 8.8 1.1 4.1 1.1 .1 1.1-5 1.2-6.8 1.1-9.2 1.1-4.8 1.1-3 1.1 1 1.2 5.2 1.1 9.6 1.1 9 1.1 4.5 1.1 1.4 1.2-3.1 1.1-6.1 1.1-10.6 1.1-4.9 1.1-2.2 1.2 0 1.1 2.8 1.1 9.1 1.1 9.3 1.1 5.6 1.2-.1 1.1-3.1 1.1-4.5 1.1-8.6 1.1-3.5 1.2 .5 1.1 2 1.1 4.5 1.1 7.1 1.1 7.1 1.2 5.1 1.1 2.5 1.1-2.4 1.1-4 1.1-6.2 1.2-1.4 1.1 .8 1.1 1.9 1.1 4.5 1.1 7.1 1.2 9.1 1.1 4.2 1.1 2.1 1.1-1.4 1.1-1.8 1.2-3.9 1.1-2.5 1.1 .5 1.1 1.4 1.1 2.4 1.2 3.8 1.1 3.1 1.1 2.3 1.1 .2 1.1-1.2 1.2-1.9 1.1-1.3 1.1-1.2 1.1-.7 1.1 .3 1.2-.1 1.1 1.5 1.1 .7 1.1 1.4 1.1-.9 1.2 .3 1.1-.9 1.1 0 1.1-1.6 1.1-.3 1.2-.6 1.1 .1 1.1-1 1.1 .7 1.1-.2 1.2 1 1.1-1.4 1.1-.3 1.1 1.8 1.1 .7 1.2-.1 1.1-.9 1.1-.2 1.1 .2 1.1-.6 1.2-.5 1.1-1.7 1.1 .2 1.1-.4 1.1 0 1.2 0 1.1 0 1.1 .4 1.1-.3 1.1 .9 1.2 .6 1.1 1.8 1.1-.1 1.1 1.3 1.1-.3 1.2-.5 1.1 .6 1.1 .4 1.1 .9 1.1 1.6 1.2 2.3 1.1 1.7 1.1 1 1.1 1.5 1.1-.6 1.2-1 1.1-.5 1.1 1.4 1.1 1.1 1.1 .9 1.2 .9 1.1 .8 1.1-1 1.1 .6 1.1 1.1 1.2 .7 1.1-.6 1.1-.6 1.1-.4 1.1 .1 1.2 .2 1.1 .3 1.1 .2 1.1-.6 1.1-.6 1.2-.5 1.1 .5 1.1-1.1 1.1 1.1 1.1 1.3 1.2 .4 1.1-.9 1.1-.9 1.1 1.4 1.1 1.2 1.2 .9 1.1 .7 1.1 .2 1.1-2.2 1.1-1 1.2-1.5 1.1 .5 1.1 .2 1.1-.3 1.1 .1 1.2 1.2 1.1 .3 1.1-.3 1.1-.5 1.1-.8 1.2 .5 1.1 .3 1.1-.3 1.1-.8 1.1-.1 1.2-1.3 1.1-1.4 1.1-.8 1.1 .5 1.1 .4 1.2-.1 1.1 1 1.1 2 1.1 1.1 1.1 .1 1.2-1.9 1.1-1 1.1 .8 1.1 1.1 1.1 0 1.2 .7 1.1-.7 1.1 .1 1.1-.7 1.1-.7 1.2-.8 1.1-.2 1.1 .4 1.1-.2 1.1 .2 1.2-1.3 1.1 .2 1.1 .5 1.1 .9 1.1 .2 1.2 .7 1.1-.2 1.1-.6 1.1 .2 1.1-.7 1.2-.2 1.1 .5 1.1-.6 1.1 1.3 1.1 1.2 1.2 1 1.1-1.1 1.1-1.1 1.1 .3 1.1-.3 1.2 .5 1.1 .9 1.1 1.4 1.1 1.8 1.1 1.1 1.2 .2 1.1 .5 1.1 0 1.1-.4 1.1-.1 1.2 .7 1.1 .2 1.1 .9 1.1 1.3 1.1 1.6 1.2-1.3 1.1 .1 1.1-.5 1.1 .8 1.1 .3 1.2-1.1 1.1-1.1 1.1 .8 1.1 .7 1.1 1.5 1.2-.5 1.1 0 1.1 .7 1.1 .6 1.1-.7 1.2-1.4 1.1-.6 1.1 .3 1.1 .2 1.1 1.8 1.2 3.2 1.1 1.8 1.1-.9 1.1-1.1 1.1-.6 1.2-.4 1.1 .8 1.1 1 1.1 1.2 1.1-.5 1.2 .2 1.1 1 1.1 .2 1.1 .2 1.1-.5 1.2-.1 1.1-1 1.1 .9 1.1-.5 1.1-.5 1.2 .8 1.1-.2 1.1-.4 1.1 1 1.1 .6 1.2 .4 1.1 .1 1.1 .4 1.1-.3 1.1 .7 1.2 .3 1.1-.3 1.1-1 1.1 .3 1.1 .3 1.2 0 1.1 1.3 1.1-.3 1.1 .8 1.1 .2 1.2-.9 1.1-.4 1.1 .9 1.1 .2 1.1 1.7 1.2-1.9 1.1-1.5 1.1 .4 1.1 2.4 1.1 2.7 1.2 .1 1.1-.8 1.1 .8 1.1 .3 1.1 .9 1.2-1.4 1.1-1.6 1.1 .5 1.1 .3 1.1-.1 1.2-.7 1.1 .1 1.1-.2 1.1 .4 1.1 .4 1.2 .8 1.1 1 1.1-.5 1.1-1 1.1 1 1.2-.5 1.1 .5 1.1-1.1 1.1-.6 1.1 1 1.2-1 1.1 .5 1.1-.4 1.1 .5 1.1-.9 1.2-.6 1.1-.7 1.1-1.1 1.1 .1 1.1 .3 1.2-.4 1.1 1.6 1.1 2.2 1.1-.8 1.1 .7 1.2-.9 1.1 1.2 1.1-.4 1.1-.4 1.1-2.7 1.2-.3 1.1 1.5 1.1 1 1.1 .1 1.1-.6 1.2 .1 1.1 .6 1.1 .8 1.1-.8 1.1-1.3 1.2-.4 1.1-1.3 1.1-.1 1.1 .9 1.1 1.4 1.2 .3 1.1 1 1.1 .3 1.1-.2 1.1 .2 1.2-1.7 1.1-.4 1.1-1.5 1.1 1.6 1.1 .3 1.2 .7 1.1 1.6 1.1-1 1.1-.6 1.1 .2 1.2-1.8 1.1-.7 1.1-.6 1.1 .7 1.1 .4 1.2 1.6 1.1 1 1.1 .2 1.1-.2 1.1-.6 1.2-.2 1.1-.2 1.1 .5 1.1 .5 1.1-.5 1.2-.2 1.1-.8 1.1-1.1 1.1-1.1 1.1-.4 1.2 .1 1.1 .9 1.1 .7 1.1 1.6 1.1 .7 1.2 1.4 1.1-.3 1.1-.4 1.1-.9 1.1-1.2 1.2-.6 1.1 .9 1.1 0 1.1-.3 1.1 0 1.2-.2 1.1 1.5 1.1 1 1.1-.7 1.1-.9 1.2-.3 1.1-1.1 1.1-.1 1.1 .3 1.1 1.1 1.2 .2 1.1-.3 1.1 0 1.1-.9 1.1-.2 1.2-.1 1.1 1.5 1.1-.4 1.1-1.2 1.1 .2 1.2 .9 1.1 1.3 1.1 0 1.1-.5 1.1-.1 1.2-.7 1.1-.6 1.1-.2 1.1 0 1.1-.2 1.2 1.5 1.1 .4 1.1-.7 1.1 .2 1.1-.3 1.2-.7 1.1 .2 1.1 1 1.1 .9 1.1 .5 1.2 0 1.1 1.3 1.1 .3 1.1-.5 1.1 .1 1.2-.6 1.1-1.7 1.1-1.4 1.1-1.5 1.1 1.3 1.2 .8 1.1 1.4 1.1 1.1 1.1 1.2 1.1 .6 1.2 .2 1.1 .2 1.1-.8 1.1-.9 1.1 .2 1.2-1.2 1.1-.5 1.1-1.1 1.1 .3 1.1 1.1 1.2 1 1.1 1.3 1.1 1.3 1.1-.6 1.1-1 1.2-.6 1.1-1.2 1.1-1.2 1.1 .1 1.1-.8 1.2 .1 1.1-.8 1.1-.3 1.1 1.6 1.1 1.7 1.2-.1 1.1-.2 1.1-1 1.1-.2 1.1 .1 1.2 .7 1.1 .9 1.1 .8 1.1 0 1.1-.2 1.2-.2 1.1 .4 1.1 0 1.1-.4 1.1-1.1 1.2-1.5 1.1-.9 1.1 1.9 1.1 2.3 1.1-.8 1.2-1.5 1.1-1.5 1.1 .8 1.1 .3 1.1 .4 1.2 .4 1.1 .9 1.1-.3 1.1 .4 1.1 .3 1.2-.4 1.1 .2 1.1 .4 1.1 .7 1.1-.8 1.2 .1 1.1-1 1.1-1.4 1.1-.9 1.1 1.8 1.2 2 1.1 .6 1.1-.1 1.1 .4 1.1-.6 1.2-.5 1.1-1.4 1.1-2 1.1-.1 1.1 .2 1.2 .8 1.1 .5 1.1 1.2 1.1 0 1.1 .2 1.2 0 1.1-1.5 1.1-1.4 1.1 .7 1.1 1.1 1.2 1.1 1.1 0 1.1 .7 1.1-1.4 1.1-1.2 1.2-1.1 1.1 .9 1.1-.3 1.1 2.1 1.1 1.6 1.2 1.5 1.1 2 1.1 .5 1.1-.7 1.1-.7 1.2 0 1.1-1 1.1 .4 1.1-.6 1.1-.2 1.2-1.3 1.1-.8 1.1 .6 1.1 0 1.1 .5 1.2-.7 1.1-1.1 1.1 .3 1.1 .8 1.1-.5 1.2-.6 1.1-.9 1.1-.8 1.1-.8 1.1-.3 1.2 .2 1.1 .5 1.1 0 1.1 0 1.1-.1 1.2 .2 1.1 .1 1.1 .2 1.1 1.1 1.1-.9 1.2-1.2 1.1 .6 1.1 1.8 1.1 .5 1.1-1.4 1.2-.3 1.1-2 1.1-1.1 1.1-.2 1.1 2.3 1.2 2.3 1.1 .1 1.1 .4 1.1 .1 1.1-1.2 1.2-.7 1.1 1 1.1 .9 1.1-.4 1.1-.2 1.2 .3 1.1 1.2 1.1 1 1.1 .6 1.1 .1 1.2-1.3 1.1-1.4 1.1-1.1 1.1-.4 1.1 .3 1.2-1 1.1-2.2 1.1-.2 1.1 1.1 1.1 2.4 1.2 1 1.1 .4 1.1-.4 1.1-1 1.1-1.1 1.2-.4 1.1 .8 1.1 .3 1.1 0 1.1-.1 1.2 .2 1.1 .4 1.1 .2 1.1 1 1.1-.6 1.2-1.5 1.1-1.2 1.1 .8 1.1 .6 1.1 .4 1.2 1.2 1.1-.3 1.1 .1 1.1 .2 1.1-.9 1.2-2 1.1-.6 1.1-.2 1.1 .8 1.1-1.5 1.2-.3 1.1 .4 1.1 .6 1.1-.4 1.1 2.2 1.2 1.9 1.1 .7 1.1 .6 1.1 .3 1.1-1.1 1.2-.3 1.1-2 1.1-2.6 1.1-1 1.1 0 1.2-.3 1.1 1.4 1.1 1.3 1.1 1.8 1.1 .8 1.2 .7 1.1-.3 1.1 .2 1.1 .6 1.1-.1 1.2-1.1 1.1-2.3 1.1-1.4 1.1 .4 1.1 .7 1.2 .2 1.1 .6 1.1 .1 1.1 .8 1.1 0 1.2-1.6 1.1-.4 1.1-.8 1.1 .6 1.1 .2 1.2 2 1.1 1.5 1.1 .3 1.1-.1 1.1 .4 1.2 .6 1.1 1.1 1.1-.8"/>
<path stroke="#2262FF" d="M257 1285.5l1.1 .8 1.1 .7 1.2-.5 1.1-.2 1.1-.5 1.1-.4 1.1-.1 1.2-3 1.1-4.7 1.1 .2 1.1 1.9 1.1 1.7 1.2 3 1.1 3 1.1 .4 1.1-.5 1.1-.6 1.2-1.5 1.1-1.9 1.1 2.4 1.1 2.2 1.1 0 1.2-2.2 1.1-.9 1.1-.6 1.1-1.4 1.1-1.3 1.2-1.5 1.1-.8 1.1 2.4 1.1 2.7 1.1-2.4 1.2-2.8 1.1-1.1 1.1 .1 1.1 1.6 1.1 0 1.2 .3 1.1 .2 1.1-1.5 1.1-.5 1.1-.8 1.2 0 1.1 0 1.1 1.1 1.1 0 1.1-1 1.2-1.3 1.1 3 1.1 3.4 1.1 .6 1.1 .5 1.2-.4 1.1 .7 1.1 .6 1.1-.9 1.1 0 1.2-.6 1.1-1.6 1.1-1.6 1.1 1.3 1.1 .7 1.2 1.5 1.1 0 1.1 .6 1.1 3.6 1.1 3.5 1.2 .3 1.1-1.7 1.1-1.1 1.1-1.8 1.1-2.8 1.2-1.6 1.1-.8 1.1 1.1 1.1 .9 1.1 1.2 1.2-1.5 1.1-.8 1.1 .2 1.1 1 1.1 .9 1.2 1.2 1.1 1.9 1.1-2.6 1.1-2.6 1.1-2.1 1.2-.2 1.1-.7 1.1 3.2 1.1 3.6 1.1-1 1.2-2.6 1.1-2 1.1 2.5 1.1 2 1.1-.2 1.2-1.3 1.1-1.4 1.1-.4 1.1-.9 1.1 .3 1.2-1.1 1.1-.6 1.1-2.2 1.1-1.2 1.1 2.8 1.2 2.1 1.1 1.9 1.1 1.4 1.1 .1 1.1-2.5 1.2-1.2 1.1-2.9 1.1-1.9 1.1-.9 1.1 2.2 1.2 2 1.1 .3 1.1 1.7 1.1 1.3 1.1 .7 1.2 .1 1.1-3.3 1.1-4.1 1.1-1.1 1.1 .5 1.2 1.3 1.1 1.2 1.1 2.2 1.1-1.7 1.1-1 1.2-.6 1.1 .7 1.1 1.4 1.1 2.8 1.1 3 1.2-.6 1.1-.1 1.1-1.4 1.1-.6 1.1-.7 1.2 1.6 1.1 1.5 1.1-1.2 1.1-2.3 1.1-1.1 1.2-2.2 1.1-2 1.1-1.1 1.1 0 1.1 1 1.2 2.1 1.1 2.4 1.1 1 1.1 1.1 1.1 0 1.2-.4 1.1-.7 1.1 1.4 1.1 2.1 1.1 .4 1.2 .7 1.1-.3 1.1-2.9 1.1-3 1.1 0 1.2 1.3 1.1 .1 1.1-3.1 1.1-2.2 1.1-.9 1.2 .5 1.1 .6 1.1 1.4 1.1 1.6 1.1 .4 1.2 0 1.1 .7 1.1 .3 1.1-1.3 1.1-1.9 1.2-1.3 1.1 1 1.1 1.4 1.1 .9 1.1 0 1.2-.4 1.1-1.6 1.1-2.4 1.1-1.5 1.1-1.3 1.2 .2 1.1 1.3 1.1 .9 1.1-.6 1.1-.6 1.2 .1 1.1 0 1.1 .6 1.1 1.5 1.1 2.2 1.2-.6 1.1 .2 1.1-1.2 1.1 0 1.1 .7 1.2 .4 1.1 0 1.1-2.9 1.1-3.5 1.1-3.3 1.2-.7 1.1-.5 1.1 1.5 1.1 .1 1.1 1.1 1.2 1 1.1 .3 1.1 .8 1.1-.3 1.1 0 1.2 .8 1.1 .2 1.1 1.2 1.1 1 1.1 1.3 1.2 1.6 1.1 .8 1.1-1.3 1.1-1.2 1.1-.8 1.2 .1 1.1-.3 1.1-2 1.1-1.1 1.1-.1 1.2 .1 1.1 1 1.1 .5 1.1 1.4 1.1 1.9 1.2 2.3 1.1 .6 1.1 0 1.1-.4 1.1-1.3 1.2-2.5 1.1-.1 1.1-.1 1.1-1.3 1.1-2.2 1.2-2 1.1 2.3 1.1 1.6 1.1 2.4 1.1 0 1.2 .2 1.1 .5 1.1 .5 1.1 0 1.1-1.1 1.2-.1 1.1-.1 1.1 .8 1.1-1.7 1.1 .3 1.2-1.1 1.1-.5 1.1 .5 1.1 .1 1.1-.1 1.2 2.3 1.1 2.9 1.1 1.4 1.1 .4 1.1 0 1.2-3.2 1.1-4 1.1-2.8 1.1-2.6 1.1-1.3 1.2 2.3 1.1 1.5 1.1 1.7 1.1 2.2 1.1 .9 1.2-2.1 1.1-1.2 1.1-.7 1.1-.4 1.1 .7 1.2 2.6 1.1 2 1.1-1.8 1.1-2 1.1 .7 1.2 1.3 1.1 1 1.1-.5 1.1 .7 1.1-.3 1.2-.4 1.1-1.3 1.1 .5 1.1-.2 1.1 1.1 1.2 .3 1.1-.4 1.1-.3 1.1-1 1.1-.1 1.2-.2 1.1 2.2 1.1 2.7 1.1 2 1.1-.9 1.2-.2 1.1-.7 1.1-1.3 1.1 .5 1.1 .7 1.2 .8 1.1 1 1.1 1.2 1.1-2 1.1-1.1 1.2-.8 1.1 2.1 1.1 2.4 1.1-.3 1.1-.9 1.2 1.1 1.1-1.2 1.1 .5 1.1 .7 1.1 1.8 1.2-2.6 1.1-2 1.1-2 1.1 1.7 1.1 2.2 1.2 1.1 1.1 1 1.1-1.4 1.1-2.6 1.1-1.8 1.2 .1 1.1 .6 1.1 .8 1.1 .7 1.1 .2 1.2-1.8 1.1-.9 1.1-1 1.1-.5 1.1-.5 1.2-.1 1.1 .7 1.1 1.4 1.1 1.5 1.1 .9 1.2 .9 1.1 .3 1.1-1.6 1.1-2.4 1.1 1.3 1.2-.8 1.1-1.5 1.1-1.3 1.1-1.7 1.1 .9 1.2-.3 1.1 .8 1.1 .9 1.1 .9 1.1 .4 1.2-.4 1.1 1.7 1.1 2.6 1.1 1 1.1-2.1 1.2-2.4 1.1-1 1.1-1.8 1.1 1.2 1.1 3.6 1.2 1.9 1.1-.9 1.1-1.2 1.1-.4 1.1 .6 1.2-.9 1.1 .3 1.1-.7 1.1 2.7 1.1 3.8 1.2-.3 1.1-2.9 1.1-2.8 1.1-.4 1.1-1.4 1.2 1.1 1.1 1.1 1.1 .7 1.1 2.6 1.1 .9 1.2 .4 1.1-.9 1.1-1.4 1.1-2 1.1-1.3 1.2 0 1.1 .3 1.1 1.3 1.1 2.2 1.1 1.6 1.2-.4 1.1-1.1 1.1 3.2 1.1 3.1 1.1 1.9 1.2-1.4 1.1-1.6 1.1-2 1.1-1.9 1.1-.8 1.2-.9 1.1-.4 1.1-.4 1.1-.2 1.1 2.2 1.2 2.6 1.1 .7 1.1-.5 1.1 .4 1.1-1.8 1.2-.7 1.1-1.3 1.1-1.3 1.1-2.5 1.1 .6 1.2-.6 1.1-.4 1.1 .3 1.1-.7 1.1 0 1.2 0 1.1-.8 1.1 1.1 1.1-.5 1.1 1 1.2 0 1.1 1.5 1.1 .3 1.1 .5 1.1-.5 1.2 .7 1.1 2.8 1.1 2.3 1.1-1.9 1.1-3 1.2-2.2 1.1-1.7 1.1-2.3 1.1 1.5 1.1 1.9 1.2 .5 1.1 1.6 1.1 .1 1.1-2.1 1.1-2.1 1.2 .5 1.1 1 1.1 .4 1.1-.3 1.1 .5 1.2 0 1.1-.2 1.1 1.6 1.1 2.8 1.1 2.8 1.2-.2 1.1 .4 1.1-1.1 1.1-.9 1.1-.2 1.2-.3 1.1 .6 1.1-2.4 1.1-1.5 1.1-1.6 1.2 0 1.1 .4 1.1-1.9 1.1-2.4 1.1-.3 1.2 .9 1.1 .7 1.1 2.1 1.1 2.6 1.1 .2 1.2 .3 1.1 1.4 1.1 2.6 1.1 1.4 1.1-.6 1.2-1.6 1.1-.6 1.1 0 1.1-1.4 1.1-1.8 1.2-1.8 1.1 .7 1.1 1.9 1.1 .3 1.1 .6 1.2 1.7 1.1-1.6 1.1-.7 1.1-1.7 1.1-.2 1.2-1.1 1.1-1.6 1.1-2.1 1.1-.3 1.1-.9 1.2-1.5 1.1 .8 1.1 1.3 1.1 .4 1.1 .4 1.2 .8 1.1 .5 1.1 .7 1.1-.3 1.1 .3 1.2 .3 1.1 .9 1.1 .3 1.1 .1 1.1-.7 1.2 2.9 1.1 2 1.1 1.5 1.1 1.9 1.1 1.1 1.2-1.7 1.1-.7 1.1-2 1.1-2 1.1-1 1.2 .4 1.1 1 1.1-1.2 1.1-.9 1.1 .6 1.2 1.1 1.1 1.5 1.1 .4 1.1-.2 1.1-.2 1.2-.6 1.1-1 1.1-2.3 1.1-1.3 1.1-1.1 1.2-.4 1.1-.3 1.1 .6 1.1 .6 1.1 .9 1.2 .9 1.1 1.3 1.1 1.9 1.1-1.8 1.1-4.4 1.2-2.3 1.1 1.1 1.1 4.3 1.1 2.1 1.1 0 1.2-2.8 1.1-5.7 1.1-2.4 1.1-.1 1.1 2.1 1.2 4.3 1.1 1.5 1.1-.9 1.1-6.8 1.1-8.4 1.2-3.5 1.1-2.1 1.1 3.4 1.1 7.1 1.1 2.6 1.2-1.3 1.1-9.8 1.1-5.3 1.1-1.2 1.1 4.4 1.2 10.3 1.1 6.5 1.1 1.4 1.1-5.6 1.1-13.2 1.2-9.3 1.1-1.3 1.1 3.7 1.1 11.4 1.1 6.6 1.2 .7 1.1-6.6 1.1-14.6 1.1-7.9 1.1-.1 1.2 3.6 1.1 16.9 1.1 10.7 1.1 1.5 1.1-6.1 1.2-16.6 1.1-13.7 1.1-4.6 1.1 4.4 1.1 18.4 1.2 17.6 1.1 6.1 1.1-7.6 1.1-18.2 1.1-18.7 1.2-5 1.1 4.2 1.1 13.3 1.1 21 1.1 10.1 1.2 .1 1.1-13.4 1.1-26.1 1.1-12.2 1.1 1.4 1.2 12 1.1 24.7 1.1 12.2 1.1 0 1.1-11.6 1.2-27.2 1.1-15.8 1.1-4.4 1.1 7.9 1.1 23.2 1.2 18.3 1.1 8.5 1.1-2.3 1.1-18.1 1.1-26 1.2-10.9 1.1 3.1 1.1 14.2 1.1 29.6 1.1 14.4 1.2 .7 1.1-14.3 1.1-31.5 1.1-19.4 1.1-6.6 1.2 7 1.1 22.9 1.1 25.7 1.1 9.6 1.1-3.5 1.2-19.2 1.1-32.3 1.1-13.6 1.1 3.1 1.1 15.8 1.2 30.2 1.1 17.4 1.1 5 1.1-6.6 1.1-21.5 1.2-28.7 1.1-11.8 1.1 1.6 1.1 14.5 1.1 29.2 1.2 14.6 1.1 .9 1.1-9.4 1.1-27.5 1.1-20.3 1.2-7.9 1.1 5.6 1.1 19.7 1.1 31.3 1.1 12.9 1.2-1.2 1.1-12.5 1.1-28.4 1.1-17 1.1-7.4 1.2 5 1.1 18.6 1.1 28.7 1.1 11.4 1.1-1.2 1.2-13.2 1.1-27.3 1.1-14.4 1.1-3.2 1.1 4.6 1.2 17.3 1.1 27.9 1.1 12.4 1.1 1 1.1-10.7 1.2-25.5 1.1-17.3 1.1-5 1.1 5 1.1 16.6 1.2 26.4 1.1 11.5 1.1 0 1.1-11.1 1.1-24.7 1.2-20.1 1.1-3 1.1 6 1.1 12.1 1.1 22.6 1.2 12.7 1.1 4.3 1.1-4.3 1.1-13.2 1.1-18.2 1.2-7.5 1.1 .4 1.1 7.4 1.1 14.5 1.1 9.9 1.2 3.8 1.1-1 1.1-7.2 1.1-12.4 1.1-5.6 1.2-.2 1.1 4.6 1.1 10.3 1.1 12.7 1.1 3.3 1.2-2.2 1.1-7 1.1-8.7 1.1-6.3 1.1-1.2 1.2 3.4 1.1 4.9 1.1 2.6 1.1 3 1.1 3.9 1.2 3.6 1.1 1.8 1.1-.2 1.1 .3 1.1 3.5 1.2 2.6 1.1 2.3 1.1-1 1.1-2 1.1 .8 1.2-3.2 1.1-7.5 1.1-11.6 1.1-9.2 1.1-3 1.2 .9 1.1 8.5 1.1 8 1.1 1.5 1.1-4.9 1.2-8.6 1.1-17 1.1-12.2 1.1-4.9 1.1 2.8 1.2 8.9 1.1 16.6 1.1 11.4 1.1 2.6 1.1-3.6 1.2-10.4 1.1-15.5 1.1-8.6 1.1-1.9 1.1 5.6 1.2 12.4 1.1 19.6 1.1 10.4 1.1 1.8 1.1-5.4 1.2-13.3 1.1-23.1 1.1-10.9 1.1-2.6 1.1 6.1 1.2 15.1 1.1 24.3 1.1 11 1.1 .5 1.1-7.4 1.2-14.1 1.1-22.9 1.1-12.2 1.1-2.8 1.1 5.9 1.2 17.4 1.1 26.4 1.1 13.3 1.1 5.5 1.1-5.9 1.2-15.8 1.1-26.3 1.1-13.3 1.1-3.7 1.1 7.1 1.2 15.5 1.1 27.8 1.1 14.3 1.1 4.9 1.1-7.2 1.2-18.5 1.1-30.4 1.1-18 1.1-10.1 1.1 8.7 1.2 19.2 1.1 28.9 1.1 12.5 1.1 4 1.1-3.5 1.2-12.9 1.1-24.4 1.1-13 1.1-4 1.1 3.6 1.2 12.6 1.1 23.3 1.1 14.3 1.1 5.9 1.1-1.7 1.2-10.7 1.1-21.3 1.1-16.1 1.1-9.4 1.1-2.1 1.2 6.8 1.1 17.9 1.1 22.9 1.1 10.3 1.1 2.6 1.2-8 1.1-17.7 1.1-26.4 1.1-13.1 1.1-3.4 1.2 5.1 1.1 13.8 1.1 23.3 1.1 11.3 1.1 4.3 1.2-2.6 1.1-8.6 1.1-21.6 1.1-15.8 1.1-8 1.2-2 1.1 3.7 1.1 15 1.1 17.2 1.1 7.5 1.2-.1 1.1-8.2 1.1-13.4 1.1-20.9 1.1-11.3 1.2-7.4 1.1-1.9 1.1 10.3 1.1 21 1.1 11.8 1.2 3.7 1.1-2.3 1.1-9.1 1.1-18.6 1.1-16 1.2-8.6 1.1-3.1 1.1 4.3 1.1 9.9 1.1 15.3 1.2 7.8 1.1 3 1.1-.3 1.1-5.8 1.1-13.3 1.2-7.4 1.1-4.2 1.1-.8 1.1 3.6 1.1 11.7 1.2 13.9 1.1 5.1 1.1 .7 1.1-3.8 1.1-9.7 1.2-14.2 1.1-7.4 1.1-3.1 1.1 .8 1.1 3.9 1.2 10 1.1 13.9 1.1 8.4 1.1-.3 1.1-5.2 1.2-9.2 1.1-12.5 1.1-6.2 1.1-1.1 1.1 2.4 1.2 5.7 1.1 7.6 1.1 7.5 1.1 3.9 1.1 .7 1.2-1.8 1.1-4 1.1-8.5 1.1-3.4 1.1 .3 1.2 3.2 1.1 5.7 1.1 8.8 1.1 8.3 1.1 4.4 1.2-.4 1.1-2.8 1.1-5.4 1.1-9.5 1.1-4.4 1.2 1 1.1 1.3 1.1 6.9 1.1 8.7 1.1 6.7 1.2 2.1 1.1 .4 1.1-2.6 1.1-4.1 1.1-5.1 1.2-1.2 1.1 1.2 1.1 3.7 1.1 5.8 1.1 6.1 1.2 6.1 1.1 3 1.1-2.9 1.1-3.2 1.1-1.1 1.2-2 1.1-1.3 1.1-2.2 1.1-.1 1.1 .3 1.2 .3 1.1 3.8 1.1 3.2 1.1 1.7 1.1-.1 1.2-1.7 1.1-.7 1.1-.1 1.1-1 1.1-.5 1.2-.8 1.1-.9 1.1-.5 1.1 1.4 1.1 2.8 1.2 1.4 1.1 2.7 1.1 2.7 1.1-1 1.1-.6 1.2 .4 1.1 .8 1.1 .8 1.1-3.3 1.1-2.4 1.2-.7 1.1 .9 1.1 1.2 1.1-.4 1.1-1 1.2 1 1.1 1.7 1.1-.2 1.1 .3 1.1 .1 1.2 2.2 1.1 3.6 1.1 .1 1.1 .6 1.1-.8 1.2 .8 1.1 .8 1.1-1.9 1.1-2.1 1.1-3.1 1.2-3 1.1-2.9 1.1 1.4 1.1 .8 1.1 .5 1.2 .4 1.1-.7 1.1 3.1 1.1 2.1 1.1 .2 1.2-1.3 1.1-1.6 1.1-.3 1.1-1.1 1.1 .1 1.2 1.7 1.1 .4 1.1 3.8 1.1 3 1.1-.9 1.2-.4 1.1-.8 1.1-.8 1.1-.4 1.1 .5 1.2 .1 1.1 0 1.1-1.5 1.1-.9 1.1-1 1.2-.1 1.1 2.7 1.1 2.8 1.1 .9 1.1-1.8 1.2-.2 1.1-.2 1.1 .1 1.1 1.4 1.1 1.5 1.2 2 1.1 .1 1.1 .9 1.1-.9 1.1 0 1.2-.3 1.1 1.5 1.1 .9 1.1-.3 1.1-.7 1.2 .6 1.1 1 1.1 .2 1.1-2.4 1.1-1.3 1.2-.6 1.1-.6 1.1 1.2 1.1 1.3 1.1 1.6 1.2 1.7 1.1 2.2 1.1 .2 1.1-1.3 1.1-1.7 1.2-1.1 1.1-.6 1.1-.3 1.1-1.1 1.1-.4 1.2 .5 1.1 .3 1.1 2 1.1 .5 1.1-.5 1.2-2.1 1.1-.8 1.1 1.2 1.1 .4 1.1 0 1.2 1.2 1.1-1 1.1-1.8 1.1-1.3 1.1-1.9 1.2-1.7 1.1 .3 1.1 2.5 1.1 3.1 1.1-.3 1.2-1.1 1.1-1.2 1.1-1.9 1.1-.7 1.1 2.5 1.2 1.7 1.1 3.2 1.1 2.4 1.1 .4 1.1-2.1 1.2-1.3 1.1 1.2 1.1 1.3 1.1-2.7 1.1-4.7 1.2-2.1 1.1 1 1.1 1.6 1.1-.4 1.1 .2 1.2-.4 1.1-1.3 1.1-1.8 1.1 .4 1.1 .8 1.2 .9 1.1 3.9 1.1 1.7 1.1-.8 1.1-.4 1.2-.8 1.1-.6 1.1-.2 1.1 4.5 1.1 2.8 1.2-.9 1.1 .7 1.1-.9 1.1-.5 1.1-1 1.2 .8 1.1 1 1.1-.3 1.1 .1 1.1 0 1.2 1 1.1 1.5 1.1-2.2 1.1-.9 1.1-.6 1.2 .7 1.1 .3 1.1 .5 1.1 .2 1.1-1.1 1.2-2.4 1.1-.4 1.1 .3 1.1-.2 1.1 2 1.2 1.8 1.1 .2 1.1-1.6 1.1-.8 1.1 1.4 1.2 1.4 1.1-1.2 1.1-1.9 1.1-1.9 1.1 1.4 1.2-.2 1.1 4.7 1.1 5.3 1.1 .6 1.1-4.6 1.2-3 1.1 .7 1.1 .8 1.1 2.5 1.1 4.7 1.2 2.6 1.1-1.4 1.1-2.2 1.1-1.6 1.1-1.7 1.2 .4 1.1 1.9 1.1 3.2 1.1 .1 1.1-.5 1.2 .7 1.1-.2 1.1-.6 1.1 .6 1.1 .6 1.2 .8 1.1 1.8 1.1 1.2 1.1 .6 1.1-.1 1.2-1.2 1.1-2 1.1 1 1.1 1.5 1.1 .7 1.2-2.4 1.1-2.9 1.1-2.5 1.1-1.7 1.1-.1 1.2 3.7 1.1 2.6 1.1 .9 1.1-.8 1.1-.2 1.2-1.8 1.1-1.3 1.1 .2 1.1 .1 1.1-.2 1.2-1.5 1.1 0 1.1 1.1 1.1 1.3 1.1-1.9 1.2-3.1 1.1-2.3 1.1 .6 1.1 1 1.1 2.2 1.2 2.7 1.1 .1 1.1-1.2 1.1-1.5 1.1-3.2 1.2-2.6 1.1 2.4 1.1 3.7 1.1 2.7 1.1 1.6 1.2 .7 1.1 0 1.1-.9 1.1 .3 1.1 .2 1.2 0 1.1 .1 1.1-.7 1.1 1.2 1.1 .8 1.2 .9 1.1 .8 1.1-.1 1.1 1.4 1.1 1 1.2-1 1.1-2.9 1.1-2.1 1.1 .2 1.1-.2 1.2 0 1.1 .2 1.1 .9 1.1-.1 1.1 .5 1.2-.6 1.1-.6 1.1 0 1.1 2.5 1.1 2.8 1.2 1.8 1.1 2.3 1.1-.4 1.1-2 1.1-1.4 1.2-2.2 1.1-2.2 1.1-1 1.1-1.4 1.1 .5 1.2 .6 1.1 1.6 1.1-.4 1.1 .9 1.1 .9 1.2 3.5 1.1 1.9 1.1 .2 1.1-.4 1.1 .3 1.2 0 1.1-.2 1.1-1 1.1 .2 1.1-2.5 1.2-1.5 1.1-.5 1.1 .8 1.1 .1 1.1-1.5 1.2-1.9 1.1-.6 1.1 .1 1.1-.2 1.1-.4 1.2-.1 1.1 1.7 1.1 2.1 1.1 .1 1.1-.3 1.2 .1 1.1 3.2 1.1 2.7 1.1-.3 1.1-1.8 1.2-3.1 1.1-2 1.1-2.8 1.1 1 1.1 1.4 1.2 1.4 1.1-.1 1.1-.3 1.1-.2 1.1 .7 1.2-.5 1.1-.3 1.1-.4 1.1-.6 1.1 .3 1.2 .4 1.1 .5 1.1-.2 1.1-2.6 1.1-3.3 1.2 1 1.1 .8 1.1 .8 1.1 .5 1.1 .5 1.2-2.7 1.1-2 1.1 1.9 1.1 2.9 1.1 3 1.2 3.4 1.1 3.3 1.1-1.2 1.1-1.7 1.1 0 1.2 2 1.1 .7 1.1-3.5 1.1-2.6 1.1-1.5 1.2-.6 1.1-.4 1.1 .5 1.1 1.2 1.1-.2 1.2-.6 1.1 0 1.1 .8 1.1 .4 1.1 .5 1.2 0 1.1-.6 1.1-.3 1.1-.3 1.1 1.7 1.2 2.5 1.1 1.5 1.1 1.8 1.1-.5 1.1-2.8 1.2-3 1.1-1.3 1.1-1 1.1-.7 1.1-1.8 1.2-.4 1.1 2.6 1.1 1.9 1.1 .9 1.1 .9 1.2-.1 1.1-.5 1.1 .2 1.1 1.2 1.1 1.6 1.2-.1 1.1-1.5 1.1-1.8 1.1-1 1.1-.8 1.2-.4 1.1-.2 1.1 1.2 1.1 1.6 1.1 1.4 1.2-.1 1.1-1.2 1.1-.4 1.1 .4 1.1 .3 1.2-.5 1.1 1 1.1-1 1.1-2.7 1.1-.3 1.2 .1 1.1 1.3 1.1 .9 1.1 .3 1.1 .5 1.2 1.7 1.1 .7 1.1-1.9 1.1-2 1.1-.6 1.2-.5 1.1 .8 1.1 2.7 1.1 1.3 1.1 1.6 1.2 .4 1.1-1 1.1-2.4 1.1-1.9 1.1 1.3 1.2 1 1.1 .7 1.1-1 1.1-.6 1.1-1.7 1.2-2.1 1.1 .3 1.1 .3 1.1 1.7 1.1 1.3 1.2 1.2 1.1-.5 1.1-.5 1.1-1.1 1.1-.2 1.2-.8 1.1 0 1.1-.6 1.1-.5 1.1-.8 1.2-.9 1.1 .1 1.1 .5 1.1 1 1.1 2.8 1.2 1.8 1.1 .6 1.1 1.3 1.1-3.3 1.1-2.1 1.2-.9 1.1 0 1.1 .2 1.1 .1 1.1-.5 1.2-.4 1.1-.9 1.1-.1 1.1 1.3 1.1 1.2 1.2 .8 1.1 2 1.1-.7 1.1 .7 1.1-.9 1.2 0 1.1 .6 1.1-.3 1.1 .1 1.1 .1 1.2 0 1.1-1.1 1.1 .4 1.1 .9 1.1 .6 1.2-1.4 1.1-1.1 1.1-1.3 1.1-1.9 1.1 .6 1.2 2.2 1.1 .8 1.1-.7 1.1-.1 1.1-.1 1.2 .1 1.1 .2 1.1-.7 1.1-.2 1.1 .4 1.2 .7 1.1 .7 1.1 1.3 1.1 0 1.1 .3 1.2-.5 1.1-.7 1.1-.5 1.1 .4 1.1 0 1.2 .3 1.1-.7 1.1-1.4 1.1 .4 1.1 1 1.2 .3 1.1-.6 1.1-1.6 1.1 .3 1.1-1.9 1.2 .8 1.1 1.3 1.1 1.9 1.1-1.1 1.1 .5 1.2-.2 1.1 1.5 1.1 1.2 1.1 .7 1.1 .9 1.2-1.1 1.1-.7 1.1-1.2 1.1 .2 1.1 .7 1.2-2.5 1.1-3.2 1.1-1.3 1.1 1 1.1 .9 1.2-.5 1.1 .8 1.1 1.7 1.1 1.6 1.1 1.6 1.2 .2 1.1 .1 1.1 .2 1.1 .2 1.1 1.1 1.2 1.8 1.1 1.9 1.1-1.5 1.1-2.6 1.1-1.5 1.2-1.3 1.1-1 1.1-.7 1.1-.8 1.1 .2 1.2 .7 1.1 1.3 1.1 2.5 1.1 2.6 1.1-1.2 1.2-1 1.1-.7 1.1 .6 1.1 .4 1.1-1.8 1.2-2.3 1.1-1 1.1-1 1.1 .8 1.1-.7 1.2-.7 1.1 3.3 1.1 3.2 1.1 .6 1.1-.4 1.2-.9 1.1-1.8 1.1-1.6 1.1-.4 1.1 .1 1.2 .3 1.1 2.6 1.1 2.1 1.1-2.6 1.1-1.8 1.2-.7 1.1 0 1.1 .8 1.1 2.7 1.1 2.8 1.2-1.3 1.1-2.6 1.1-1.2 1.1-2.1 1.1-.8 1.2 0 1.1-.9 1.1 .5 1.1 1.9 1.1 1 1.2-.4 1.1-1 1.1-2.4 1.1-2.8 1.1-.7 1.2 2.6 1.1 2.6 1.1 1.8"/>
<path stroke="#1133FF" d="M257 1371.1l1.1 1.6 1.1 1.2 1.2 .2 1.1 .1 1.1-.4 1.1-.9 1.1-.8 1.2-.8 1.1-.2 1.1 .3 1.1 .6 1.1-.2 1.2-.2 1.1-.9 1.1 1.1 1.1 .9 1.1 0 1.2 .7 1.1-.1 1.1 .7 1.1-.2 1.1 .6 1.2 .6 1.1 .1 1.1-1.6 1.1-1.9 1.1-.4 1.2 .3 1.1 .4 1.1-.1 1.1 .4 1.1-.2 1.2 .8 1.1 .6 1.1-.4 1.1-.9 1.1 1.8 1.2 .5 1.1-.5 1.1-.4 1.1-1.2 1.1 1.2 1.2 0 1.1-.2 1.1 0 1.1 .1 1.1 .4 1.2 .8 1.1-1.1 1.1 0 1.1-1 1.1-1.4 1.2 .1 1.1-.3 1.1 .3 1.1 .1 1.1 .3 1.2 .6 1.1 .1 1.1-.8 1.1 .2 1.1 .2 1.2-.1 1.1 .7 1.1-.4 1.1-.4 1.1-1 1.2 .6 1.1 .4 1.1 1.3 1.1 .7 1.1 .1 1.2-1.1 1.1-.7 1.1-.6 1.1 .3 1.1 .2 1.2 .9 1.1 2.3 1.1 .8 1.1-1.3 1.1 .3 1.2-.7 1.1 0 1.1-.9 1.1 .2 1.1 .4 1.2-.2 1.1 .5 1.1 .2 1.1-1.7 1.1 1 1.2 .3 1.1 1.1 1.1-1.6 1.1-1.1 1.1 0 1.2 .6 1.1-.5 1.1 0 1.1-.3 1.1-.1 1.2-.4 1.1-1.3 1.1-.6 1.1-.6 1.1 1.2 1.2 .4 1.1 .1 1.1 1.2 1.1 .5 1.1-1.1 1.2-.9 1.1-.9 1.1-1.2 1.1 .2 1.1 2.2 1.2 1.2 1.1 .1 1.1-.8 1.1 .6 1.1 0 1.2 .3 1.1 .7 1.1 .4 1.1-.6 1.1 .9 1.2 1.1 1.1-.9 1.1-.7 1.1-.2 1.1-.5 1.2-.7 1.1-.8 1.1-.9 1.1 1.4 1.1 .5 1.2-.1 1.1 .6 1.1-.3 1.1-.2 1.1-.6 1.2 .6 1.1-.5 1.1-.6 1.1 .2 1.1-.2 1.2 1 1.1 .5 1.1 .6 1.1 1.2 1.1-.4 1.2-.2 1.1-1 1.1 .2 1.1-1 1.1-.3 1.2-.4 1.1 0 1.1 .3 1.1-.3 1.1 .4 1.2 .8 1.1 .7 1.1-.2 1.1 0 1.1-1.7 1.2-.2 1.1-.7 1.1-.8 1.1-.4 1.1 1.1 1.2 .6 1.1 .3 1.1-1 1.1-.5 1.1 0 1.2-.6 1.1 .1 1.1 .7 1.1 .3 1.1-.6 1.2-1.1 1.1 0 1.1 .6 1.1 .2 1.1-.3 1.2 .6 1.1-1 1.1 .2 1.1-.5 1.1-.3 1.2-.4 1.1 .1 1.1-.7 1.1-.4 1.1 .3 1.2 .2 1.1 .4 1.1 .1 1.1-.9 1.1-.7 1.2-.2 1.1-.7 1.1 .5 1.1 1.9 1.1 1.5 1.2 .2 1.1-1 1.1 0 1.1-.2 1.1-.2 1.2-.6 1.1-.8 1.1-.2 1.1-.7 1.1-1 1.2-.4 1.1-.9 1.1 .9 1.1 .6 1.1-.6 1.2 1.1 1.1 0 1.1-.3 1.1 0 1.1 .3 1.2 .3 1.1 .8 1.1 1 1.1 1 1.1 .2 1.2-.5 1.1-1.4 1.1-1.3 1.1-1.7 1.1-.5 1.2 .1 1.1 .1 1.1 1 1.1 1.1 1.1 .3 1.2-.3 1.1 .8 1.1 .9 1.1 0 1.1 .1 1.2-.3 1.1-.2 1.1-.6 1.1 1.2 1.1-.1 1.2-1.2 1.1 .3 1.1-.1 1.1-.2 1.1-.1 1.2 .7 1.1 .7 1.1 .5 1.1-.8 1.1-.8 1.2-.5 1.1 .5 1.1 .1 1.1 .6 1.1 1.2 1.2 .1 1.1-.6 1.1-.6 1.1 0 1.1-.5 1.2 .3 1.1-.6 1.1-.1 1.1 .4 1.1-.2 1.2 .9 1.1-.2 1.1-.1 1.1 .6 1.1-.9 1.2-.2 1.1 .4 1.1-.2 1.1-.1 1.1 0 1.2 0 1.1-.5 1.1-.1 1.1-.2 1.1 .1 1.2 .4 1.1 .3 1.1 .1 1.1 .6 1.1-.7 1.2 .6 1.1-.2 1.1 .3 1.1-.1 1.1-.6 1.2-.6 1.1-1 1.1-.4 1.1-.2 1.1 1 1.2 .6 1.1 1.4 1.1 .7 1.1 .3 1.1-.3 1.2 0 1.1 .2 1.1-.4 1.1-.6 1.1-.9 1.2-1 1.1 .4 1.1 .7 1.1-.2 1.1-.2 1.2-.9 1.1-.4 1.1-1 1.1 .8 1.1 .5 1.2 .9 1.1 .4 1.1-.2 1.1 .9 1.1 .5 1.2-.2 1.1 .8 1.1-.1 1.1-.3 1.1 .3 1.2 .4 1.1 1.2 1.1-.3 1.1-.8 1.1-2 1.2-1.7 1.1-1 1.1-.2 1.1 .7 1.1 .5 1.2 .2 1.1 1.6 1.1-.6 1.1-.5 1.1-.3 1.2 .1 1.1 1.3 1.1-.2 1.1 .7 1.1-.5 1.2 .4 1.1-.4 1.1-.1 1.1-.2 1.1-.9 1.2 .6 1.1 .7 1.1-.1 1.1-.4 1.1-.5 1.2-1.3 1.1-.1 1.1 0 1.1 .8 1.1 .3 1.2-.2 1.1 0 1.1 .2 1.1-.2 1.1-.6 1.2-.9 1.1 .1 1.1 .6 1.1-.2 1.1 .8 1.2 .1 1.1 .5 1.1 .7 1.1 .1 1.1 .5 1.2 .5 1.1-.8 1.1 .8 1.1-1.1 1.1-.6 1.2-.9 1.1 .6 1.1-.3 1.1 .9 1.1 .8 1.2 .1 1.1-.4 1.1-.1 1.1 .4 1.1 .1 1.2-.1 1.1-.2 1.1 .3 1.1 1.1 1.1-.1 1.2-.3 1.1-1.2 1.1-.3 1.1 1.2 1.1 .4 1.2-2.1 1.1-1.2 1.1 0 1.1 .6 1.1 .7 1.2-.1 1.1 .9 1.1-.6 1.1 .9 1.1 .2 1.2 .4 1.1 .3 1.1-.9 1.1-.7 1.1-.3 1.2-1.5 1.1 .4 1.1 .6 1.1 1.5 1.1-.5 1.2-1.1 1.1-1 1.1 .1 1.1 .1 1.1-.3 1.2-.7 1.1 .6 1.1 .3 1.1 .1 1.1 .8 1.2 .3 1.1-.4 1.1 .4 1.1-.6 1.1 1.1 1.2 .1 1.1-.7 1.1-1.2 1.1 .2 1.1-.6 1.2-.1 1.1-.8 1.1-.5 1.1-.1 1.1 .9 1.2-1 1.1 .9 1.1-.1 1.1 .6 1.1 .7 1.2 .7 1.1-.9 1.1 .1 1.1-.4 1.1-.6 1.2 .1 1.1-.4 1.1-.5 1.1 1 1.1 0 1.2 .2 1.1 .3 1.1-.5 1.1 .3 1.1-.3 1.2 1.2 1.1 .1 1.1 0 1.1-.7 1.1-.3 1.2-.4 1.1 1.2 1.1-.7 1.1 .5 1.1-.2 1.2-.1 1.1-.5 1.1-.1 1.1 .7 1.1-.1 1.2-1.3 1.1-1.1 1.1 0 1.1-1.2 1.1 .4 1.2 0 1.1 0 1.1 1.4 1.1 1.6 1.1 .2 1.2 1.1 1.1 0 1.1 .7 1.1 .2 1.1-.8 1.2 .4 1.1-.4 1.1 .5 1.1 .5 1.1 .1 1.2-.9 1.1-.2 1.1-1.1 1.1-.3 1.1 .4 1.2 .6 1.1 .1 1.1-.6 1.1-.9 1.1-1.4 1.2-.3 1.1 .1 1.1 1.3 1.1 .9 1.1 .5 1.2 .5 1.1-.5 1.1-.1 1.1-1.1 1.1 .2 1.2-1.4 1.1 .2 1.1 1 1.1 1.1 1.1 .7 1.2 .7 1.1-1.1 1.1-1 1.1 0 1.1-.3 1.2-1.2 1.1-1 1.1-1.3 1.1-.5 1.1-.8 1.2 3.2 1.1 2.9 1.1 .8 1.1-.8 1.1-.1 1.2-1.4 1.1-1.3 1.1 .4 1.1 .3 1.1 0 1.2 .8 1.1 0 1.1 1.1 1.1 .5 1.1 0 1.2-.4 1.1-.7 1.1 .1 1.1-.7 1.1 0 1.2-1.3 1.1 .1 1.1 0 1.1-.4 1.1 .9 1.2 1.5 1.1 1.1 1.1 1 1.1-1.8 1.1-3.1 1.2-1.1 1.1-1.1 1.1 2.7 1.1 .5 1.1 1 1.2-2.7 1.1-6.1 1.1-3.4 1.1-.7 1.1 4 1.2 4.9 1.1 1.1 1.1-2.5 1.1-6.9 1.1-5.8 1.2-2.2 1.1 .7 1.1 6.3 1.1 6.6 1.1 1.6 1.2-3.1 1.1-9.6 1.1-7.2 1.1-1.6 1.1 4 1.2 11.1 1.1 7.8 1.1 1.7 1.1-4.5 1.1-14.6 1.2-7.3 1.1-1.2 1.1 4.4 1.1 12.5 1.1 7.4 1.2 1.7 1.1-5.9 1.1-14.5 1.1-10.2 1.1-2.1 1.2 4.8 1.1 15.4 1.1 11.3 1.1 3.4 1.1-4.6 1.2-16.6 1.1-12.4 1.1-4.9 1.1 4 1.1 16.5 1.2 15 1.1 5.3 1.1-4.1 1.1-14.6 1.1-19.8 1.2-7.2 1.1 2.9 1.1 12.5 1.1 20.7 1.1 7.3 1.2-2.2 1.1-13.6 1.1-24.6 1.1-10.7 1.1 1.1 1.2 12.2 1.1 24.6 1.1 12.3 1.1 3 1.1-9.3 1.2-23.9 1.1-16.6 1.1-4.7 1.1 6.3 1.1 22.1 1.2 18.8 1.1 6.6 1.1-6 1.1-19 1.1-28.2 1.2-11.2 1.1 1 1.1 14.8 1.1 31.3 1.1 15.9 1.2 .2 1.1-12 1.1-32.5 1.1-22.3 1.1-8 1.2 8 1.1 26.6 1.1 30.1 1.1 8.7 1.1-4.8 1.2-20.6 1.1-36.7 1.1-16.2 1.1 .4 1.1 16.2 1.2 36.3 1.1 22.5 1.1 5.6 1.1-10.1 1.1-27.4 1.2-33.4 1.1-11.3 1.1 3 1.1 18.9 1.1 36.9 1.2 17.2 1.1 2.2 1.1-12.1 1.1-33.8 1.1-24.2 1.2-8.4 1.1 6.8 1.1 21.7 1.1 36.3 1.1 14.5 1.2 .3 1.1-14.4 1.1-33.9 1.1-21.2 1.1-7.3 1.2 6.7 1.1 21.6 1.1 33.5 1.1 14.2 1.1-.2 1.2-13.9 1.1-32.9 1.1-20.2 1.1-6.5 1.1 6.3 1.2 20.5 1.1 32 1.1 13.1 1.1-.1 1.1-10.8 1.2-29.2 1.1-18.7 1.1-5.5 1.1 4.7 1.1 16.2 1.2 28.1 1.1 13.6 1.1 1.5 1.1-10.5 1.1-24.9 1.2-20.6 1.1-7.8 1.1 2.5 1.1 15.4 1.1 27.9 1.2 14.7 1.1 3 1.1-6.8 1.1-14.2 1.1-23.8 1.2-8.1 1.1 1.6 1.1 10.7 1.1 21.1 1.1 15.5 1.2 6.1 1.1-2.6 1.1-10.8 1.1-19.5 1.1-9.5 1.2-1.8 1.1 5.6 1.1 12.2 1.1 19 1.1 7.7 1.2 .5 1.1-5.8 1.1-11.5 1.1-9.7 1.1-2.7 1.2 2.9 1.1 3.7 1.1 4.4 1.1 3.1 1.1 4.3 1.2 2.6 1.1 1.5 1.1 .4 1.1 1.1 1.1-.7 1.2 0 1.1-.2 1.1-1 1.1-.6 1.1-1.6 1.2-5.6 1.1-8.1 1.1-8.6 1.1-7.4 1.1-.7 1.2 3.3 1.1 9.2 1.1 7.9 1.1 2.7 1.1-3 1.2-8.8 1.1-14.8 1.1-9.8 1.1-4.7 1.1 1.7 1.2 8.3 1.1 16.6 1.1 10.1 1.1 2.4 1.1-2.8 1.2-10.8 1.1-19.2 1.1-10.3 1.1-1.8 1.1 5.4 1.2 12.6 1.1 20.9 1.1 11 1.1 1.6 1.1-5.9 1.2-13.5 1.1-22.6 1.1-12 1.1-2.1 1.1 5.2 1.2 14.8 1.1 23.6 1.1 10.7 1.1 2.7 1.1-6.7 1.2-15.8 1.1-26 1.1-11.7 1.1-1.6 1.1 6.6 1.2 17.3 1.1 26.5 1.1 12.9 1.1 2 1.1-6.7 1.2-15.8 1.1-27.2 1.1-14.7 1.1-5.2 1.1 5.5 1.2 16.3 1.1 28.1 1.1 15.3 1.1 5.5 1.1-6.8 1.2-16.8 1.1-29.7 1.1-15.5 1.1-5.9 1.1 5.7 1.2 16.2 1.1 29.1 1.1 16.9 1.1 6.8 1.1-4.9 1.2-14.5 1.1-29 1.1-17.6 1.1-6.9 1.1 4.2 1.2 13.9 1.1 27.4 1.1 19 1.1 7 1.1-2.8 1.2-10.8 1.1-25.3 1.1-20.3 1.1-9 1.1 0 1.2 9.8 1.1 18.3 1.1 22.2 1.1 11.4 1.1 2 1.2-7 1.1-17.1 1.1-26.8 1.1-12.9 1.1-3.6 1.2 5.5 1.1 15 1.1 25.9 1.1 13 1.1 2.6 1.2-3.9 1.1-12.1 1.1-25.9 1.1-16.4 1.1-7.3 1.2-.2 1.1 7.9 1.1 17.9 1.1 18.7 1.1 8.1 1.2-1.3 1.1-7.6 1.1-15.6 1.1-22.6 1.1-10.8 1.2-2.8 1.1 4 1.1 8.3 1.1 16.4 1.1 8.9 1.2 2.9 1.1-3.1 1.1-8.5 1.1-16.1 1.1-14.5 1.2-7.7 1.1-1.3 1.1 5.3 1.1 10.6 1.1 15.5 1.2 8.6 1.1 2.1 1.1-3.4 1.1-8.3 1.1-15.4 1.2-8.2 1.1-3.3 1.1 1.8 1.1 6.3 1.1 10.3 1.2 13.3 1.1 6 1.1 1 1.1-3.5 1.1-7.3 1.2-12.5 1.1-8.8 1.1-3.5 1.1 .8 1.1 6.5 1.2 11.1 1.1 9.1 1.1 4.7 1.1 1.3 1.1-3.6 1.2-6.3 1.1-9.9 1.1-4.2 1.1-2.6 1.1 .8 1.2 5.2 1.1 9.4 1.1 6.7 1.1 3.2 1.1 .4 1.2-2.2 1.1-5.6 1.1-8.7 1.1-3.4 1.1-1.5 1.2 1.9 1.1 4.2 1.1 8.1 1.1 6 1.1 3 1.2 1.3 1.1-2.2 1.1-3.6 1.1-7 1.1-2.8 1.2-1.2 1.1 1.3 1.1 3.9 1.1 5.9 1.1 5.9 1.2 2.3 1.1 1.4 1.1-1.4 1.1-2.7 1.1-3.7 1.2-2.3 1.1 .2 1.1 1.2 1.1 2.5 1.1 3.9 1.2 5.1 1.1 2.9 1.1 2.8 1.1 1.1 1.1-.7 1.2-2 1.1-1.7 1.1-.3 1.1 .7 1.1 1.4 1.2 1.6 1.1 4.1 1.1 4.1 1.1 2.1 1.1-.2 1.2-1.8 1.1 .1 1.1-.2 1.1 .6 1.1-.3 1.2 .3 1.1 .5 1.1 1 1.1 .9 1.1 .5 1.2 .4 1.1-.3 1.1-.3 1.1 .4 1.1 .6 1.2 1 1.1-.8 1.1-.8 1.1 .3 1.1 .1 1.2 .1 1.1 .3 1.1 1.1 1.1 .5 1.1-.2 1.2-.1 1.1 0 1.1 .4 1.1 .4 1.1-1.4 1.2 1.1 1.1-.1 1.1-.5 1.1-.7 1.1-.9 1.2-.8 1.1-.6 1.1 1 1.1 1 1.1 1.1 1.2 .6 1.1 .4 1.1-.1 1.1 .3 1.1-.2 1.2-.1 1.1-.7 1.1-.2 1.1 .5 1.1-.2 1.2-.2 1.1-.4 1.1-.4 1.1-1.3 1.1 .9 1.2 1.1 1.1-.2 1.1 .9 1.1 .1 1.1-.4 1.2-.2 1.1 .2 1.1 .1 1.1 .2 1.1 .4 1.2-.8 1.1 .1 1.1-.5 1.1 1 1.1 .2 1.2 .4 1.1 .9 1.1 .7 1.1 .4 1.1 .5 1.2 .9 1.1-.5 1.1-.8 1.1-.1 1.1 0 1.2 .1 1.1 .3 1.1 1.4 1.1-1 1.1 .7 1.2-.1 1.1 .1 1.1 .1 1.1 .2 1.1-.2 1.2-.2 1.1-1.1 1.1-.5 1.1 .4 1.1 1.6 1.2-.4 1.1 .6 1.1-.6 1.1 0 1.1-.3 1.2 .9 1.1 .3 1.1-.4 1.1 1.6 1.1-.7 1.2-1.3 1.1-.6 1.1 0 1.1-.2 1.1 .1 1.2 0 1.1-1.2 1.1 .7 1.1-.1 1.1 .4 1.2-.2 1.1 .2 1.1-.3 1.1-.9 1.1 .3 1.2 .1 1.1-.6 1.1-.5 1.1-1.2 1.1-.5 1.2-.4 1.1-1.3 1.1-.8 1.1-.9 1.1-.8 1.2-1.8 1.1 .2 1.1 1.1 1.1-.1 1.1 1.7 1.2 .5 1.1 .4 1.1 0 1.1-.2 1.1 .1 1.2 0 1.1-.7 1.1 .5 1.1 .6 1.1 2 1.2 1.9 1.1-1 1.1 .8 1.1 0 1.1 0 1.2 .2 1.1-.4 1.1-.9 1.1 0 1.1 .2 1.2-.4 1.1-.5 1.1 .1 1.1-.3 1.1-.1 1.2 .9 1.1 1.8 1.1 .2 1.1-1.5 1.1-2 1.2 .7 1.1 .1 1.1 .2 1.1-.2 1.1 .7 1.2-.7 1.1-.2 1.1-.6 1.1-.8 1.1-.3 1.2-.3 1.1-.8 1.1 .4 1.1 0 1.1 .2 1.2-.8 1.1-.1 1.1 .1 1.1-.3 1.1 .8 1.2 .9 1.1-.1 1.1 1.3 1.1 1.4 1.1-.2 1.2 0 1.1-.3 1.1 .7 1.1 0 1.1 .2 1.2 .4 1.1-.2 1.1-.2 1.1 .6 1.1 .1 1.2 .8 1.1 .2 1.1 1.6 1.1-.4 1.1 1.5 1.2 1.9 1.1 .4 1.1 1.3 1.1 .6 1.1 .2 1.2 0 1.1-.2 1.1-.3 1.1 .9 1.1 1.1 1.2 2 1.1 1.8 1.1 1.7 1.1-.7 1.1 .2 1.2-.8 1.1-.3 1.1 .5 1.1 .8 1.1 1 1.2-.3 1.1-1 1.1-.1 1.1 1.7 1.1 .2 1.2 .2 1.1-.8 1.1 .1 1.1-.4 1.1 .1 1.2-.7 1.1-.1 1.1-.1 1.1 .3 1.1 .7 1.2 1.1 1.1 1 1.1 .1 1.1 0 1.1-.8 1.2 .2 1.1-.2 1.1 .8 1.1 .9 1.1 1.5 1.2 .7 1.1 0 1.1-.8 1.1 .1 1.1-.6 1.2 .6 1.1-.5 1.1 0 1.1-.8 1.1-.1 1.2 .8 1.1-.1 1.1 .7 1.1 .3 1.1 1.1 1.2-.1 1.1 .6 1.1 .2 1.1 .3 1.1 .2 1.2-.7 1.1 0 1.1-.7 1.1-1.4 1.1-.3 1.2-.7 1.1 .9 1.1 .2 1.1 .6 1.1 .2 1.2 .3 1.1-1.2 1.1 .1 1.1-1 1.1 .4 1.2 .2 1.1 1 1.1 .3 1.1 .8 1.1-.8 1.2-.2 1.1 .8 1.1-.4 1.1 .2 1.1 .5 1.2 .4 1.1 .4 1.1 .5 1.1 .1 1.1-1 1.2 .2 1.1 .1 1.1-.5 1.1 .4 1.1-.2 1.2 .5 1.1-.5 1.1-.7 1.1-1 1.1-.1 1.2 .1 1.1 .8 1.1 .6 1.1 .6 1.1 0 1.2-.9 1.1 0 1.1-.6 1.1-.2 1.1 .4 1.2 .5 1.1-.6 1.1-.4 1.1-.6 1.1 .4 1.2-.1 1.1-.6 1.1-.1 1.1 .2 1.1-.8 1.2 .4 1.1-.1 1.1 1.2 1.1 .9 1.1 .1 1.2 .1 1.1 .3 1.1-.6 1.1 .2 1.1-.3 1.2 .1 1.1-.4 1.1-.1 1.1-.1 1.1-.3 1.2-.2 1.1-.8 1.1-.8 1.1 2 1.1 1.3 1.2 .8 1.1 .5 1.1 .1 1.1-.1 1.1-.6 1.2-1.3 1.1-1.2 1.1-2.1 1.1 1 1.1-.6 1.2 .3 1.1 .2 1.1 0 1.1-.3 1.1-.2 1.2-.4 1.1 0 1.1 .5 1.1 1.3 1.1 .6 1.2 .4 1.1-1.2 1.1-.3 1.1-.4 1.1 .1 1.2-.4 1.1 .3 1.1 .8 1.1 1 1.1-.1 1.2 0 1.1-1 1.1 .9 1.1-.7 1.1 1.2 1.2 .4 1.1 1.3 1.1-.3 1.1 0 1.1-1 1.2-.8 1.1 1.1 1.1 .7 1.1 1.5 1.1-1 1.2-.5 1.1-.4 1.1-1.8 1.1-.8 1.1 1.2 1.2 1.4 1.1 .2 1.1-.1 1.1 .2 1.1-.4 1.2-.7 1.1-.4 1.1 .7 1.1 .2 1.1-.7 1.2-.2 1.1-1.6 1.1-.5 1.1-.2 1.1-.2 1.2-.5 1.1 1.3 1.1 .3 1.1 .1 1.1 .3 1.2 .4 1.1 .1 1.1-.5 1.1-1.1 1.1 0 1.2-.4 1.1-.9 1.1-.2 1.1-.1 1.1-.7 1.2 .7 1.1-.1 1.1 .5 1.1 2.3 1.1 .2 1.2 .3 1.1 .3 1.1-.6 1.1 .3 1.1-.4 1.2 .3 1.1 .4 1.1 .8 1.1 .6 1.1 .2 1.2-1.6 1.1-1.3 1.1 0 1.1-.4 1.1 1.1 1.2 .4 1.1 .5 1.1-1.1 1.1 0 1.1 .2 1.2 0 1.1 .7 1.1 .2 1.1 1 1.1 .7 1.2 1.3 1.1 .3 1.1-.5 1.1-1.7 1.1-.8 1.2-1.1 1.1 .9 1.1-.3 1.1 .5 1.1-.4 1.2-1.1 1.1-.1 1.1-.9 1.1-.2 1.1 .9 1.2 .9 1.1-.2 1.1-.3 1.1 .1 1.1 1.3 1.2 .1 1.1-.5 1.1-.1 1.1-1.1 1.1-.7 1.2-.7 1.1 .6 1.1 .5 1.1-.9 1.1-.8 1.2 .4 1.1 1.8 1.1 .7 1.1 .3 1.1 1.3 1.2-1.3 1.1 .9 1.1-.3 1.1 .4 1.1-.3 1.2 0 1.1 .4 1.1-.7 1.1-.8 1.1-.8 1.2 .5 1.1 .1 1.1 1.1 1.1 1.2 1.1 .5 1.2-.4 1.1 .2 1.1-.3 1.1-.6 1.1-1.5 1.2-1.3 1.1-1.3 1.1 .6 1.1 0 1.1 1.3 1.2 .4 1.1 .6 1.1 .6 1.1 .8 1.1-1.8 1.2-1.7 1.1-.9 1.1-.1 1.1-.7 1.1 .5 1.2-.1 1.1 1.2 1.1 .6 1.1 .2 1.1 1.1 1.2 .1 1.1 .8 1.1 .2 1.1 .7 1.1-.7 1.2-.4 1.1 1.2 1.1 .5 1.1 .7 1.1 .4 1.2 .1 1.1-1 1.1-.8 1.1-.5 1.1 1.1 1.2-.6 1.1-1.8 1.1-1.4 1.1 1 1.1 .5 1.2 .4 1.1 1 1.1 0 1.1-.6 1.1 .2 1.2-.5 1.1 .7 1.1 .6 1.1-.2 1.1-.8 1.2-1.3 1.1 0 1.1-.3 1.1 .3 1.1 .4 1.2 .2 1.1 .5 1.1 .2 1.1-.9 1.1 .1 1.2-.7 1.1-.3 1.1 .7 1.1 .1 1.1 .3 1.2-.7 1.1-.1 1.1 1.1 1.1-.2 1.1-.4 1.2-.7 1.1 .5 1.1 .5 1.1 .1 1.1 .1 1.2-.4 1.1-.2 1.1-1.5 1.1 0 1.1 .9 1.2 1.1 1.1-.1 1.1 0 1.1 .9 1.1-.5 1.2-1 1.1-.3 1.1 .1 1.1 .6 1.1 .8 1.2 .9 1.1-1 1.1-1.2 1.1-.6 1.1-1.2 1.2-.5 1.1-.2 1.1 .6 1.1-.4 1.1 1 1.2 .8 1.1 0 1.1 .6 1.1 .3 1.1 1.5 1.2 .4 1.1-.9 1.1 .1 1.1-.5 1.1-1.3 1.2-.9 1.1-.2 1.1-.2 1.1 1.1 1.1 1.1 1.2 1.6 1.1 .3 1.1 .3 1.1-.5 1.1-.1 1.2-.7 1.1 .1 1.1-1.1 1.1-.3 1.1 .3 1.2 1.1 1.1-.3 1.1 .1"/>
<path stroke="#0000FF" d="M257 1469.9l1.1 .5 1.1-.8 1.2-.7 1.1-1.9 1.1-1.1 1.1 .8 1.1 .3 1.2 1.7 1.1 .6 1.1-.9 1.1-1.5 1.1-.8 1.2 1.5 1.1 2.8 1.1 .5 1.1-.5 1.1-.3 1.2-.5 1.1-.4 1.1 .6 1.1 .2 1.1 .4 1.2 2.5 1.1 .9 1.1 .4 1.1 1.3 1.1-1.5 1.2-2 1.1-1.7 1.1-.6 1.1-1 1.1 .6 1.2-.7 1.1 1 1.1 1.6 1.1 1.1 1.1 0 1.2 .5 1.1-.4 1.1 0 1.1-1.7 1.1 .3 1.2-.2 1.1-.1 1.1 0 1.1 .5 1.1 1.3 1.2 1.1 1.1-.4 1.1 .3 1.1-1.2 1.1-1.6 1.2-.7 1.1 1.3 1.1 2.4 1.1 .5 1.1-.7 1.2 .2 1.1-.7 1.1-.8 1.1-.1 1.1-.3 1.2-1.4 1.1-.6 1.1-1.9 1.1-.2 1.1-.6 1.2 .3 1.1 1.4 1.1-.1 1.1-.2 1.1-.2 1.2 1 1.1 1.8 1.1 1.2 1.1 .4 1.1 .4 1.2 0 1.1 .2 1.1-2.2 1.1-.8 1.1-.6 1.2-.4 1.1-.6 1.1 .6 1.1 .4 1.1-.2 1.2-.8 1.1-1.1 1.1 .5 1.1 .6 1.1-.4 1.2-.1 1.1-.8 1.1-.2 1.1-.6 1.1 .5 1.2 .3 1.1-.3 1.1-.1 1.1 .8 1.1-1.6 1.2 .3 1.1-.6 1.1 .4 1.1 .1 1.1-.1 1.2-.2 1.1 1.8 1.1 .4 1.1 1.4 1.1-.3 1.2 .6 1.1-1.1 1.1-.1 1.1 .3 1.1-.3 1.2 .4 1.1 1 1.1 1.4 1.1 0 1.1-.7 1.2-.6 1.1 .3 1.1 .4 1.1-.2 1.1-1.2 1.2-.3 1.1-.9 1.1-.4 1.1 1 1.1 .1 1.2 .5 1.1 .8 1.1 1.6 1.1 .1 1.1 .5 1.2-.7 1.1-1.2 1.1-1.1 1.1-1.8 1.1-2 1.2-.2 1.1 .4 1.1 .1 1.1 1.7 1.1 1 1.2-.5 1.1-1.3 1.1 .1 1.1-.2 1.1 .9 1.2 1.2 1.1 .8 1.1-.4 1.1-1.1 1.1-.9 1.2-1.1 1.1-.6 1.1 1.6 1.1 1.2 1.1 .5 1.2 1.1 1.1-.6 1.1-1 1.1-.4 1.1 .2 1.2 1.2 1.1-.1 1.1-1.3 1.1 .2 1.1-.2 1.2-.2 1.1 .1 1.1-.4 1.1 .8 1.1-.1 1.2 .4 1.1-.2 1.1 .1 1.1-.7 1.1-1 1.2-1.8 1.1-.2 1.1-.4 1.1 .3 1.1-1.1 1.2 0 1.1 2.2 1.1 1.5 1.1-.5 1.1-1.5 1.2-.3 1.1-.3 1.1 0 1.1 .7 1.1 .5 1.2-.2 1.1 .2 1.1-.7 1.1-1.3 1.1-.2 1.2-.7 1.1-.6 1.1 .5 1.1 2 1.1 1.7 1.2-.5 1.1-1.1 1.1-.8 1.1-.9 1.1-.5 1.2 .6 1.1 1.1 1.1 0 1.1-.7 1.1-.4 1.2-.3 1.1 .9 1.1 0 1.1-.3 1.1 1.1 1.2 1.1 1.1 .9 1.1-.5 1.1-.3 1.1-1.3 1.2-2.1 1.1-1 1.1 1.6 1.1-.2 1.1 1.1 1.2 .6 1.1 .4 1.1 .6 1.1-.8 1.1 .4 1.2 .4 1.1-.3 1.1-.4 1.1-.8 1.1-.5 1.2-.6 1.1 .5 1.1 1.4 1.1-.1 1.1-.7 1.2-1.6 1.1 1.8 1.1 1.2 1.1-.1 1.1 .1 1.2-1.6 1.1 .3 1.1-.4 1.1 .6 1.1-.2 1.2 .1 1.1-.2 1.1 .7 1.1 1 1.1 0 1.2-.2 1.1 .2 1.1 .1 1.1-.4 1.1-.3 1.2-.1 1.1-.8 1.1 .2 1.1 .6 1.1 .5 1.2 .8 1.1 .4 1.1 0 1.1-1.3 1.1-.2 1.2 0 1.1 .1 1.1-1.7 1.1-1.7 1.1-1.1 1.2 1.6 1.1 1.4 1.1 1 1.1-.2 1.1 0 1.2-.3 1.1 .3 1.1 .5 1.1 .7 1.1 .5 1.2 .3 1.1-.2 1.1-.8 1.1-.8 1.1 .2 1.2 .4 1.1-.2 1.1 .7 1.1 .4 1.1-1 1.2-.6 1.1-1.2 1.1 .2 1.1-.6 1.1-.5 1.2 .6 1.1 .3 1.1 .3 1.1 1.3 1.1-.5 1.2 .1 1.1 .1 1.1 .4 1.1 .9 1.1-1.2 1.2-.5 1.1-1 1.1-.7 1.1 .2 1.1 .4 1.2 .9 1.1 .4 1.1-.3 1.1 .3 1.1-.2 1.2-.7 1.1-.9 1.1-1.6 1.1 .4 1.1-.1 1.2 .6 1.1 1.5 1.1 .6 1.1-.8 1.1-1 1.2 .3 1.1-.8 1.1 .7 1.1 .2 1.1 .1 1.2 0 1.1 .1 1.1-.2 1.1-1.3 1.1-.5 1.2 1.3 1.1 .9 1.1 0 1.1 .1 1.1-.2 1.2-2.4 1.1-.6 1.1-.1 1.1-.6 1.1 1.3 1.2 .9 1.1 .5 1.1 1.2 1.1 0 1.1 .1 1.2 .9 1.1-.3 1.1-.2 1.1 0 1.1-.5 1.2-.9 1.1 .1 1.1 .1 1.1 .1 1.1 .7 1.2 .9 1.1 .2 1.1 .4 1.1-.5 1.1-1.5 1.2-1 1.1-.9 1.1-.2 1.1-.1 1.1 .4 1.2-.3 1.1 1.9 1.1 1 1.1 .2 1.1-.8 1.2-.5 1.1-.6 1.1-.8 1.1 1.1 1.1 .9 1.2 0 1.1-1.5 1.1-1 1.1 .5 1.1 .1 1.2-.2 1.1-1.4 1.1-.9 1.1 1.6 1.1 .3 1.2 1.1 1.1-.7 1.1 1 1.1-.8 1.1 .6 1.2 .5 1.1 .1 1.1 .4 1.1-1 1.1-1.6 1.2-.4 1.1-.2 1.1 1 1.1-1.5 1.1 .1 1.2-.4 1.1 .3 1.1 0 1.1-1 1.1-.3 1.2-.2 1.1-.7 1.1 1.9 1.1 2 1.1 1.1 1.2 1.3 1.1 1.5 1.1 0 1.1 .6 1.1-1.1 1.2-2.2 1.1-1.6 1.1 0 1.1 0 1.1 .4 1.2 1.1 1.1 .5 1.1 1.3 1.1 .6 1.1-1.8 1.2-.2 1.1-2 1.1-1 1.1 .2 1.1 2.3 1.2 1.3 1.1-1 1.1-1.2 1.1-1.7 1.1 1.3 1.2 .4 1.1 .8 1.1 1.2 1.1-.3 1.1-1.8 1.2-1.2 1.1 1.6 1.1 .1 1.1-.3 1.1 .1 1.2 0 1.1-.1 1.1-.5 1.1 .2 1.1-.6 1.2 .1 1.1 0 1.1-.5 1.1-.1 1.1 .5 1.2 .3 1.1-.5 1.1 .7 1.1 .7 1.1 1.3 1.2-.8 1.1 .6 1.1 .2 1.1-.5 1.1-.1 1.2 1.2 1.1 .6 1.1-.7 1.1-1.2 1.1-1.5 1.2 1.1 1.1 .1 1.1-1 1.1-1.2 1.1-1.2 1.2 .1 1.1-1.3 1.1 .4 1.1 .9 1.1 .4 1.2 0 1.1 .7 1.1 .8 1.1 .6 1.1 .4 1.2-.6 1.1-.7 1.1-.3 1.1-.8 1.1 1.1 1.2 1.4 1.1 .2 1.1 .1 1.1 .2 1.1-1.2 1.2-1 1.1-.4 1.1-.9 1.1-.4 1.1 1.7 1.2 .6 1.1 .6 1.1 .4 1.1 .7 1.1-.1 1.2-.6 1.1-1.7 1.1-1.6 1.1 .4 1.1 .7 1.2 .6 1.1 .9 1.1 1 1.1-.4 1.1-.3 1.2 0 1.1 .9 1.1 .3 1.1 .5 1.1-.1 1.2-.6 1.1 .1 1.1-.6 1.1-.6 1.1-.4 1.2 1.4 1.1 1.3 1.1 0 1.1 .7 1.1 .7 1.2-.9 1.1 0 1.1-1 1.1-.8 1.1-.6 1.2-.5 1.1 .2 1.1-.4 1.1-.4 1.1 .3 1.2-.6 1.1-.7 1.1-.2 1.1 0 1.1 1.2 1.2 .7 1.1 .4 1.1 1.2 1.1 1.1 1.1-.5 1.2-.6 1.1-.2 1.1-.7 1.1-1.3 1.1 .7 1.2 2 1.1-.6 1.1-1.6 1.1-4.4 1.1-2.5 1.2-1.2 1.1 .4 1.1 3.6 1.1 .7 1.1-.6 1.2-4.7 1.1-8.7 1.1-5.4 1.1 0 1.1 4.7 1.2 6.7 1.1 4.6 1.1-.6 1.1-5.5 1.1-7 1.2-1.3 1.1 3.3 1.1 10.5 1.1 4.9 1.1 .7 1.2-3.8 1.1-9.9 1.1-6.9 1.1-1.4 1.1 3.6 1.2 10.1 1.1 6.3 1.1 1.2 1.1-3.5 1.1-11.9 1.2-8.7 1.1-2.2 1.1 4.6 1.1 14.3 1.1 9.4 1.2 1.2 1.1-6.1 1.1-16.4 1.1-12.8 1.1-4.7 1.2 4.8 1.1 14.8 1.1 12.9 1.1 4.8 1.1-4.2 1.2-16.4 1.1-13.5 1.1-5.3 1.1 3.2 1.1 15 1.2 16.4 1.1 5.1 1.1-4.5 1.1-15.5 1.1-19.3 1.2-8.2 1.1 2.4 1.1 11.6 1.1 20.2 1.1 8.1 1.2-1.5 1.1-12.5 1.1-24.3 1.1-11 1.1-.5 1.2 11.1 1.1 23.7 1.1 11.4 1.1 1.6 1.1-10.4 1.2-24.4 1.1-15.6 1.1-3.2 1.1 7 1.1 21.8 1.2 18.7 1.1 7.1 1.1-4.6 1.1-18.3 1.1-26.6 1.2-10.5 1.1 2.4 1.1 14.5 1.1 29.8 1.1 14.7 1.2 1.6 1.1-13.3 1.1-29.5 1.1-20.1 1.1-6.2 1.2 8.1 1.1 24.5 1.1 27.1 1.1 6.6 1.1-4.7 1.2-19.2 1.1-33.2 1.1-15.6 1.1-.5 1.1 12.5 1.2 32.8 1.1 20.2 1.1 4.8 1.1-8.9 1.1-25.1 1.2-27.3 1.1-8.8 1.1 4 1.1 16.6 1.1 33.3 1.2 16.2 1.1 1.1 1.1-12.9 1.1-32.6 1.1-25 1.2-8.9 1.1 5.7 1.1 21.8 1.1 35.1 1.1 16.2 1.2 .9 1.1-13.3 1.1-36.6 1.1-23.4 1.1-8.2 1.2 7.9 1.1 22.8 1.1 35.2 1.1 14.4 1.1 0 1.2-14.2 1.1-34.4 1.1-22.1 1.1-6.7 1.1 6.4 1.2 20.3 1.1 33.9 1.1 14.5 1.1 .2 1.1-13.8 1.2-34.3 1.1-21 1.1-7.2 1.1 6.8 1.1 20.2 1.2 35 1.1 15.5 1.1 3.3 1.1-10.3 1.1-27.2 1.2-23.3 1.1-9.7 1.1 3.2 1.1 16.2 1.1 29.8 1.2 17.6 1.1 5.8 1.1-6.8 1.1-18.3 1.1-26.8 1.2-11.5 1.1 .3 1.1 11.2 1.1 24.9 1.1 18 1.2 7.3 1.1-3.2 1.1-12.8 1.1-22.1 1.1-12.3 1.2-1.8 1.1 7.2 1.1 13.7 1.1 17.7 1.1 7.5 1.2-.4 1.1-5.5 1.1-9.8 1.1-6.4 1.1 .2 1.2 3.7 1.1 4.7 1.1 2.6 1.1 2.7 1.1 3.9 1.2 2.1 1.1 .4 1.1 2.5 1.1 2.6 1.1-.3 1.2-.6 1.1 0 1.1-.5 1.1-1.2 1.1-1 1.2-5.3 1.1-8.1 1.1-6 1.1-4.9 1.1-1.9 1.2 2 1.1 6.7 1.1 5.1 1.1 1.1 1.1-2.1 1.2-6 1.1-14 1.1-9.2 1.1-4.3 1.1 .5 1.2 6.8 1.1 14.1 1.1 8.3 1.1 2.3 1.1-3 1.2-10.5 1.1-16.5 1.1-8.4 1.1-4.7 1.1 2.8 1.2 11.4 1.1 21.4 1.1 10.5 1.1 3.3 1.1-5.3 1.2-14.8 1.1-25.2 1.1-12.1 1.1-3.6 1.1 6.2 1.2 14.7 1.1 26.2 1.1 11.7 1.1 3 1.1-6.8 1.2-16.8 1.1-26.9 1.1-13.7 1.1-2.9 1.1 6.6 1.2 18.3 1.1 30.2 1.1 14.6 1.1 3.3 1.1-7.4 1.2-18.5 1.1-31.2 1.1-15.3 1.1-3.9 1.1 7.6 1.2 19.8 1.1 32.3 1.1 15.5 1.1 4.5 1.1-8.1 1.2-19 1.1-33.9 1.1-15.9 1.1-3.6 1.1 4.8 1.2 15 1.1 33.1 1.1 19.2 1.1 7.4 1.1-2.9 1.2-14.3 1.1-30.8 1.1-17 1.1-7.3 1.1 3 1.2 13.3 1.1 29.3 1.1 18.3 1.1 8 1.1-1.2 1.2-12 1.1-28.4 1.1-21.9 1.1-9.6 1.1 .1 1.2 10.7 1.1 21.7 1.1 27.3 1.1 11.2 1.1 1.8 1.2-8.8 1.1-18.2 1.1-28.4 1.1-13.7 1.1-3.3 1.2 4.6 1.1 13.5 1.1 26.8 1.1 12.7 1.1 5 1.2-4.1 1.1-11.6 1.1-25.2 1.1-16.2 1.1-6.4 1.2 1.1 1.1 8.5 1.1 16.8 1.1 16.6 1.1 6 1.2-.3 1.1-7.1 1.1-13.4 1.1-20.1 1.1-9.2 1.2-5.8 1.1 2 1.1 8.9 1.1 17.1 1.1 9.4 1.2 2.2 1.1-4 1.1-7.5 1.1-14.5 1.1-11.9 1.2-4.3 1.1 .2 1.1 2.8 1.1 8.2 1.1 13.9 1.2 6.7 1.1 2.2 1.1-2.5 1.1-6.8 1.1-14.2 1.2-8.8 1.1-4.4 1.1-.4 1.1 5.2 1.1 10 1.2 13.3 1.1 6.2 1.1 1.8 1.1-3.7 1.1-7.5 1.2-14 1.1-7.8 1.1-3.4 1.1 1.8 1.1 6.8 1.2 11.9 1.1 9.4 1.1 3.4 1.1 1.1 1.1-1.5 1.2-6.1 1.1-10.2 1.1-5.3 1.1-1.2 1.1 1.2 1.2 4.3 1.1 7.9 1.1 6 1.1 3.4 1.1 .6 1.2-2.7 1.1-6.9 1.1-9.8 1.1-3 1.1-.2 1.2 2.4 1.1 4.5 1.1 8.4 1.1 7.2 1.1 4.7 1.2 1.2 1.1-1.7 1.1-4.8 1.1-8.2 1.1-3.6 1.2-1 1.1 1.9 1.1 2.9 1.1 4.8 1.1 6.5 1.2 2.9 1.1 1.1 1.1-.2 1.1-2.4 1.1-5.8 1.2-4.5 1.1-.7 1.1 2 1.1 3.1 1.1 4.7 1.2 5.2 1.1 3 1.1 2.1 1.1 1.2 1.1-1.1 1.2-3.3 1.1-3.1 1.1-1.3 1.1-.1 1.1 1.2 1.2 2.4 1.1 2.6 1.1 2.4 1.1 1.4 1.1 .1 1.2 .3 1.1-1.5 1.1-3 1.1-1.3 1.1 0 1.2 1 1.1 2.4 1.1 3.7 1.1 2.5 1.1 2 1.2 1.1 1.1-.8 1.1-.8 1.1 .5 1.1 1 1.2 .8 1.1 .1 1.1-.1 1.1 .9 1.1 .1 1.2 .7 1.1 .1 1.1 .8 1.1 .1 1.1 0 1.2-1.2 1.1-.2 1.1-.6 1.1 .7 1.1 .8 1.2 1.1 1.1 1.6 1.1-.3 1.1-.6 1.1-.7 1.2-.2 1.1 .3 1.1 .1 1.1-.2 1.1 0 1.2 .5 1.1-.6 1.1 1.7 1.1 1.2 1.1-.1 1.2 .7 1.1-.2 1.1-1.2 1.1 .3 1.1 1 1.2 1 1.1 .9 1.1 .6 1.1 1.3 1.1-1.2 1.2-.7 1.1-2.1 1.1-.6 1.1-1.8 1.1 .5 1.2 1.3 1.1 .5 1.1-.6 1.1 .4 1.1 .2 1.2 .7 1.1-.7 1.1 1 1.1-.7 1.1 .3 1.2-.4 1.1 1.1 1.1 1.3 1.1 .7 1.1 .5 1.2-.3 1.1-.2 1.1-.3 1.1-1 1.1-.3 1.2 .6 1.1 1.8 1.1 2.1 1.1-.7 1.1 1.3 1.2-.2 1.1 1 1.1 .9 1.1-1.2 1.1-1.1 1.2-1.3 1.1-1.5 1.1-1 1.1-1 1.1 0 1.2-.6 1.1-.1 1.1-.6 1.1 .7 1.1-.9 1.2 1.3 1.1 .4 1.1 .7 1.1 .3 1.1-.9 1.2-1.2 1.1-2.8 1.1 .1 1.1-.1 1.1 1.3 1.2 1.6 1.1 2.6 1.1 .1 1.1 .1 1.1-1 1.2-1.8 1.1-2.2 1.1-.8 1.1-1.5 1.1 1 1.2 1.5 1.1 .8 1.1 .9 1.1 2.3 1.1-.4 1.2 .4 1.1-1 1.1-.2 1.1-.8 1.1 .5 1.2 .5 1.1-1.1 1.1-1.4 1.1-.5 1.1-.6 1.2-.4 1.1 .1 1.1-.8 1.1 .7 1.1 1.1 1.2 .7 1.1-1.1 1.1-.1 1.1-.8 1.1-.8 1.2-.3 1.1 .5 1.1 .6 1.1 0 1.1 .7 1.2-.3 1.1 .4 1.1 .3 1.1-1.8 1.1-.6 1.2-.8 1.1 .5 1.1 .6 1.1 .5 1.1 .6 1.2-1.6 1.1-1.5 1.1-1.5 1.1-1.4 1.1-1.6 1.2 2 1.1 2.5 1.1 .5 1.1-.8 1.1-.3 1.2-1.3 1.1-1.5 1.1-.1 1.1 .6 1.1-.3 1.2 .3 1.1 .5 1.1-1.1 1.1 0 1.1 .5 1.2 .1 1.1-.5 1.1 .2 1.1 .5 1.1 .8 1.2 1.7 1.1 .3 1.1-2.3 1.1-2.4 1.1 1.3 1.2 1.6 1.1 1.3 1.1 1 1.1 1.3 1.1-.3 1.2-1.3 1.1 .7 1.1 .1 1.1 .5 1.1-.2 1.2-.2 1.1 .2 1.1-.4 1.1 .5 1.1 .5 1.2 1.2 1.1 0 1.1 .9 1.1 .4 1.1 1 1.2 .7 1.1 1.2 1.1 .5 1.1 1.6 1.1 .1 1.2 .6 1.1 .3 1.1 .5 1.1-1.6 1.1-.2 1.2 .3 1.1-.1 1.1 1.5 1.1-.1 1.1 .9 1.2-.4 1.1-.6 1.1 .3 1.1 .9 1.1 1.2 1.2-.3 1.1 .2 1.1 .3 1.1 .2 1.1 1.4 1.2-.5 1.1 .4 1.1 .1 1.1-.2 1.1-.3 1.2-.9 1.1-.5 1.1-.6 1.1 .6 1.1 1 1.2 2 1.1 2.9 1.1 1.7 1.1 1.8 1.1-.2 1.2-.8 1.1-.7 1.1-1.4 1.1-1.5 1.1 1.4 1.2 .2 1.1 .1 1.1-1.2 1.1-1.1 1.1 .9 1.2 1 1.1 .9 1.1 .6 1.1 .5 1.1 .2 1.2 .2 1.1 .3 1.1-.2 1.1-.1 1.1-1.7 1.2-.1 1.1 0 1.1 .1 1.1 .2 1.1 .8 1.2 .8 1.1 .1 1.1 .4 1.1 1.6 1.1 1.9 1.2 1 1.1-1.9 1.1-2 1.1 .3 1.1-.1 1.2 1.3 1.1 .5 1.1 .2 1.1-.4 1.1-1.3 1.2-.1 1.1 1.3 1.1 .3 1.1-.4 1.1 .1 1.2-1.4 1.1-1.4 1.1-.7 1.1-.8 1.1-.3 1.2 1.1 1.1 1.7 1.1-.6 1.1-.3 1.1 0 1.2-1 1.1-1.2 1.1 .6 1.1 1.6 1.1 .3 1.2 1.4 1.1 .9 1.1-1.5 1.1-1 1.1-.3 1.2 .5 1.1 .6 1.1-.8 1.1-1.4 1.1 .2 1.2 2 1.1 .7 1.1-.8 1.1 .8 1.1 .1 1.2 .2 1.1 .4 1.1 .7 1.1-.1 1.1-1.1 1.2-1.1 1.1-1.1 1.1-.8 1.1-1 1.1 1.3 1.2-.3 1.1 .7 1.1 .7 1.1 .4 1.1-.1 1.2 .3 1.1 1 1.1 1.3 1.1 .2 1.1-.4 1.2 .2 1.1 .1 1.1 .6 1.1-2.1 1.1-1.4 1.2-1.7 1.1-.4 1.1-.4 1.1 1.5 1.1 1.6 1.2 .6 1.1 .4 1.1-.3 1.1 .9 1.1-.6 1.2 1.1 1.1 .2 1.1 .1 1.1-1.6 1.1-.8 1.2-.8 1.1-.4 1.1-.4 1.1 1.2 1.1 .8 1.2 .5 1.1 .6 1.1 0 1.1-1.5 1.1-.6 1.2-.8 1.1-1.4 1.1-.5 1.1 0 1.1 .1 1.2 1 1.1 .4 1.1-.9 1.1-.1 1.1-.1 1.2-.4 1.1 1.1 1.1 1.1 1.1 1.1 1.1-.1 1.2-.2 1.1-.5 1.1 1.2 1.1 1.1 1.1-.1 1.2 .6 1.1-.8 1.1-.9 1.1-.8 1.1-.6 1.2 .9 1.1-.3 1.1-.5 1.1 .9 1.1-.2 1.2-.2 1.1-.6 1.1-.6 1.1-.2 1.1 .8 1.2 1 1.1 1 1.1 .4 1.1-.1 1.1 .5 1.2 .5 1.1-.5 1.1-.4 1.1 0 1.1 .8 1.2-.9 1.1-1 1.1-1.7 1.1 .5 1.1-.3 1.2 .7 1.1 .6 1.1 1.2 1.1 .2 1.1 1.3 1.2 .8 1.1 .1 1.1-.6 1.1-1.7 1.1-2 1.2 1.2 1.1 2.1 1.1 .4 1.1-.5 1.1-.7 1.2-1.9 1.1-1.7 1.1-.6 1.1-.5 1.1 .1 1.2 1 1.1 .9 1.1 .4 1.1-.7 1.1 0 1.2-.3 1.1 0 1.1-.1 1.1 1.8 1.1 .7 1.2 1 1.1 1.1 1.1-1.4 1.1-.5 1.1 .3 1.2 .7 1.1 .8 1.1 0 1.1-.3 1.1-1.1 1.2-.4 1.1-.7 1.1-.1 1.1-.4 1.1-.4 1.2 0 1.1 .6 1.1 .9 1.1-1.9 1.1-1.5 1.2-.3 1.1 0 1.1 0 1.1 1.8 1.1 .8 1.2 1 1.1 .7 1.1 0 1.1-.2 1.1-.7 1.2 1.1 1.1-1.3 1.1-.6 1.1 .4 1.1-.8 1.2 0 1.1 .5 1.1 .5 1.1-1.1 1.1-.7 1.2-.5 1.1 .4 1.1-1.1 1.1-.4 1.1-1 1.2 1.6 1.1 .3 1.1 .4 1.1-.6 1.1 .9 1.2 .4 1.1 1.2 1.1 1.2 1.1-.2 1.1 0 1.2-.8 1.1-1.2 1.1 1 1.1 .5 1.1 .6 1.2 .5 1.1 .9 1.1-2.4 1.1-1.2 1.1-.5 1.2 1.2 1.1 .2 1.1-.3 1.1-.6 1.1 .3 1.2 .8 1.1-.4 1.1 .8 1.1 1.1 1.1-1.7 1.2 0 1.1-1.8 1.1-.6 1.1-.9 1.1 1.5 1.2 .9 1.1 .1 1.1-.1 1.1 .7 1.1 .3 1.2 .6 1.1-.3 1.1-1.1 1.1-.7 1.1 .5 1.2 .2 1.1 .3 1.1 .3 1.1-.3 1.1-.7 1.2 .1 1.1 .2 1.1 .3 1.1-1.2 1.1-1.8 1.2-.2 1.1-.4 1.1 .5 1.1 1.3 1.1 1.8 1.2 1.1 1.1 .6 1.1 .7 1.1-1.2 1.1 .4 1.2-1.9 1.1-.3 1.1 0 1.1-.5 1.1 .1 1.2 2.2 1.1 .4 1.1 .5 1.1-.9 1.1-.1 1.2-.2 1.1-.2 1.1 .1 1.1 .4 1.1-.4 1.2 0 1.1 0 1.1-1.4 1.1-.6 1.1-.7 1.2-.4 1.1 .5 1.1-.1 1.1 1.1 1.1 .1 1.2-.4 1.1 .3 1.1-.1 1.1 .2 1.1 .9 1.2-.1 1.1 .7 1.1-.1 1.1-.6 1.1-.4 1.2-.3 1.1-.6 1.1-.5 1.1 .3 1.1-.3 1.2-.4 1.1 .9 1.1 .4 1.1 0 1.1 1.4 1.2 1.2 1.1-.9 1.1-1.2 1.1 1.2 1.1 .4 1.2 .4 1.1-3.7 1.1-2.3 1.1 .8 1.1 1.1 1.2 .9 1.1 1.4 1.1 .1 1.1-1.3 1.1-1.5 1.2 .2 1.1 2.1 1.1 .2 1.1 .6 1.1 .3 1.2-.2 1.1 0 1.1 .1 1.1-.3 1.1-.4 1.2-1.1 1.1-1.4 1.1 0 1.1 0 1.1 .5 1.2 .2 1.1 .2 1.1 .4"/>
</g>
<rect x="257" y="35.5" width="1820" height="1467.5" fill="none" stroke="#000" stroke-width="6.5"/>
<g stroke="#000" stroke-width="6">
<line x1="397.0" y1="1503" x2="397.0" y2="1475.0"/>
<line x1="397.0" y1="35.5" x2="397.0" y2="63.5"/>
<line x1="537.0" y1="1503" x2="537.0" y2="1488.0"/>
<line x1="537.0" y1="35.5" x2="537.0" y2="50.5"/>
<line x1="677.0" y1="1503" x2="677.0" y2="1475.0"/>
<line x1="677.0" y1="35.5" x2="677.0" y2="63.5"/>
<line x1="817.0" y1="1503" x2="817.0" y2="1488.0"/>
<line x1="817.0" y1="35.5" x2="817.0" y2="50.5"/>
<line x1="957.0" y1="1503" x2="957.0" y2="1475.0"/>
<line x1="957.0" y1="35.5" x2="957.0" y2="63.5"/>
<line x1="1097.0" y1="1503" x2="1097.0" y2="1488.0"/>
<line x1="1097.0" y1="35.5" x2="1097.0" y2="50.5"/>
<line x1="1237.0" y1="1503" x2="1237.0" y2="1475.0"/>
<line x1="1237.0" y1="35.5" x2="1237.0" y2="63.5"/>
<line x1="1377.0" y1="1503" x2="1377.0" y2="1488.0"/>
<line x1="1377.0" y1="35.5" x2="1377.0" y2="50.5"/>
<line x1="1517.0" y1="1503" x2="1517.0" y2="1475.0"/>
<line x1="1517.0" y1="35.5" x2="1517.0" y2="63.5"/>
<line x1="1657.0" y1="1503" x2="1657.0" y2="1488.0"/>
<line x1="1657.0" y1="35.5" x2="1657.0" y2="50.5"/>
<line x1="1797.0" y1="1503" x2="1797.0" y2="1475.0"/>
<line x1="1797.0" y1="35.5" x2="1797.0" y2="63.5"/>
<line x1="1937.0" y1="1503" x2="1937.0" y2="1488.0"/>
<line x1="1937.0" y1="35.5" x2="1937.0" y2="50.5"/>
<line x1="257" y1="117.0" x2="272.0" y2="117.0"/>
<line x1="2077" y1="117.0" x2="2062.0" y2="117.0"/>
<line x1="257" y1="198.6" x2="286.0" y2="198.6"/>
<line x1="2077" y1="198.6" x2="2048.0" y2="198.6"/>
<line x1="257" y1="280.1" x2="272.0" y2="280.1"/>
<line x1="2077" y1="280.1" x2="2062.0" y2="280.1"/>
<line x1="257" y1="361.6" x2="286.0" y2="361.6"/>
<line x1="2077" y1="361.6" x2="2048.0" y2="361.6"/>
<line x1="257" y1="443.1" x2="272.0" y2="443.1"/>
<line x1="2077" y1="443.1" x2="2062.0" y2="443.1"/>
<line x1="257" y1="524.7" x2="286.0" y2="524.7"/>
<line x1="2077" y1="524.7" x2="2048.0" y2="524.7"/>
<line x1="257" y1="606.2" x2="272.0" y2="606.2"/>
<line x1="2077" y1="606.2" x2="2062.0" y2="606.2"/>
<line x1="257" y1="687.7" x2="286.0" y2="687.7"/>
<line x1="2077" y1="687.7" x2="2048.0" y2="687.7"/>
<line x1="257" y1="769.2" x2="272.0" y2="769.2"/>
<line x1="2077" y1="769.2" x2="2062.0" y2="769.2"/>
<line x1="257" y1="850.8" x2="286.0" y2="850.8"/>
<line x1="2077" y1="850.8" x2="2048.0" y2="850.8"/>
<line x1="257" y1="932.3" x2="272.0" y2="932.3"/>
<line x1="2077" y1="932.3" x2="2062.0" y2="932.3"/>
<line x1="257" y1="1013.8" x2="286.0" y2="1013.8"/>
<line x1="2077" y1="1013.8" x2="2048.0" y2="1013.8"/>
<line x1="257" y1="1095.4" x2="272.0" y2="1095.4"/>
<line x1="2077" y1="1095.4" x2="2062.0" y2="1095.4"/>
<line x1="257" y1="1176.9" x2="286.0" y2="1176.9"/>
<line x1="2077" y1="1176.9" x2="2048.0" y2="1176.9"/>
<line x1="257" y1="1258.4" x2="272.0" y2="1258.4"/>
<line x1="2077" y1="1258.4" x2="2062.0" y2="1258.4"/>
<line x1="257" y1="1339.9" x2="286.0" y2="1339.9"/>
<line x1="2077" y1="1339.9" x2="2048.0" y2="1339.9"/>
<line x1="257" y1="1421.5" x2="272.0" y2="1421.5"/>
<line x1="2077" y1="1421.5" x2="2062.0" y2="1421.5"/>
</g>
<g class="t" font-size="64.5" text-anchor="middle" fill="#000">
<text transform="translate(397.3 1582.8) scale(0.958 1)">2400</text>
<text transform="translate(677.3 1582.8) scale(0.958 1)">2300</text>
<text transform="translate(957.3 1582.8) scale(0.958 1)">2200</text>
<text transform="translate(1237.3 1582.8) scale(0.958 1)">2100</text>
<text transform="translate(1517.3 1582.8) scale(0.958 1)">2000</text>
<text transform="translate(1797.3 1582.8) scale(0.958 1)">1900</text>
<text transform="translate(2077.3 1582.8) scale(0.958 1)">1800</text>
</g>
<g class="t" font-size="77" fill="#000">
<text transform="translate(1109.6 253.3) rotate(-90)">2135</text>
<text transform="translate(1269.6 259.3) rotate(-90)">2077</text>
<text transform="translate(1496.4 262.8) rotate(-90)">2040</text>
<text transform="translate(1650.4 262.8) rotate(-90)">1985</text>
</g>
<g class="t" font-weight="bold">
<text transform="translate(25.8 319.1) scale(0.962 1)" font-size="78.5" fill="#000">T / °C</text>
<text transform="translate(239.0 493.8) scale(0.967 1)" font-size="77" fill="#FF0000" text-anchor="end">260</text>
<text transform="translate(238.3 723.4) scale(0.967 1)" font-size="77" fill="#A58777" text-anchor="end">200</text>
<text transform="translate(238.9 997.4) scale(0.967 1)" font-size="77" fill="#50FFFF" text-anchor="end">140</text>
<text transform="translate(238.3 1240.0) scale(0.967 1)" font-size="77" fill="#2C80FF" text-anchor="end">80</text>
<text transform="translate(235.7 1485.3) scale(0.967 1)" font-size="77" fill="#0000FF" text-anchor="end">20</text>
</g>
<text class="t" x="816.5" y="1710.8" font-size="76.5" font-weight="bold" fill="#000">wavenumber / cm<tspan font-size="52" dy="-31.3">−1</tspan></text>
</svg>
</body></html>
